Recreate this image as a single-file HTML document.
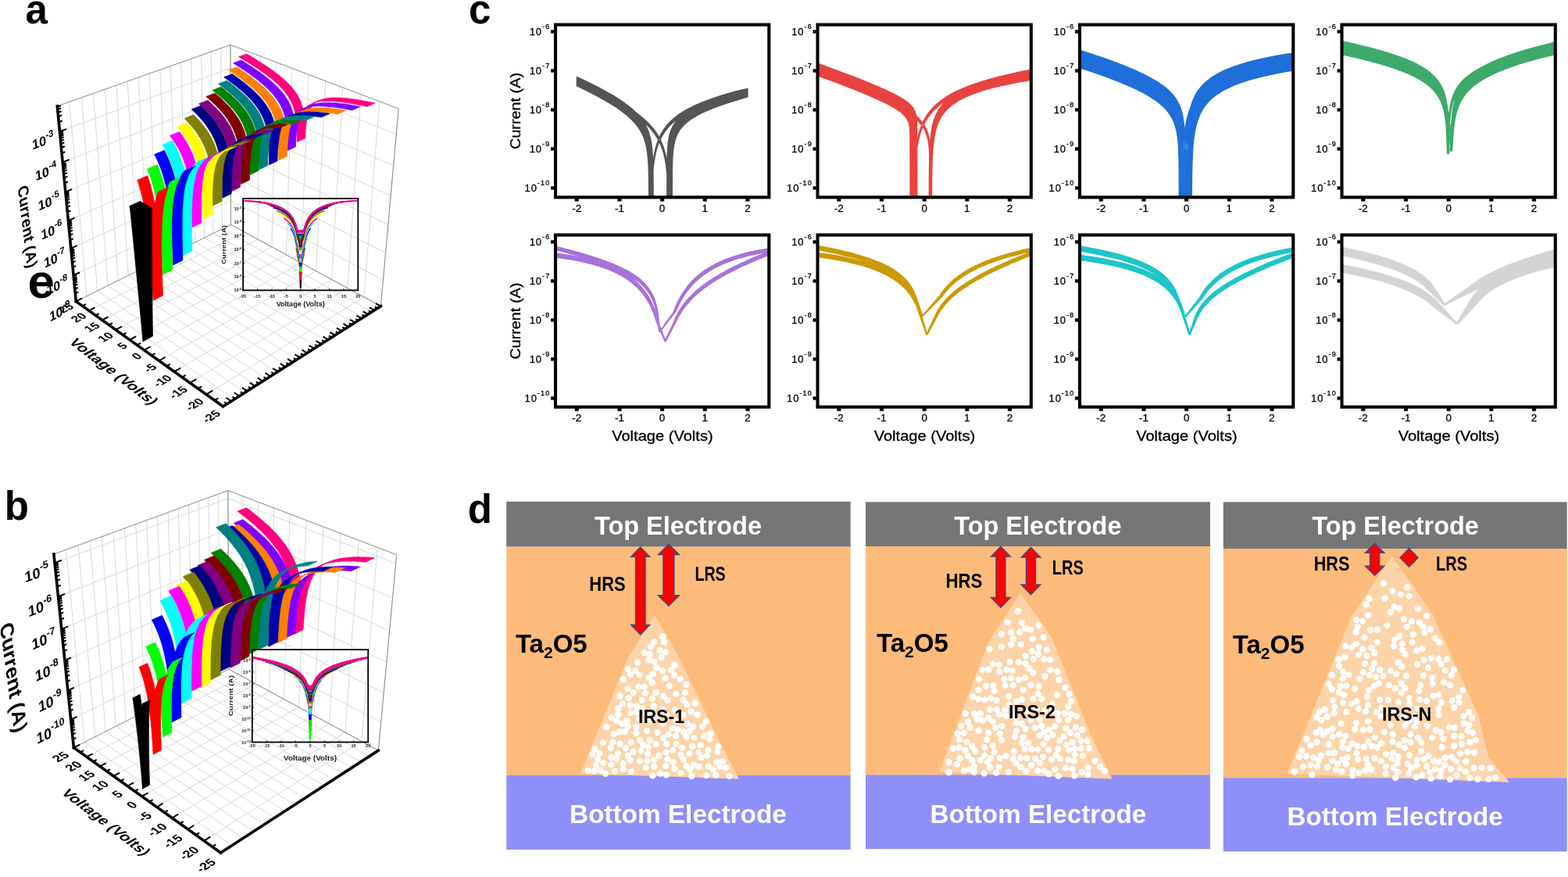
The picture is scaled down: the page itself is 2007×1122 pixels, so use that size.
<!DOCTYPE html>
<html><head><meta charset="utf-8"><title>Figure</title>
<style>html,body{margin:0;padding:0;background:#fff;overflow:hidden;}svg{display:block;}</style></head>
<body><svg width="2007" height="1122" viewBox="0 0 2007 1122">
<rect width="2007" height="1122" fill="#fff"/>
<g font-family='"Liberation Sans", Arial, sans-serif'>
<text x="598.7" y="668.5" font-size="51" font-weight="bold" fill="#000" text-anchor="start">d</text>
<rect x="648.2" y="641.7" width="440.5" height="57.9" fill="#767676"/>
<rect x="648.2" y="699.6" width="440.5" height="292.4" fill="#FDBB7B"/>
<rect x="648.2" y="992" width="440.5" height="95" fill="#8F8FFA"/>
<polygon points="838,787 804,841.4 742.8,990 945.9,996.5 926,959 867,837" fill="#FDD4AA"/>
<path d="M786.9,906.7a4.2,4.2 0 1,0 8.4,0a4.2,4.2 0 1,0 -8.4,0M861.3,922.2a4.2,4.2 0 1,0 8.4,0a4.2,4.2 0 1,0 -8.4,0M844.9,944.2a4.2,4.2 0 1,0 8.4,0a4.2,4.2 0 1,0 -8.4,0M883.6,978.5a4.2,4.2 0 1,0 8.4,0a4.2,4.2 0 1,0 -8.4,0M782.7,986.9a4.2,4.2 0 1,0 8.4,0a4.2,4.2 0 1,0 -8.4,0M857.3,975.3a4.2,4.2 0 1,0 8.4,0a4.2,4.2 0 1,0 -8.4,0M855.1,857.3a4.2,4.2 0 1,0 8.4,0a4.2,4.2 0 1,0 -8.4,0M912,991.6a4.2,4.2 0 1,0 8.4,0a4.2,4.2 0 1,0 -8.4,0M844.2,925.7a4.2,4.2 0 1,0 8.4,0a4.2,4.2 0 1,0 -8.4,0M844.4,907.5a4.2,4.2 0 1,0 8.4,0a4.2,4.2 0 1,0 -8.4,0M822.9,913.5a4.2,4.2 0 1,0 8.4,0a4.2,4.2 0 1,0 -8.4,0M810.2,937.7a4.2,4.2 0 1,0 8.4,0a4.2,4.2 0 1,0 -8.4,0M859,864a4.2,4.2 0 1,0 8.4,0a4.2,4.2 0 1,0 -8.4,0M806.4,961.8a4.2,4.2 0 1,0 8.4,0a4.2,4.2 0 1,0 -8.4,0M870.7,971.6a4.2,4.2 0 1,0 8.4,0a4.2,4.2 0 1,0 -8.4,0M777.4,956.7a4.2,4.2 0 1,0 8.4,0a4.2,4.2 0 1,0 -8.4,0M869,956.6a4.2,4.2 0 1,0 8.4,0a4.2,4.2 0 1,0 -8.4,0M793.7,869a4.2,4.2 0 1,0 8.4,0a4.2,4.2 0 1,0 -8.4,0M890,962.4a4.2,4.2 0 1,0 8.4,0a4.2,4.2 0 1,0 -8.4,0M844,858.1a4.2,4.2 0 1,0 8.4,0a4.2,4.2 0 1,0 -8.4,0M796.9,957.3a4.2,4.2 0 1,0 8.4,0a4.2,4.2 0 1,0 -8.4,0M920.7,974.4a4.2,4.2 0 1,0 8.4,0a4.2,4.2 0 1,0 -8.4,0M799.5,929.3a4.2,4.2 0 1,0 8.4,0a4.2,4.2 0 1,0 -8.4,0M822.6,981.9a4.2,4.2 0 1,0 8.4,0a4.2,4.2 0 1,0 -8.4,0M835.5,952a4.2,4.2 0 1,0 8.4,0a4.2,4.2 0 1,0 -8.4,0M902.3,959.9a4.2,4.2 0 1,0 8.4,0a4.2,4.2 0 1,0 -8.4,0M802.8,862.9a4.2,4.2 0 1,0 8.4,0a4.2,4.2 0 1,0 -8.4,0M870,914.7a4.2,4.2 0 1,0 8.4,0a4.2,4.2 0 1,0 -8.4,0M851.4,939.4a4.2,4.2 0 1,0 8.4,0a4.2,4.2 0 1,0 -8.4,0M861.4,952.1a4.2,4.2 0 1,0 8.4,0a4.2,4.2 0 1,0 -8.4,0M824,935.2a4.2,4.2 0 1,0 8.4,0a4.2,4.2 0 1,0 -8.4,0M917.3,981.4a4.2,4.2 0 1,0 8.4,0a4.2,4.2 0 1,0 -8.4,0M874.2,942.8a4.2,4.2 0 1,0 8.4,0a4.2,4.2 0 1,0 -8.4,0M767.7,950.5a4.2,4.2 0 1,0 8.4,0a4.2,4.2 0 1,0 -8.4,0M763.2,963.8a4.2,4.2 0 1,0 8.4,0a4.2,4.2 0 1,0 -8.4,0M908.4,984.4a4.2,4.2 0 1,0 8.4,0a4.2,4.2 0 1,0 -8.4,0M890.7,981a4.2,4.2 0 1,0 8.4,0a4.2,4.2 0 1,0 -8.4,0M813.2,878.6a4.2,4.2 0 1,0 8.4,0a4.2,4.2 0 1,0 -8.4,0M875.5,901.5a4.2,4.2 0 1,0 8.4,0a4.2,4.2 0 1,0 -8.4,0M879,984.6a4.2,4.2 0 1,0 8.4,0a4.2,4.2 0 1,0 -8.4,0M836,917.1a4.2,4.2 0 1,0 8.4,0a4.2,4.2 0 1,0 -8.4,0M833.5,846.7a4.2,4.2 0 1,0 8.4,0a4.2,4.2 0 1,0 -8.4,0M913,974.4a4.2,4.2 0 1,0 8.4,0a4.2,4.2 0 1,0 -8.4,0M856.5,931.7a4.2,4.2 0 1,0 8.4,0a4.2,4.2 0 1,0 -8.4,0M806.6,886.1a4.2,4.2 0 1,0 8.4,0a4.2,4.2 0 1,0 -8.4,0M818,906.7a4.2,4.2 0 1,0 8.4,0a4.2,4.2 0 1,0 -8.4,0M859.9,908.7a4.2,4.2 0 1,0 8.4,0a4.2,4.2 0 1,0 -8.4,0M831.6,862.5a4.2,4.2 0 1,0 8.4,0a4.2,4.2 0 1,0 -8.4,0M896.8,941.5a4.2,4.2 0 1,0 8.4,0a4.2,4.2 0 1,0 -8.4,0M904.3,945.6a4.2,4.2 0 1,0 8.4,0a4.2,4.2 0 1,0 -8.4,0M789.4,951.9a4.2,4.2 0 1,0 8.4,0a4.2,4.2 0 1,0 -8.4,0M867.3,989.1a4.2,4.2 0 1,0 8.4,0a4.2,4.2 0 1,0 -8.4,0M799.4,966.8a4.2,4.2 0 1,0 8.4,0a4.2,4.2 0 1,0 -8.4,0M860.7,941.5a4.2,4.2 0 1,0 8.4,0a4.2,4.2 0 1,0 -8.4,0M895.1,929.1a4.2,4.2 0 1,0 8.4,0a4.2,4.2 0 1,0 -8.4,0M845,890.7a4.2,4.2 0 1,0 8.4,0a4.2,4.2 0 1,0 -8.4,0M811.7,847.5a4.2,4.2 0 1,0 8.4,0a4.2,4.2 0 1,0 -8.4,0M848,980.1a4.2,4.2 0 1,0 8.4,0a4.2,4.2 0 1,0 -8.4,0M884,943.9a4.2,4.2 0 1,0 8.4,0a4.2,4.2 0 1,0 -8.4,0M902.4,980.5a4.2,4.2 0 1,0 8.4,0a4.2,4.2 0 1,0 -8.4,0M827.4,947.2a4.2,4.2 0 1,0 8.4,0a4.2,4.2 0 1,0 -8.4,0M820.6,835.1a4.2,4.2 0 1,0 8.4,0a4.2,4.2 0 1,0 -8.4,0M820.5,878.6a4.2,4.2 0 1,0 8.4,0a4.2,4.2 0 1,0 -8.4,0M833.1,980.7a4.2,4.2 0 1,0 8.4,0a4.2,4.2 0 1,0 -8.4,0M866.4,868.7a4.2,4.2 0 1,0 8.4,0a4.2,4.2 0 1,0 -8.4,0M924.9,982.1a4.2,4.2 0 1,0 8.4,0a4.2,4.2 0 1,0 -8.4,0M836.2,854.3a4.2,4.2 0 1,0 8.4,0a4.2,4.2 0 1,0 -8.4,0M817.2,895.8a4.2,4.2 0 1,0 8.4,0a4.2,4.2 0 1,0 -8.4,0M786.8,963.7a4.2,4.2 0 1,0 8.4,0a4.2,4.2 0 1,0 -8.4,0M893.2,969.1a4.2,4.2 0 1,0 8.4,0a4.2,4.2 0 1,0 -8.4,0M861.1,887.9a4.2,4.2 0 1,0 8.4,0a4.2,4.2 0 1,0 -8.4,0M799.4,881.3a4.2,4.2 0 1,0 8.4,0a4.2,4.2 0 1,0 -8.4,0M832.7,903.2a4.2,4.2 0 1,0 8.4,0a4.2,4.2 0 1,0 -8.4,0M832.7,971.9a4.2,4.2 0 1,0 8.4,0a4.2,4.2 0 1,0 -8.4,0M847.4,834.6a4.2,4.2 0 1,0 8.4,0a4.2,4.2 0 1,0 -8.4,0M780,949.7a4.2,4.2 0 1,0 8.4,0a4.2,4.2 0 1,0 -8.4,0M826.4,867.4a4.2,4.2 0 1,0 8.4,0a4.2,4.2 0 1,0 -8.4,0M892.6,953.4a4.2,4.2 0 1,0 8.4,0a4.2,4.2 0 1,0 -8.4,0M873.8,979.9a4.2,4.2 0 1,0 8.4,0a4.2,4.2 0 1,0 -8.4,0M802.6,902.4a4.2,4.2 0 1,0 8.4,0a4.2,4.2 0 1,0 -8.4,0M850.3,895.9a4.2,4.2 0 1,0 8.4,0a4.2,4.2 0 1,0 -8.4,0M778.2,978.4a4.2,4.2 0 1,0 8.4,0a4.2,4.2 0 1,0 -8.4,0M816.4,960.8a4.2,4.2 0 1,0 8.4,0a4.2,4.2 0 1,0 -8.4,0M793.6,984a4.2,4.2 0 1,0 8.4,0a4.2,4.2 0 1,0 -8.4,0M875.6,926.2a4.2,4.2 0 1,0 8.4,0a4.2,4.2 0 1,0 -8.4,0M748.5,986a4.2,4.2 0 1,0 8.4,0a4.2,4.2 0 1,0 -8.4,0M929.4,992.9a4.2,4.2 0 1,0 8.4,0a4.2,4.2 0 1,0 -8.4,0M837.1,937a4.2,4.2 0 1,0 8.4,0a4.2,4.2 0 1,0 -8.4,0M899.9,991.9a4.2,4.2 0 1,0 8.4,0a4.2,4.2 0 1,0 -8.4,0M814.5,863.6a4.2,4.2 0 1,0 8.4,0a4.2,4.2 0 1,0 -8.4,0M913.7,962.1a4.2,4.2 0 1,0 8.4,0a4.2,4.2 0 1,0 -8.4,0M830.6,894a4.2,4.2 0 1,0 8.4,0a4.2,4.2 0 1,0 -8.4,0M828.3,920.7a4.2,4.2 0 1,0 8.4,0a4.2,4.2 0 1,0 -8.4,0M825,964.4a4.2,4.2 0 1,0 8.4,0a4.2,4.2 0 1,0 -8.4,0M850,971.4a4.2,4.2 0 1,0 8.4,0a4.2,4.2 0 1,0 -8.4,0M813.9,920.1a4.2,4.2 0 1,0 8.4,0a4.2,4.2 0 1,0 -8.4,0M872.6,886.1a4.2,4.2 0 1,0 8.4,0a4.2,4.2 0 1,0 -8.4,0M824.3,973.4a4.2,4.2 0 1,0 8.4,0a4.2,4.2 0 1,0 -8.4,0M778,969a4.2,4.2 0 1,0 8.4,0a4.2,4.2 0 1,0 -8.4,0M788.5,936.3a4.2,4.2 0 1,0 8.4,0a4.2,4.2 0 1,0 -8.4,0M857,959.9a4.2,4.2 0 1,0 8.4,0a4.2,4.2 0 1,0 -8.4,0M848.6,991.3a4.2,4.2 0 1,0 8.4,0a4.2,4.2 0 1,0 -8.4,0M880.3,910.2a4.2,4.2 0 1,0 8.4,0a4.2,4.2 0 1,0 -8.4,0M835.4,885.7a4.2,4.2 0 1,0 8.4,0a4.2,4.2 0 1,0 -8.4,0M842.3,841a4.2,4.2 0 1,0 8.4,0a4.2,4.2 0 1,0 -8.4,0M772.2,930.1a4.2,4.2 0 1,0 8.4,0a4.2,4.2 0 1,0 -8.4,0M825.5,956.2a4.2,4.2 0 1,0 8.4,0a4.2,4.2 0 1,0 -8.4,0M849.1,914.6a4.2,4.2 0 1,0 8.4,0a4.2,4.2 0 1,0 -8.4,0M770.8,989.8a4.2,4.2 0 1,0 8.4,0a4.2,4.2 0 1,0 -8.4,0M831.2,992.4a4.2,4.2 0 1,0 8.4,0a4.2,4.2 0 1,0 -8.4,0M795.8,936.1a4.2,4.2 0 1,0 8.4,0a4.2,4.2 0 1,0 -8.4,0M802.7,912.1a4.2,4.2 0 1,0 8.4,0a4.2,4.2 0 1,0 -8.4,0M758.9,979.5a4.2,4.2 0 1,0 8.4,0a4.2,4.2 0 1,0 -8.4,0M800.5,893a4.2,4.2 0 1,0 8.4,0a4.2,4.2 0 1,0 -8.4,0M756.6,986.7a4.2,4.2 0 1,0 8.4,0a4.2,4.2 0 1,0 -8.4,0M852.4,877.5a4.2,4.2 0 1,0 8.4,0a4.2,4.2 0 1,0 -8.4,0M787.3,914.4a4.2,4.2 0 1,0 8.4,0a4.2,4.2 0 1,0 -8.4,0M778.5,918.4a4.2,4.2 0 1,0 8.4,0a4.2,4.2 0 1,0 -8.4,0M859.4,983.4a4.2,4.2 0 1,0 8.4,0a4.2,4.2 0 1,0 -8.4,0M859.1,850.8a4.2,4.2 0 1,0 8.4,0a4.2,4.2 0 1,0 -8.4,0M848.4,962.8a4.2,4.2 0 1,0 8.4,0a4.2,4.2 0 1,0 -8.4,0M781.4,939.3a4.2,4.2 0 1,0 8.4,0a4.2,4.2 0 1,0 -8.4,0M901.1,966.7a4.2,4.2 0 1,0 8.4,0a4.2,4.2 0 1,0 -8.4,0M826.1,844.3a4.2,4.2 0 1,0 8.4,0a4.2,4.2 0 1,0 -8.4,0M831,910.7a4.2,4.2 0 1,0 8.4,0a4.2,4.2 0 1,0 -8.4,0M798.2,922.1a4.2,4.2 0 1,0 8.4,0a4.2,4.2 0 1,0 -8.4,0M839.4,966.7a4.2,4.2 0 1,0 8.4,0a4.2,4.2 0 1,0 -8.4,0M878.1,964a4.2,4.2 0 1,0 8.4,0a4.2,4.2 0 1,0 -8.4,0M785,971.2a4.2,4.2 0 1,0 8.4,0a4.2,4.2 0 1,0 -8.4,0M870.4,895.5a4.2,4.2 0 1,0 8.4,0a4.2,4.2 0 1,0 -8.4,0M840.2,832.3a4.2,4.2 0 1,0 8.4,0a4.2,4.2 0 1,0 -8.4,0M789.3,890.8a4.2,4.2 0 1,0 8.4,0a4.2,4.2 0 1,0 -8.4,0M760.7,971.4a4.2,4.2 0 1,0 8.4,0a4.2,4.2 0 1,0 -8.4,0M866.8,965.7a4.2,4.2 0 1,0 8.4,0a4.2,4.2 0 1,0 -8.4,0M832.9,821.4a4.2,4.2 0 1,0 8.4,0a4.2,4.2 0 1,0 -8.4,0M888.3,914.3a4.2,4.2 0 1,0 8.4,0a4.2,4.2 0 1,0 -8.4,0M899.6,922.7a4.2,4.2 0 1,0 8.4,0a4.2,4.2 0 1,0 -8.4,0M802.8,972.9a4.2,4.2 0 1,0 8.4,0a4.2,4.2 0 1,0 -8.4,0M754,965.3a4.2,4.2 0 1,0 8.4,0a4.2,4.2 0 1,0 -8.4,0M828.7,827.5a4.2,4.2 0 1,0 8.4,0a4.2,4.2 0 1,0 -8.4,0M863.2,933.4a4.2,4.2 0 1,0 8.4,0a4.2,4.2 0 1,0 -8.4,0M803.3,949.7a4.2,4.2 0 1,0 8.4,0a4.2,4.2 0 1,0 -8.4,0M871.1,936.4a4.2,4.2 0 1,0 8.4,0a4.2,4.2 0 1,0 -8.4,0M905.1,938.4a4.2,4.2 0 1,0 8.4,0a4.2,4.2 0 1,0 -8.4,0M799.9,855.9a4.2,4.2 0 1,0 8.4,0a4.2,4.2 0 1,0 -8.4,0M810.8,911.2a4.2,4.2 0 1,0 8.4,0a4.2,4.2 0 1,0 -8.4,0M885.7,899.8a4.2,4.2 0 1,0 8.4,0a4.2,4.2 0 1,0 -8.4,0M814.8,946.9a4.2,4.2 0 1,0 8.4,0a4.2,4.2 0 1,0 -8.4,0M849,952a4.2,4.2 0 1,0 8.4,0a4.2,4.2 0 1,0 -8.4,0M840.5,989.5a4.2,4.2 0 1,0 8.4,0a4.2,4.2 0 1,0 -8.4,0M878.6,935.2a4.2,4.2 0 1,0 8.4,0a4.2,4.2 0 1,0 -8.4,0M810,930a4.2,4.2 0 1,0 8.4,0a4.2,4.2 0 1,0 -8.4,0M883,929.8a4.2,4.2 0 1,0 8.4,0a4.2,4.2 0 1,0 -8.4,0M768.1,976.4a4.2,4.2 0 1,0 8.4,0a4.2,4.2 0 1,0 -8.4,0M827.8,836.7a4.2,4.2 0 1,0 8.4,0a4.2,4.2 0 1,0 -8.4,0M792.5,900.4a4.2,4.2 0 1,0 8.4,0a4.2,4.2 0 1,0 -8.4,0M803.8,987.1a4.2,4.2 0 1,0 8.4,0a4.2,4.2 0 1,0 -8.4,0M830.7,873.5a4.2,4.2 0 1,0 8.4,0a4.2,4.2 0 1,0 -8.4,0M847.3,867.7a4.2,4.2 0 1,0 8.4,0a4.2,4.2 0 1,0 -8.4,0M874.3,875.8a4.2,4.2 0 1,0 8.4,0a4.2,4.2 0 1,0 -8.4,0M821.8,887a4.2,4.2 0 1,0 8.4,0a4.2,4.2 0 1,0 -8.4,0M844,814.2a4.2,4.2 0 1,0 8.4,0a4.2,4.2 0 1,0 -8.4,0M757,958.1a4.2,4.2 0 1,0 8.4,0a4.2,4.2 0 1,0 -8.4,0M814.8,973.8a4.2,4.2 0 1,0 8.4,0a4.2,4.2 0 1,0 -8.4,0M809.2,857.7a4.2,4.2 0 1,0 8.4,0a4.2,4.2 0 1,0 -8.4,0M846.1,821.5a4.2,4.2 0 1,0 8.4,0a4.2,4.2 0 1,0 -8.4,0M819,953.1a4.2,4.2 0 1,0 8.4,0a4.2,4.2 0 1,0 -8.4,0M810.9,903.1a4.2,4.2 0 1,0 8.4,0a4.2,4.2 0 1,0 -8.4,0M914.9,955a4.2,4.2 0 1,0 8.4,0a4.2,4.2 0 1,0 -8.4,0M785,922.1a4.2,4.2 0 1,0 8.4,0a4.2,4.2 0 1,0 -8.4,0M881,993a4.2,4.2 0 1,0 8.4,0a4.2,4.2 0 1,0 -8.4,0M764.9,985.7a4.2,4.2 0 1,0 8.4,0a4.2,4.2 0 1,0 -8.4,0M882.1,954.8a4.2,4.2 0 1,0 8.4,0a4.2,4.2 0 1,0 -8.4,0M791.9,925.7a4.2,4.2 0 1,0 8.4,0a4.2,4.2 0 1,0 -8.4,0M793.4,977a4.2,4.2 0 1,0 8.4,0a4.2,4.2 0 1,0 -8.4,0" fill="#fff"/>
<text x="761" y="683.7" font-size="33" font-weight="bold" fill="#fff" text-anchor="start" textLength="214" lengthAdjust="spacingAndGlyphs">Top Electrode</text>
<text x="728.9" y="1053.2" font-size="33" font-weight="bold" fill="#fff" text-anchor="start" textLength="278" lengthAdjust="spacingAndGlyphs">Bottom Electrode</text>
<polygon points="819.7,699.7 831.7,712.2 826,712.2 826,799.5 831.7,799.5 819.7,812 807.7,799.5 813.5,799.5 813.5,712.2 807.7,712.2" fill="#FF0000" stroke="#3A4F8A" stroke-width="1.4" stroke-linejoin="miter"/>
<polygon points="855.9,696.2 869.4,709.6 862.9,709.6 862.9,761.8 869.4,761.8 855.9,775.2 842.4,761.8 848.9,761.8 848.9,709.6 842.4,709.6" fill="#FF0000" stroke="#3A4F8A" stroke-width="1.4" stroke-linejoin="miter"/>
<text x="754.3" y="755.5" font-size="25" font-weight="bold" fill="#000" text-anchor="start" textLength="46.3" lengthAdjust="spacingAndGlyphs">HRS</text>
<text x="889.4" y="743.4" font-size="25" font-weight="bold" fill="#000" text-anchor="start" textLength="39.3" lengthAdjust="spacingAndGlyphs">LRS</text>
<text x="659.9" y="834.9" font-size="33" font-weight="bold" fill="#000">Ta<tspan font-size="21" dy="7">2</tspan><tspan dy="-7">O5</tspan></text>
<text x="817" y="925.3" font-size="24" font-weight="bold" fill="#000" text-anchor="start" textLength="59" lengthAdjust="spacingAndGlyphs">IRS-1</text>
<rect x="1108" y="642.2" width="441" height="56.9" fill="#767676"/>
<rect x="1108" y="699.1" width="441" height="292.2" fill="#FDBB7B"/>
<rect x="1108" y="991.3" width="441" height="94.9" fill="#8F8FFA"/>
<polygon points="1306,759 1265.4,821 1202,987.8 1423.6,996.4 1398,945 1346.6,816.7" fill="#FDD4AA"/>
<path d="M1341.6,971.8a4.2,4.2 0 1,0 8.4,0a4.2,4.2 0 1,0 -8.4,0M1259.7,975.1a4.2,4.2 0 1,0 8.4,0a4.2,4.2 0 1,0 -8.4,0M1233.2,949.1a4.2,4.2 0 1,0 8.4,0a4.2,4.2 0 1,0 -8.4,0M1243.2,980.5a4.2,4.2 0 1,0 8.4,0a4.2,4.2 0 1,0 -8.4,0M1277.8,811.2a4.2,4.2 0 1,0 8.4,0a4.2,4.2 0 1,0 -8.4,0M1266.5,953.8a4.2,4.2 0 1,0 8.4,0a4.2,4.2 0 1,0 -8.4,0M1210.4,988a4.2,4.2 0 1,0 8.4,0a4.2,4.2 0 1,0 -8.4,0M1364,959.5a4.2,4.2 0 1,0 8.4,0a4.2,4.2 0 1,0 -8.4,0M1403.8,980.7a4.2,4.2 0 1,0 8.4,0a4.2,4.2 0 1,0 -8.4,0M1221.7,938.5a4.2,4.2 0 1,0 8.4,0a4.2,4.2 0 1,0 -8.4,0M1318.6,843.2a4.2,4.2 0 1,0 8.4,0a4.2,4.2 0 1,0 -8.4,0M1350.5,992.7a4.2,4.2 0 1,0 8.4,0a4.2,4.2 0 1,0 -8.4,0M1210.1,975.1a4.2,4.2 0 1,0 8.4,0a4.2,4.2 0 1,0 -8.4,0M1307.2,958.1a4.2,4.2 0 1,0 8.4,0a4.2,4.2 0 1,0 -8.4,0M1359.9,982.4a4.2,4.2 0 1,0 8.4,0a4.2,4.2 0 1,0 -8.4,0M1230.9,959.5a4.2,4.2 0 1,0 8.4,0a4.2,4.2 0 1,0 -8.4,0M1359.5,879.6a4.2,4.2 0 1,0 8.4,0a4.2,4.2 0 1,0 -8.4,0M1308.4,848.9a4.2,4.2 0 1,0 8.4,0a4.2,4.2 0 1,0 -8.4,0M1277.9,946.7a4.2,4.2 0 1,0 8.4,0a4.2,4.2 0 1,0 -8.4,0M1278.3,928.9a4.2,4.2 0 1,0 8.4,0a4.2,4.2 0 1,0 -8.4,0M1305.4,943.1a4.2,4.2 0 1,0 8.4,0a4.2,4.2 0 1,0 -8.4,0M1262.9,981.5a4.2,4.2 0 1,0 8.4,0a4.2,4.2 0 1,0 -8.4,0M1253.4,921.7a4.2,4.2 0 1,0 8.4,0a4.2,4.2 0 1,0 -8.4,0M1303.6,926a4.2,4.2 0 1,0 8.4,0a4.2,4.2 0 1,0 -8.4,0M1326.5,920.4a4.2,4.2 0 1,0 8.4,0a4.2,4.2 0 1,0 -8.4,0M1336,944.2a4.2,4.2 0 1,0 8.4,0a4.2,4.2 0 1,0 -8.4,0M1295.5,917a4.2,4.2 0 1,0 8.4,0a4.2,4.2 0 1,0 -8.4,0M1349.8,912.8a4.2,4.2 0 1,0 8.4,0a4.2,4.2 0 1,0 -8.4,0M1302.3,824.4a4.2,4.2 0 1,0 8.4,0a4.2,4.2 0 1,0 -8.4,0M1282.1,908.6a4.2,4.2 0 1,0 8.4,0a4.2,4.2 0 1,0 -8.4,0M1250.5,972.3a4.2,4.2 0 1,0 8.4,0a4.2,4.2 0 1,0 -8.4,0M1223.3,956.6a4.2,4.2 0 1,0 8.4,0a4.2,4.2 0 1,0 -8.4,0M1409.9,986.4a4.2,4.2 0 1,0 8.4,0a4.2,4.2 0 1,0 -8.4,0M1275.6,970.1a4.2,4.2 0 1,0 8.4,0a4.2,4.2 0 1,0 -8.4,0M1281.1,869.3a4.2,4.2 0 1,0 8.4,0a4.2,4.2 0 1,0 -8.4,0M1255.4,989.2a4.2,4.2 0 1,0 8.4,0a4.2,4.2 0 1,0 -8.4,0M1262.8,907.8a4.2,4.2 0 1,0 8.4,0a4.2,4.2 0 1,0 -8.4,0M1315.2,876.4a4.2,4.2 0 1,0 8.4,0a4.2,4.2 0 1,0 -8.4,0M1362.9,904a4.2,4.2 0 1,0 8.4,0a4.2,4.2 0 1,0 -8.4,0M1351.7,869.5a4.2,4.2 0 1,0 8.4,0a4.2,4.2 0 1,0 -8.4,0M1370.8,973.9a4.2,4.2 0 1,0 8.4,0a4.2,4.2 0 1,0 -8.4,0M1303.8,894.9a4.2,4.2 0 1,0 8.4,0a4.2,4.2 0 1,0 -8.4,0M1379.4,947.9a4.2,4.2 0 1,0 8.4,0a4.2,4.2 0 1,0 -8.4,0M1333.1,865.4a4.2,4.2 0 1,0 8.4,0a4.2,4.2 0 1,0 -8.4,0M1231.3,912.9a4.2,4.2 0 1,0 8.4,0a4.2,4.2 0 1,0 -8.4,0M1256.1,895.5a4.2,4.2 0 1,0 8.4,0a4.2,4.2 0 1,0 -8.4,0M1364.1,887.9a4.2,4.2 0 1,0 8.4,0a4.2,4.2 0 1,0 -8.4,0M1237.5,930.8a4.2,4.2 0 1,0 8.4,0a4.2,4.2 0 1,0 -8.4,0M1275.1,859.2a4.2,4.2 0 1,0 8.4,0a4.2,4.2 0 1,0 -8.4,0M1293.8,961a4.2,4.2 0 1,0 8.4,0a4.2,4.2 0 1,0 -8.4,0M1285.4,796.2a4.2,4.2 0 1,0 8.4,0a4.2,4.2 0 1,0 -8.4,0M1302,969.3a4.2,4.2 0 1,0 8.4,0a4.2,4.2 0 1,0 -8.4,0M1292.8,876.7a4.2,4.2 0 1,0 8.4,0a4.2,4.2 0 1,0 -8.4,0M1283.3,967.3a4.2,4.2 0 1,0 8.4,0a4.2,4.2 0 1,0 -8.4,0M1302.3,981.5a4.2,4.2 0 1,0 8.4,0a4.2,4.2 0 1,0 -8.4,0M1286.7,987.6a4.2,4.2 0 1,0 8.4,0a4.2,4.2 0 1,0 -8.4,0M1266.9,877.2a4.2,4.2 0 1,0 8.4,0a4.2,4.2 0 1,0 -8.4,0M1360.1,931.8a4.2,4.2 0 1,0 8.4,0a4.2,4.2 0 1,0 -8.4,0M1287,891a4.2,4.2 0 1,0 8.4,0a4.2,4.2 0 1,0 -8.4,0M1325.7,828.6a4.2,4.2 0 1,0 8.4,0a4.2,4.2 0 1,0 -8.4,0M1261.2,856.6a4.2,4.2 0 1,0 8.4,0a4.2,4.2 0 1,0 -8.4,0M1321,970.7a4.2,4.2 0 1,0 8.4,0a4.2,4.2 0 1,0 -8.4,0M1367.1,896.7a4.2,4.2 0 1,0 8.4,0a4.2,4.2 0 1,0 -8.4,0M1388.3,982.3a4.2,4.2 0 1,0 8.4,0a4.2,4.2 0 1,0 -8.4,0M1249,868.7a4.2,4.2 0 1,0 8.4,0a4.2,4.2 0 1,0 -8.4,0M1381,933.7a4.2,4.2 0 1,0 8.4,0a4.2,4.2 0 1,0 -8.4,0M1300,869.8a4.2,4.2 0 1,0 8.4,0a4.2,4.2 0 1,0 -8.4,0M1351.3,921.4a4.2,4.2 0 1,0 8.4,0a4.2,4.2 0 1,0 -8.4,0M1348.4,889.1a4.2,4.2 0 1,0 8.4,0a4.2,4.2 0 1,0 -8.4,0M1326.4,940.9a4.2,4.2 0 1,0 8.4,0a4.2,4.2 0 1,0 -8.4,0M1346.3,984a4.2,4.2 0 1,0 8.4,0a4.2,4.2 0 1,0 -8.4,0M1350.2,958.1a4.2,4.2 0 1,0 8.4,0a4.2,4.2 0 1,0 -8.4,0M1318.3,860.9a4.2,4.2 0 1,0 8.4,0a4.2,4.2 0 1,0 -8.4,0M1397.1,973.8a4.2,4.2 0 1,0 8.4,0a4.2,4.2 0 1,0 -8.4,0M1320.4,931.2a4.2,4.2 0 1,0 8.4,0a4.2,4.2 0 1,0 -8.4,0M1381.8,966.9a4.2,4.2 0 1,0 8.4,0a4.2,4.2 0 1,0 -8.4,0M1290.2,867.9a4.2,4.2 0 1,0 8.4,0a4.2,4.2 0 1,0 -8.4,0M1331.9,986.1a4.2,4.2 0 1,0 8.4,0a4.2,4.2 0 1,0 -8.4,0M1331.5,815.2a4.2,4.2 0 1,0 8.4,0a4.2,4.2 0 1,0 -8.4,0M1303.4,797a4.2,4.2 0 1,0 8.4,0a4.2,4.2 0 1,0 -8.4,0M1360.9,953.3a4.2,4.2 0 1,0 8.4,0a4.2,4.2 0 1,0 -8.4,0M1352.2,947.3a4.2,4.2 0 1,0 8.4,0a4.2,4.2 0 1,0 -8.4,0M1257.8,877.6a4.2,4.2 0 1,0 8.4,0a4.2,4.2 0 1,0 -8.4,0M1340.4,856.9a4.2,4.2 0 1,0 8.4,0a4.2,4.2 0 1,0 -8.4,0M1229.7,986.3a4.2,4.2 0 1,0 8.4,0a4.2,4.2 0 1,0 -8.4,0M1258.9,946.2a4.2,4.2 0 1,0 8.4,0a4.2,4.2 0 1,0 -8.4,0M1255.9,956.1a4.2,4.2 0 1,0 8.4,0a4.2,4.2 0 1,0 -8.4,0M1256.2,966.4a4.2,4.2 0 1,0 8.4,0a4.2,4.2 0 1,0 -8.4,0M1333.3,908.7a4.2,4.2 0 1,0 8.4,0a4.2,4.2 0 1,0 -8.4,0M1301,808.9a4.2,4.2 0 1,0 8.4,0a4.2,4.2 0 1,0 -8.4,0M1292,910.8a4.2,4.2 0 1,0 8.4,0a4.2,4.2 0 1,0 -8.4,0M1371.6,957.6a4.2,4.2 0 1,0 8.4,0a4.2,4.2 0 1,0 -8.4,0M1337.9,959.4a4.2,4.2 0 1,0 8.4,0a4.2,4.2 0 1,0 -8.4,0M1338.8,933.1a4.2,4.2 0 1,0 8.4,0a4.2,4.2 0 1,0 -8.4,0M1288.3,846.9a4.2,4.2 0 1,0 8.4,0a4.2,4.2 0 1,0 -8.4,0M1290,824.4a4.2,4.2 0 1,0 8.4,0a4.2,4.2 0 1,0 -8.4,0M1315,805.5a4.2,4.2 0 1,0 8.4,0a4.2,4.2 0 1,0 -8.4,0M1260.8,937.5a4.2,4.2 0 1,0 8.4,0a4.2,4.2 0 1,0 -8.4,0M1343,940.3a4.2,4.2 0 1,0 8.4,0a4.2,4.2 0 1,0 -8.4,0M1242.7,987.8a4.2,4.2 0 1,0 8.4,0a4.2,4.2 0 1,0 -8.4,0M1283.1,915.8a4.2,4.2 0 1,0 8.4,0a4.2,4.2 0 1,0 -8.4,0M1296.3,924.9a4.2,4.2 0 1,0 8.4,0a4.2,4.2 0 1,0 -8.4,0M1316,958.5a4.2,4.2 0 1,0 8.4,0a4.2,4.2 0 1,0 -8.4,0M1303.7,950.4a4.2,4.2 0 1,0 8.4,0a4.2,4.2 0 1,0 -8.4,0M1246.5,920.3a4.2,4.2 0 1,0 8.4,0a4.2,4.2 0 1,0 -8.4,0M1268.9,962.1a4.2,4.2 0 1,0 8.4,0a4.2,4.2 0 1,0 -8.4,0M1266.4,923a4.2,4.2 0 1,0 8.4,0a4.2,4.2 0 1,0 -8.4,0M1274.4,981.4a4.2,4.2 0 1,0 8.4,0a4.2,4.2 0 1,0 -8.4,0M1343.4,909.3a4.2,4.2 0 1,0 8.4,0a4.2,4.2 0 1,0 -8.4,0M1296.6,935.3a4.2,4.2 0 1,0 8.4,0a4.2,4.2 0 1,0 -8.4,0M1260.9,918.4a4.2,4.2 0 1,0 8.4,0a4.2,4.2 0 1,0 -8.4,0M1298.9,782.1a4.2,4.2 0 1,0 8.4,0a4.2,4.2 0 1,0 -8.4,0M1324.8,836.7a4.2,4.2 0 1,0 8.4,0a4.2,4.2 0 1,0 -8.4,0M1387.3,947.7a4.2,4.2 0 1,0 8.4,0a4.2,4.2 0 1,0 -8.4,0M1329,928.9a4.2,4.2 0 1,0 8.4,0a4.2,4.2 0 1,0 -8.4,0M1321.8,907.2a4.2,4.2 0 1,0 8.4,0a4.2,4.2 0 1,0 -8.4,0M1296.7,897.4a4.2,4.2 0 1,0 8.4,0a4.2,4.2 0 1,0 -8.4,0M1220.4,977.9a4.2,4.2 0 1,0 8.4,0a4.2,4.2 0 1,0 -8.4,0M1308.3,839.4a4.2,4.2 0 1,0 8.4,0a4.2,4.2 0 1,0 -8.4,0M1368.6,983.9a4.2,4.2 0 1,0 8.4,0a4.2,4.2 0 1,0 -8.4,0M1248.1,882.5a4.2,4.2 0 1,0 8.4,0a4.2,4.2 0 1,0 -8.4,0M1357.8,942.1a4.2,4.2 0 1,0 8.4,0a4.2,4.2 0 1,0 -8.4,0M1315.6,920.8a4.2,4.2 0 1,0 8.4,0a4.2,4.2 0 1,0 -8.4,0M1268.4,884.1a4.2,4.2 0 1,0 8.4,0a4.2,4.2 0 1,0 -8.4,0M1295.2,942.3a4.2,4.2 0 1,0 8.4,0a4.2,4.2 0 1,0 -8.4,0M1313.3,855.1a4.2,4.2 0 1,0 8.4,0a4.2,4.2 0 1,0 -8.4,0M1244.2,961.2a4.2,4.2 0 1,0 8.4,0a4.2,4.2 0 1,0 -8.4,0M1274.8,850.4a4.2,4.2 0 1,0 8.4,0a4.2,4.2 0 1,0 -8.4,0M1292.6,817.5a4.2,4.2 0 1,0 8.4,0a4.2,4.2 0 1,0 -8.4,0M1372.8,930.5a4.2,4.2 0 1,0 8.4,0a4.2,4.2 0 1,0 -8.4,0M1290.2,809.3a4.2,4.2 0 1,0 8.4,0a4.2,4.2 0 1,0 -8.4,0M1271,988.6a4.2,4.2 0 1,0 8.4,0a4.2,4.2 0 1,0 -8.4,0M1307.8,867.1a4.2,4.2 0 1,0 8.4,0a4.2,4.2 0 1,0 -8.4,0M1325.5,800a4.2,4.2 0 1,0 8.4,0a4.2,4.2 0 1,0 -8.4,0M1248.4,934.7a4.2,4.2 0 1,0 8.4,0a4.2,4.2 0 1,0 -8.4,0M1349,859.5a4.2,4.2 0 1,0 8.4,0a4.2,4.2 0 1,0 -8.4,0M1315.9,979.3a4.2,4.2 0 1,0 8.4,0a4.2,4.2 0 1,0 -8.4,0M1240.3,972.6a4.2,4.2 0 1,0 8.4,0a4.2,4.2 0 1,0 -8.4,0M1389.6,957.2a4.2,4.2 0 1,0 8.4,0a4.2,4.2 0 1,0 -8.4,0M1292.6,970.4a4.2,4.2 0 1,0 8.4,0a4.2,4.2 0 1,0 -8.4,0M1234.6,923.5a4.2,4.2 0 1,0 8.4,0a4.2,4.2 0 1,0 -8.4,0M1262.3,830.6a4.2,4.2 0 1,0 8.4,0a4.2,4.2 0 1,0 -8.4,0M1229.6,937.7a4.2,4.2 0 1,0 8.4,0a4.2,4.2 0 1,0 -8.4,0M1291.5,858a4.2,4.2 0 1,0 8.4,0a4.2,4.2 0 1,0 -8.4,0M1253.1,857.3a4.2,4.2 0 1,0 8.4,0a4.2,4.2 0 1,0 -8.4,0M1250.7,912.7a4.2,4.2 0 1,0 8.4,0a4.2,4.2 0 1,0 -8.4,0M1236.8,984.1a4.2,4.2 0 1,0 8.4,0a4.2,4.2 0 1,0 -8.4,0M1282.2,876.9a4.2,4.2 0 1,0 8.4,0a4.2,4.2 0 1,0 -8.4,0M1318.3,894.3a4.2,4.2 0 1,0 8.4,0a4.2,4.2 0 1,0 -8.4,0M1308,803.9a4.2,4.2 0 1,0 8.4,0a4.2,4.2 0 1,0 -8.4,0M1324.3,958.9a4.2,4.2 0 1,0 8.4,0a4.2,4.2 0 1,0 -8.4,0M1371.1,992.3a4.2,4.2 0 1,0 8.4,0a4.2,4.2 0 1,0 -8.4,0M1287.5,901.8a4.2,4.2 0 1,0 8.4,0a4.2,4.2 0 1,0 -8.4,0M1274.9,914.4a4.2,4.2 0 1,0 8.4,0a4.2,4.2 0 1,0 -8.4,0M1305.3,882.5a4.2,4.2 0 1,0 8.4,0a4.2,4.2 0 1,0 -8.4,0M1326.7,976.3a4.2,4.2 0 1,0 8.4,0a4.2,4.2 0 1,0 -8.4,0M1323.7,986.3a4.2,4.2 0 1,0 8.4,0a4.2,4.2 0 1,0 -8.4,0M1379.6,957.4a4.2,4.2 0 1,0 8.4,0a4.2,4.2 0 1,0 -8.4,0M1264.2,969.9a4.2,4.2 0 1,0 8.4,0a4.2,4.2 0 1,0 -8.4,0M1264.1,893.2a4.2,4.2 0 1,0 8.4,0a4.2,4.2 0 1,0 -8.4,0M1224.6,970.1a4.2,4.2 0 1,0 8.4,0a4.2,4.2 0 1,0 -8.4,0M1363.2,972.1a4.2,4.2 0 1,0 8.4,0a4.2,4.2 0 1,0 -8.4,0M1248.2,894.4a4.2,4.2 0 1,0 8.4,0a4.2,4.2 0 1,0 -8.4,0M1340,844.1a4.2,4.2 0 1,0 8.4,0a4.2,4.2 0 1,0 -8.4,0M1325.4,878.5a4.2,4.2 0 1,0 8.4,0a4.2,4.2 0 1,0 -8.4,0M1331.6,952.3a4.2,4.2 0 1,0 8.4,0a4.2,4.2 0 1,0 -8.4,0M1310,970a4.2,4.2 0 1,0 8.4,0a4.2,4.2 0 1,0 -8.4,0M1363.2,920.9a4.2,4.2 0 1,0 8.4,0a4.2,4.2 0 1,0 -8.4,0M1316.9,833.3a4.2,4.2 0 1,0 8.4,0a4.2,4.2 0 1,0 -8.4,0M1311.9,950.3a4.2,4.2 0 1,0 8.4,0a4.2,4.2 0 1,0 -8.4,0M1342.5,901.5a4.2,4.2 0 1,0 8.4,0a4.2,4.2 0 1,0 -8.4,0M1278,827.5a4.2,4.2 0 1,0 8.4,0a4.2,4.2 0 1,0 -8.4,0M1271.4,907.8a4.2,4.2 0 1,0 8.4,0a4.2,4.2 0 1,0 -8.4,0M1271.4,896a4.2,4.2 0 1,0 8.4,0a4.2,4.2 0 1,0 -8.4,0M1317.6,817.6a4.2,4.2 0 1,0 8.4,0a4.2,4.2 0 1,0 -8.4,0M1234.7,967.1a4.2,4.2 0 1,0 8.4,0a4.2,4.2 0 1,0 -8.4,0M1388.1,990.4a4.2,4.2 0 1,0 8.4,0a4.2,4.2 0 1,0 -8.4,0M1358.9,912.3a4.2,4.2 0 1,0 8.4,0a4.2,4.2 0 1,0 -8.4,0M1338.2,990.1a4.2,4.2 0 1,0 8.4,0a4.2,4.2 0 1,0 -8.4,0M1311.3,910.1a4.2,4.2 0 1,0 8.4,0a4.2,4.2 0 1,0 -8.4,0M1309.5,986.7a4.2,4.2 0 1,0 8.4,0a4.2,4.2 0 1,0 -8.4,0M1215.8,957.7a4.2,4.2 0 1,0 8.4,0a4.2,4.2 0 1,0 -8.4,0M1335.9,831.6a4.2,4.2 0 1,0 8.4,0a4.2,4.2 0 1,0 -8.4,0M1243.1,913.2a4.2,4.2 0 1,0 8.4,0a4.2,4.2 0 1,0 -8.4,0M1269.9,931a4.2,4.2 0 1,0 8.4,0a4.2,4.2 0 1,0 -8.4,0M1368.4,949.5a4.2,4.2 0 1,0 8.4,0a4.2,4.2 0 1,0 -8.4,0M1332.7,936.8a4.2,4.2 0 1,0 8.4,0a4.2,4.2 0 1,0 -8.4,0M1225.7,928.6a4.2,4.2 0 1,0 8.4,0a4.2,4.2 0 1,0 -8.4,0M1371.7,965.7a4.2,4.2 0 1,0 8.4,0a4.2,4.2 0 1,0 -8.4,0M1332.1,843.3a4.2,4.2 0 1,0 8.4,0a4.2,4.2 0 1,0 -8.4,0M1240.1,954.8a4.2,4.2 0 1,0 8.4,0a4.2,4.2 0 1,0 -8.4,0M1380.5,987.8a4.2,4.2 0 1,0 8.4,0a4.2,4.2 0 1,0 -8.4,0M1353,970.9a4.2,4.2 0 1,0 8.4,0a4.2,4.2 0 1,0 -8.4,0M1299.9,847.4a4.2,4.2 0 1,0 8.4,0a4.2,4.2 0 1,0 -8.4,0M1366,937.4a4.2,4.2 0 1,0 8.4,0a4.2,4.2 0 1,0 -8.4,0M1275.6,938.7a4.2,4.2 0 1,0 8.4,0a4.2,4.2 0 1,0 -8.4,0M1284.2,856.8a4.2,4.2 0 1,0 8.4,0a4.2,4.2 0 1,0 -8.4,0M1329.2,894.1a4.2,4.2 0 1,0 8.4,0a4.2,4.2 0 1,0 -8.4,0M1366.9,914.1a4.2,4.2 0 1,0 8.4,0a4.2,4.2 0 1,0 -8.4,0M1296.3,976.6a4.2,4.2 0 1,0 8.4,0a4.2,4.2 0 1,0 -8.4,0M1346.1,929.3a4.2,4.2 0 1,0 8.4,0a4.2,4.2 0 1,0 -8.4,0M1347.7,966a4.2,4.2 0 1,0 8.4,0a4.2,4.2 0 1,0 -8.4,0M1223.7,946.1a4.2,4.2 0 1,0 8.4,0a4.2,4.2 0 1,0 -8.4,0M1324.3,887.9a4.2,4.2 0 1,0 8.4,0a4.2,4.2 0 1,0 -8.4,0M1266.5,849.8a4.2,4.2 0 1,0 8.4,0a4.2,4.2 0 1,0 -8.4,0M1241,891.4a4.2,4.2 0 1,0 8.4,0a4.2,4.2 0 1,0 -8.4,0M1374.3,940.7a4.2,4.2 0 1,0 8.4,0a4.2,4.2 0 1,0 -8.4,0M1308.3,932.8a4.2,4.2 0 1,0 8.4,0a4.2,4.2 0 1,0 -8.4,0M1374,916.4a4.2,4.2 0 1,0 8.4,0a4.2,4.2 0 1,0 -8.4,0M1331.3,968.1a4.2,4.2 0 1,0 8.4,0a4.2,4.2 0 1,0 -8.4,0" fill="#fff"/>
<text x="1221.2" y="683.7" font-size="33" font-weight="bold" fill="#fff" text-anchor="start" textLength="214.3" lengthAdjust="spacingAndGlyphs">Top Electrode</text>
<text x="1190.5" y="1052.8" font-size="33" font-weight="bold" fill="#fff" text-anchor="start" textLength="276.7" lengthAdjust="spacingAndGlyphs">Bottom Electrode</text>
<polygon points="1280.9,699.3 1293.4,712.1 1286.9,712.1 1286.9,764.4 1293.4,764.4 1280.9,777.2 1268.4,764.4 1274.9,764.4 1274.9,712.1 1268.4,712.1" fill="#FF0000" stroke="#3A4F8A" stroke-width="1.4" stroke-linejoin="miter"/>
<polygon points="1319.5,700.2 1331.9,713 1325.5,713 1325.5,748 1331.9,748 1319.5,760.8 1307.1,748 1313.5,748 1313.5,713 1307.1,713" fill="#FF0000" stroke="#3A4F8A" stroke-width="1.4" stroke-linejoin="miter"/>
<text x="1210.5" y="751.9" font-size="25" font-weight="bold" fill="#000" text-anchor="start" textLength="46.9" lengthAdjust="spacingAndGlyphs">HRS</text>
<text x="1346.8" y="735.3" font-size="25" font-weight="bold" fill="#000" text-anchor="start" textLength="40.1" lengthAdjust="spacingAndGlyphs">LRS</text>
<text x="1122" y="833.9" font-size="33" font-weight="bold" fill="#000">Ta<tspan font-size="21" dy="7">2</tspan><tspan dy="-7">O5</tspan></text>
<text x="1291" y="919.4" font-size="24" font-weight="bold" fill="#000" text-anchor="start" textLength="60" lengthAdjust="spacingAndGlyphs">IRS-2</text>
<rect x="1565.8" y="642.3" width="439.9" height="59.9" fill="#767676"/>
<rect x="1565.8" y="702.2" width="439.9" height="293.1" fill="#FDBB7B"/>
<rect x="1565.8" y="995.3" width="439.9" height="94.1" fill="#8F8FFA"/>
<polygon points="1781.5,711.5 1729.7,789 1647.6,990 1932,1000.8 1905,968.7 1892,915 1832,782.6" fill="#FDD4AA"/>
<path d="M1766.7,746.4a4.2,4.2 0 1,0 8.4,0a4.2,4.2 0 1,0 -8.4,0M1764.1,951a4.2,4.2 0 1,0 8.4,0a4.2,4.2 0 1,0 -8.4,0M1836.9,843.1a4.2,4.2 0 1,0 8.4,0a4.2,4.2 0 1,0 -8.4,0M1809.9,850a4.2,4.2 0 1,0 8.4,0a4.2,4.2 0 1,0 -8.4,0M1869.3,916.4a4.2,4.2 0 1,0 8.4,0a4.2,4.2 0 1,0 -8.4,0M1833.4,934.2a4.2,4.2 0 1,0 8.4,0a4.2,4.2 0 1,0 -8.4,0M1812.4,884.2a4.2,4.2 0 1,0 8.4,0a4.2,4.2 0 1,0 -8.4,0M1882.3,982.8a4.2,4.2 0 1,0 8.4,0a4.2,4.2 0 1,0 -8.4,0M1827.4,995.9a4.2,4.2 0 1,0 8.4,0a4.2,4.2 0 1,0 -8.4,0M1799.7,966.3a4.2,4.2 0 1,0 8.4,0a4.2,4.2 0 1,0 -8.4,0M1865.2,963.9a4.2,4.2 0 1,0 8.4,0a4.2,4.2 0 1,0 -8.4,0M1755,835.3a4.2,4.2 0 1,0 8.4,0a4.2,4.2 0 1,0 -8.4,0M1775.9,858.3a4.2,4.2 0 1,0 8.4,0a4.2,4.2 0 1,0 -8.4,0M1717.7,826.6a4.2,4.2 0 1,0 8.4,0a4.2,4.2 0 1,0 -8.4,0M1876.1,927.5a4.2,4.2 0 1,0 8.4,0a4.2,4.2 0 1,0 -8.4,0M1790.6,823.6a4.2,4.2 0 1,0 8.4,0a4.2,4.2 0 1,0 -8.4,0M1840.4,986a4.2,4.2 0 1,0 8.4,0a4.2,4.2 0 1,0 -8.4,0M1909.9,994.6a4.2,4.2 0 1,0 8.4,0a4.2,4.2 0 1,0 -8.4,0M1747.1,787.1a4.2,4.2 0 1,0 8.4,0a4.2,4.2 0 1,0 -8.4,0M1829.1,943.6a4.2,4.2 0 1,0 8.4,0a4.2,4.2 0 1,0 -8.4,0M1831.3,973.4a4.2,4.2 0 1,0 8.4,0a4.2,4.2 0 1,0 -8.4,0M1856.7,856.7a4.2,4.2 0 1,0 8.4,0a4.2,4.2 0 1,0 -8.4,0M1799.4,762.9a4.2,4.2 0 1,0 8.4,0a4.2,4.2 0 1,0 -8.4,0M1717.2,840.8a4.2,4.2 0 1,0 8.4,0a4.2,4.2 0 1,0 -8.4,0M1809.3,971.9a4.2,4.2 0 1,0 8.4,0a4.2,4.2 0 1,0 -8.4,0M1801.4,939.5a4.2,4.2 0 1,0 8.4,0a4.2,4.2 0 1,0 -8.4,0M1802.7,794.7a4.2,4.2 0 1,0 8.4,0a4.2,4.2 0 1,0 -8.4,0M1859.5,974.1a4.2,4.2 0 1,0 8.4,0a4.2,4.2 0 1,0 -8.4,0M1817.6,864.2a4.2,4.2 0 1,0 8.4,0a4.2,4.2 0 1,0 -8.4,0M1840.4,849.8a4.2,4.2 0 1,0 8.4,0a4.2,4.2 0 1,0 -8.4,0M1779.4,982a4.2,4.2 0 1,0 8.4,0a4.2,4.2 0 1,0 -8.4,0M1892.7,982.2a4.2,4.2 0 1,0 8.4,0a4.2,4.2 0 1,0 -8.4,0M1802.5,982.5a4.2,4.2 0 1,0 8.4,0a4.2,4.2 0 1,0 -8.4,0M1687.3,921.1a4.2,4.2 0 1,0 8.4,0a4.2,4.2 0 1,0 -8.4,0M1705.9,985a4.2,4.2 0 1,0 8.4,0a4.2,4.2 0 1,0 -8.4,0M1782,995.1a4.2,4.2 0 1,0 8.4,0a4.2,4.2 0 1,0 -8.4,0M1763.5,973.9a4.2,4.2 0 1,0 8.4,0a4.2,4.2 0 1,0 -8.4,0M1805.7,916.8a4.2,4.2 0 1,0 8.4,0a4.2,4.2 0 1,0 -8.4,0M1664,981.1a4.2,4.2 0 1,0 8.4,0a4.2,4.2 0 1,0 -8.4,0M1662.3,960.7a4.2,4.2 0 1,0 8.4,0a4.2,4.2 0 1,0 -8.4,0M1730.1,932.8a4.2,4.2 0 1,0 8.4,0a4.2,4.2 0 1,0 -8.4,0M1851.9,876.4a4.2,4.2 0 1,0 8.4,0a4.2,4.2 0 1,0 -8.4,0M1839,993.1a4.2,4.2 0 1,0 8.4,0a4.2,4.2 0 1,0 -8.4,0M1880.1,918.5a4.2,4.2 0 1,0 8.4,0a4.2,4.2 0 1,0 -8.4,0M1758.5,821.4a4.2,4.2 0 1,0 8.4,0a4.2,4.2 0 1,0 -8.4,0M1882.7,962.8a4.2,4.2 0 1,0 8.4,0a4.2,4.2 0 1,0 -8.4,0M1731.4,823.9a4.2,4.2 0 1,0 8.4,0a4.2,4.2 0 1,0 -8.4,0M1751.9,855.8a4.2,4.2 0 1,0 8.4,0a4.2,4.2 0 1,0 -8.4,0M1700.6,863.9a4.2,4.2 0 1,0 8.4,0a4.2,4.2 0 1,0 -8.4,0M1709.6,885.8a4.2,4.2 0 1,0 8.4,0a4.2,4.2 0 1,0 -8.4,0M1856.9,905.2a4.2,4.2 0 1,0 8.4,0a4.2,4.2 0 1,0 -8.4,0M1786.8,953.2a4.2,4.2 0 1,0 8.4,0a4.2,4.2 0 1,0 -8.4,0M1837.6,914.9a4.2,4.2 0 1,0 8.4,0a4.2,4.2 0 1,0 -8.4,0M1673.2,953.4a4.2,4.2 0 1,0 8.4,0a4.2,4.2 0 1,0 -8.4,0M1821.9,896.8a4.2,4.2 0 1,0 8.4,0a4.2,4.2 0 1,0 -8.4,0M1730,881a4.2,4.2 0 1,0 8.4,0a4.2,4.2 0 1,0 -8.4,0M1790.3,853.1a4.2,4.2 0 1,0 8.4,0a4.2,4.2 0 1,0 -8.4,0M1677.1,969.1a4.2,4.2 0 1,0 8.4,0a4.2,4.2 0 1,0 -8.4,0M1771.2,800.1a4.2,4.2 0 1,0 8.4,0a4.2,4.2 0 1,0 -8.4,0M1681.1,949.2a4.2,4.2 0 1,0 8.4,0a4.2,4.2 0 1,0 -8.4,0M1733.3,954.6a4.2,4.2 0 1,0 8.4,0a4.2,4.2 0 1,0 -8.4,0M1856.9,954.3a4.2,4.2 0 1,0 8.4,0a4.2,4.2 0 1,0 -8.4,0M1725.8,828.1a4.2,4.2 0 1,0 8.4,0a4.2,4.2 0 1,0 -8.4,0M1799.6,922a4.2,4.2 0 1,0 8.4,0a4.2,4.2 0 1,0 -8.4,0M1826.7,804.9a4.2,4.2 0 1,0 8.4,0a4.2,4.2 0 1,0 -8.4,0M1901.1,996.8a4.2,4.2 0 1,0 8.4,0a4.2,4.2 0 1,0 -8.4,0M1773.5,876.6a4.2,4.2 0 1,0 8.4,0a4.2,4.2 0 1,0 -8.4,0M1715,899.5a4.2,4.2 0 1,0 8.4,0a4.2,4.2 0 1,0 -8.4,0M1809.2,832.4a4.2,4.2 0 1,0 8.4,0a4.2,4.2 0 1,0 -8.4,0M1713.7,987.2a4.2,4.2 0 1,0 8.4,0a4.2,4.2 0 1,0 -8.4,0M1853.6,864a4.2,4.2 0 1,0 8.4,0a4.2,4.2 0 1,0 -8.4,0M1727.3,984.8a4.2,4.2 0 1,0 8.4,0a4.2,4.2 0 1,0 -8.4,0M1832.6,984a4.2,4.2 0 1,0 8.4,0a4.2,4.2 0 1,0 -8.4,0M1755.3,970.3a4.2,4.2 0 1,0 8.4,0a4.2,4.2 0 1,0 -8.4,0M1851.8,997.1a4.2,4.2 0 1,0 8.4,0a4.2,4.2 0 1,0 -8.4,0M1751.1,828.6a4.2,4.2 0 1,0 8.4,0a4.2,4.2 0 1,0 -8.4,0M1743.4,985.8a4.2,4.2 0 1,0 8.4,0a4.2,4.2 0 1,0 -8.4,0M1877.1,949.7a4.2,4.2 0 1,0 8.4,0a4.2,4.2 0 1,0 -8.4,0M1874.3,934.7a4.2,4.2 0 1,0 8.4,0a4.2,4.2 0 1,0 -8.4,0M1733.4,802a4.2,4.2 0 1,0 8.4,0a4.2,4.2 0 1,0 -8.4,0M1863.2,891.6a4.2,4.2 0 1,0 8.4,0a4.2,4.2 0 1,0 -8.4,0M1761.9,895.2a4.2,4.2 0 1,0 8.4,0a4.2,4.2 0 1,0 -8.4,0M1687,966.5a4.2,4.2 0 1,0 8.4,0a4.2,4.2 0 1,0 -8.4,0M1778.4,948.9a4.2,4.2 0 1,0 8.4,0a4.2,4.2 0 1,0 -8.4,0M1809.3,978.9a4.2,4.2 0 1,0 8.4,0a4.2,4.2 0 1,0 -8.4,0M1864.6,983.1a4.2,4.2 0 1,0 8.4,0a4.2,4.2 0 1,0 -8.4,0M1812.9,895.1a4.2,4.2 0 1,0 8.4,0a4.2,4.2 0 1,0 -8.4,0M1748.3,765.7a4.2,4.2 0 1,0 8.4,0a4.2,4.2 0 1,0 -8.4,0M1715.9,889.5a4.2,4.2 0 1,0 8.4,0a4.2,4.2 0 1,0 -8.4,0M1701.2,942.5a4.2,4.2 0 1,0 8.4,0a4.2,4.2 0 1,0 -8.4,0M1799.9,900.3a4.2,4.2 0 1,0 8.4,0a4.2,4.2 0 1,0 -8.4,0M1748.9,863.9a4.2,4.2 0 1,0 8.4,0a4.2,4.2 0 1,0 -8.4,0M1689,939.9a4.2,4.2 0 1,0 8.4,0a4.2,4.2 0 1,0 -8.4,0M1758.4,956.3a4.2,4.2 0 1,0 8.4,0a4.2,4.2 0 1,0 -8.4,0M1790.7,831.2a4.2,4.2 0 1,0 8.4,0a4.2,4.2 0 1,0 -8.4,0M1813.9,876.2a4.2,4.2 0 1,0 8.4,0a4.2,4.2 0 1,0 -8.4,0M1764.5,905.6a4.2,4.2 0 1,0 8.4,0a4.2,4.2 0 1,0 -8.4,0M1778,756.4a4.2,4.2 0 1,0 8.4,0a4.2,4.2 0 1,0 -8.4,0M1750.9,984.5a4.2,4.2 0 1,0 8.4,0a4.2,4.2 0 1,0 -8.4,0M1887.2,996.8a4.2,4.2 0 1,0 8.4,0a4.2,4.2 0 1,0 -8.4,0M1787.3,813.7a4.2,4.2 0 1,0 8.4,0a4.2,4.2 0 1,0 -8.4,0M1755.5,943.1a4.2,4.2 0 1,0 8.4,0a4.2,4.2 0 1,0 -8.4,0M1810,906.9a4.2,4.2 0 1,0 8.4,0a4.2,4.2 0 1,0 -8.4,0M1818.6,844.3a4.2,4.2 0 1,0 8.4,0a4.2,4.2 0 1,0 -8.4,0M1701.5,896.1a4.2,4.2 0 1,0 8.4,0a4.2,4.2 0 1,0 -8.4,0M1681.7,980.7a4.2,4.2 0 1,0 8.4,0a4.2,4.2 0 1,0 -8.4,0M1769.6,980.8a4.2,4.2 0 1,0 8.4,0a4.2,4.2 0 1,0 -8.4,0M1714.1,971.7a4.2,4.2 0 1,0 8.4,0a4.2,4.2 0 1,0 -8.4,0M1794.6,837.2a4.2,4.2 0 1,0 8.4,0a4.2,4.2 0 1,0 -8.4,0M1731.4,808.7a4.2,4.2 0 1,0 8.4,0a4.2,4.2 0 1,0 -8.4,0M1775.7,928a4.2,4.2 0 1,0 8.4,0a4.2,4.2 0 1,0 -8.4,0M1841.1,956a4.2,4.2 0 1,0 8.4,0a4.2,4.2 0 1,0 -8.4,0M1719,877.2a4.2,4.2 0 1,0 8.4,0a4.2,4.2 0 1,0 -8.4,0M1826,988.4a4.2,4.2 0 1,0 8.4,0a4.2,4.2 0 1,0 -8.4,0M1822.8,914.8a4.2,4.2 0 1,0 8.4,0a4.2,4.2 0 1,0 -8.4,0M1673.7,978.6a4.2,4.2 0 1,0 8.4,0a4.2,4.2 0 1,0 -8.4,0M1840.4,898.8a4.2,4.2 0 1,0 8.4,0a4.2,4.2 0 1,0 -8.4,0M1746.8,948.5a4.2,4.2 0 1,0 8.4,0a4.2,4.2 0 1,0 -8.4,0M1903.5,982.8a4.2,4.2 0 1,0 8.4,0a4.2,4.2 0 1,0 -8.4,0M1884.5,947a4.2,4.2 0 1,0 8.4,0a4.2,4.2 0 1,0 -8.4,0M1767.5,936.4a4.2,4.2 0 1,0 8.4,0a4.2,4.2 0 1,0 -8.4,0M1843.8,872.9a4.2,4.2 0 1,0 8.4,0a4.2,4.2 0 1,0 -8.4,0M1860.2,991.8a4.2,4.2 0 1,0 8.4,0a4.2,4.2 0 1,0 -8.4,0M1667.9,967.6a4.2,4.2 0 1,0 8.4,0a4.2,4.2 0 1,0 -8.4,0M1709.8,852.1a4.2,4.2 0 1,0 8.4,0a4.2,4.2 0 1,0 -8.4,0M1858,931a4.2,4.2 0 1,0 8.4,0a4.2,4.2 0 1,0 -8.4,0M1742.5,815.8a4.2,4.2 0 1,0 8.4,0a4.2,4.2 0 1,0 -8.4,0M1736.3,868.6a4.2,4.2 0 1,0 8.4,0a4.2,4.2 0 1,0 -8.4,0M1869.5,925.7a4.2,4.2 0 1,0 8.4,0a4.2,4.2 0 1,0 -8.4,0M1785.7,898.4a4.2,4.2 0 1,0 8.4,0a4.2,4.2 0 1,0 -8.4,0M1806.6,930a4.2,4.2 0 1,0 8.4,0a4.2,4.2 0 1,0 -8.4,0M1732.4,897.3a4.2,4.2 0 1,0 8.4,0a4.2,4.2 0 1,0 -8.4,0M1772.9,895.5a4.2,4.2 0 1,0 8.4,0a4.2,4.2 0 1,0 -8.4,0M1703.1,912.5a4.2,4.2 0 1,0 8.4,0a4.2,4.2 0 1,0 -8.4,0M1763,916.2a4.2,4.2 0 1,0 8.4,0a4.2,4.2 0 1,0 -8.4,0M1680.2,937.4a4.2,4.2 0 1,0 8.4,0a4.2,4.2 0 1,0 -8.4,0M1823.8,854.3a4.2,4.2 0 1,0 8.4,0a4.2,4.2 0 1,0 -8.4,0M1746.5,978.5a4.2,4.2 0 1,0 8.4,0a4.2,4.2 0 1,0 -8.4,0M1794.4,928a4.2,4.2 0 1,0 8.4,0a4.2,4.2 0 1,0 -8.4,0M1783.1,862.2a4.2,4.2 0 1,0 8.4,0a4.2,4.2 0 1,0 -8.4,0M1726.7,951.2a4.2,4.2 0 1,0 8.4,0a4.2,4.2 0 1,0 -8.4,0M1712.3,925.8a4.2,4.2 0 1,0 8.4,0a4.2,4.2 0 1,0 -8.4,0M1731.9,924.7a4.2,4.2 0 1,0 8.4,0a4.2,4.2 0 1,0 -8.4,0M1747.9,882.9a4.2,4.2 0 1,0 8.4,0a4.2,4.2 0 1,0 -8.4,0M1746.7,901.8a4.2,4.2 0 1,0 8.4,0a4.2,4.2 0 1,0 -8.4,0M1815.7,991.7a4.2,4.2 0 1,0 8.4,0a4.2,4.2 0 1,0 -8.4,0M1874.3,961.9a4.2,4.2 0 1,0 8.4,0a4.2,4.2 0 1,0 -8.4,0M1721.3,957.6a4.2,4.2 0 1,0 8.4,0a4.2,4.2 0 1,0 -8.4,0M1838.1,974.5a4.2,4.2 0 1,0 8.4,0a4.2,4.2 0 1,0 -8.4,0M1775.7,783.3a4.2,4.2 0 1,0 8.4,0a4.2,4.2 0 1,0 -8.4,0M1857,941.5a4.2,4.2 0 1,0 8.4,0a4.2,4.2 0 1,0 -8.4,0M1668.3,945.5a4.2,4.2 0 1,0 8.4,0a4.2,4.2 0 1,0 -8.4,0M1811,778.6a4.2,4.2 0 1,0 8.4,0a4.2,4.2 0 1,0 -8.4,0M1694.8,917a4.2,4.2 0 1,0 8.4,0a4.2,4.2 0 1,0 -8.4,0M1781.7,880.8a4.2,4.2 0 1,0 8.4,0a4.2,4.2 0 1,0 -8.4,0M1755.2,848.7a4.2,4.2 0 1,0 8.4,0a4.2,4.2 0 1,0 -8.4,0M1733.9,971.6a4.2,4.2 0 1,0 8.4,0a4.2,4.2 0 1,0 -8.4,0M1726.9,992a4.2,4.2 0 1,0 8.4,0a4.2,4.2 0 1,0 -8.4,0M1694.6,935.8a4.2,4.2 0 1,0 8.4,0a4.2,4.2 0 1,0 -8.4,0M1778.9,963.2a4.2,4.2 0 1,0 8.4,0a4.2,4.2 0 1,0 -8.4,0M1696.3,952.3a4.2,4.2 0 1,0 8.4,0a4.2,4.2 0 1,0 -8.4,0M1714.6,948.4a4.2,4.2 0 1,0 8.4,0a4.2,4.2 0 1,0 -8.4,0M1792.1,917.4a4.2,4.2 0 1,0 8.4,0a4.2,4.2 0 1,0 -8.4,0M1872.2,974.2a4.2,4.2 0 1,0 8.4,0a4.2,4.2 0 1,0 -8.4,0M1719,910.9a4.2,4.2 0 1,0 8.4,0a4.2,4.2 0 1,0 -8.4,0M1797.6,977.4a4.2,4.2 0 1,0 8.4,0a4.2,4.2 0 1,0 -8.4,0M1714.7,868.1a4.2,4.2 0 1,0 8.4,0a4.2,4.2 0 1,0 -8.4,0M1759,805.4a4.2,4.2 0 1,0 8.4,0a4.2,4.2 0 1,0 -8.4,0M1799.3,893.1a4.2,4.2 0 1,0 8.4,0a4.2,4.2 0 1,0 -8.4,0M1731.7,793a4.2,4.2 0 1,0 8.4,0a4.2,4.2 0 1,0 -8.4,0M1711.2,878a4.2,4.2 0 1,0 8.4,0a4.2,4.2 0 1,0 -8.4,0M1743.6,910a4.2,4.2 0 1,0 8.4,0a4.2,4.2 0 1,0 -8.4,0M1778.6,939.7a4.2,4.2 0 1,0 8.4,0a4.2,4.2 0 1,0 -8.4,0M1785,987.7a4.2,4.2 0 1,0 8.4,0a4.2,4.2 0 1,0 -8.4,0M1816.1,830.1a4.2,4.2 0 1,0 8.4,0a4.2,4.2 0 1,0 -8.4,0M1754.5,877.6a4.2,4.2 0 1,0 8.4,0a4.2,4.2 0 1,0 -8.4,0M1785.5,847.5a4.2,4.2 0 1,0 8.4,0a4.2,4.2 0 1,0 -8.4,0M1787,778.3a4.2,4.2 0 1,0 8.4,0a4.2,4.2 0 1,0 -8.4,0M1744,773.3a4.2,4.2 0 1,0 8.4,0a4.2,4.2 0 1,0 -8.4,0M1742.6,849.1a4.2,4.2 0 1,0 8.4,0a4.2,4.2 0 1,0 -8.4,0M1659,968.2a4.2,4.2 0 1,0 8.4,0a4.2,4.2 0 1,0 -8.4,0M1703.8,963.3a4.2,4.2 0 1,0 8.4,0a4.2,4.2 0 1,0 -8.4,0M1789.3,874.2a4.2,4.2 0 1,0 8.4,0a4.2,4.2 0 1,0 -8.4,0M1804.8,811.5a4.2,4.2 0 1,0 8.4,0a4.2,4.2 0 1,0 -8.4,0M1734.7,906.6a4.2,4.2 0 1,0 8.4,0a4.2,4.2 0 1,0 -8.4,0M1836.7,906.9a4.2,4.2 0 1,0 8.4,0a4.2,4.2 0 1,0 -8.4,0M1714.1,956.4a4.2,4.2 0 1,0 8.4,0a4.2,4.2 0 1,0 -8.4,0M1838,821.8a4.2,4.2 0 1,0 8.4,0a4.2,4.2 0 1,0 -8.4,0M1880.7,937.4a4.2,4.2 0 1,0 8.4,0a4.2,4.2 0 1,0 -8.4,0M1843.3,945.3a4.2,4.2 0 1,0 8.4,0a4.2,4.2 0 1,0 -8.4,0M1798.8,989.5a4.2,4.2 0 1,0 8.4,0a4.2,4.2 0 1,0 -8.4,0M1745.2,838.8a4.2,4.2 0 1,0 8.4,0a4.2,4.2 0 1,0 -8.4,0M1691.5,907.7a4.2,4.2 0 1,0 8.4,0a4.2,4.2 0 1,0 -8.4,0M1821.9,980.3a4.2,4.2 0 1,0 8.4,0a4.2,4.2 0 1,0 -8.4,0M1866.5,952a4.2,4.2 0 1,0 8.4,0a4.2,4.2 0 1,0 -8.4,0M1769.4,989.6a4.2,4.2 0 1,0 8.4,0a4.2,4.2 0 1,0 -8.4,0M1803.6,821.6a4.2,4.2 0 1,0 8.4,0a4.2,4.2 0 1,0 -8.4,0M1794.1,880.2a4.2,4.2 0 1,0 8.4,0a4.2,4.2 0 1,0 -8.4,0M1714.9,859.8a4.2,4.2 0 1,0 8.4,0a4.2,4.2 0 1,0 -8.4,0M1789.3,886.6a4.2,4.2 0 1,0 8.4,0a4.2,4.2 0 1,0 -8.4,0M1740.5,933.9a4.2,4.2 0 1,0 8.4,0a4.2,4.2 0 1,0 -8.4,0M1853.1,983.8a4.2,4.2 0 1,0 8.4,0a4.2,4.2 0 1,0 -8.4,0M1876.1,911.2a4.2,4.2 0 1,0 8.4,0a4.2,4.2 0 1,0 -8.4,0M1863.6,898.6a4.2,4.2 0 1,0 8.4,0a4.2,4.2 0 1,0 -8.4,0M1780.3,826.8a4.2,4.2 0 1,0 8.4,0a4.2,4.2 0 1,0 -8.4,0M1808.5,994.4a4.2,4.2 0 1,0 8.4,0a4.2,4.2 0 1,0 -8.4,0M1814.9,961.1a4.2,4.2 0 1,0 8.4,0a4.2,4.2 0 1,0 -8.4,0M1830.4,890.1a4.2,4.2 0 1,0 8.4,0a4.2,4.2 0 1,0 -8.4,0M1695.1,981.5a4.2,4.2 0 1,0 8.4,0a4.2,4.2 0 1,0 -8.4,0M1821.8,788.1a4.2,4.2 0 1,0 8.4,0a4.2,4.2 0 1,0 -8.4,0M1701.2,932.7a4.2,4.2 0 1,0 8.4,0a4.2,4.2 0 1,0 -8.4,0M1837.6,889a4.2,4.2 0 1,0 8.4,0a4.2,4.2 0 1,0 -8.4,0M1675.1,990.9a4.2,4.2 0 1,0 8.4,0a4.2,4.2 0 1,0 -8.4,0M1709.3,843.9a4.2,4.2 0 1,0 8.4,0a4.2,4.2 0 1,0 -8.4,0M1784.5,975.8a4.2,4.2 0 1,0 8.4,0a4.2,4.2 0 1,0 -8.4,0M1829.1,874.5a4.2,4.2 0 1,0 8.4,0a4.2,4.2 0 1,0 -8.4,0M1822.4,928.4a4.2,4.2 0 1,0 8.4,0a4.2,4.2 0 1,0 -8.4,0M1793.4,947.3a4.2,4.2 0 1,0 8.4,0a4.2,4.2 0 1,0 -8.4,0M1740.1,830.5a4.2,4.2 0 1,0 8.4,0a4.2,4.2 0 1,0 -8.4,0M1700.5,881.7a4.2,4.2 0 1,0 8.4,0a4.2,4.2 0 1,0 -8.4,0M1832.7,816.6a4.2,4.2 0 1,0 8.4,0a4.2,4.2 0 1,0 -8.4,0M1845.6,858a4.2,4.2 0 1,0 8.4,0a4.2,4.2 0 1,0 -8.4,0M1769.9,964.8a4.2,4.2 0 1,0 8.4,0a4.2,4.2 0 1,0 -8.4,0M1797.2,751.4a4.2,4.2 0 1,0 8.4,0a4.2,4.2 0 1,0 -8.4,0M1720.5,968.9a4.2,4.2 0 1,0 8.4,0a4.2,4.2 0 1,0 -8.4,0M1708,977.4a4.2,4.2 0 1,0 8.4,0a4.2,4.2 0 1,0 -8.4,0M1795.7,864.5a4.2,4.2 0 1,0 8.4,0a4.2,4.2 0 1,0 -8.4,0M1786.1,968.2a4.2,4.2 0 1,0 8.4,0a4.2,4.2 0 1,0 -8.4,0M1866.3,942a4.2,4.2 0 1,0 8.4,0a4.2,4.2 0 1,0 -8.4,0M1850.7,930.2a4.2,4.2 0 1,0 8.4,0a4.2,4.2 0 1,0 -8.4,0M1701.4,973.1a4.2,4.2 0 1,0 8.4,0a4.2,4.2 0 1,0 -8.4,0M1840.2,936.9a4.2,4.2 0 1,0 8.4,0a4.2,4.2 0 1,0 -8.4,0M1696.2,963.1a4.2,4.2 0 1,0 8.4,0a4.2,4.2 0 1,0 -8.4,0M1680.7,917.8a4.2,4.2 0 1,0 8.4,0a4.2,4.2 0 1,0 -8.4,0M1817.6,801.9a4.2,4.2 0 1,0 8.4,0a4.2,4.2 0 1,0 -8.4,0M1815,950.3a4.2,4.2 0 1,0 8.4,0a4.2,4.2 0 1,0 -8.4,0M1757.2,865.9a4.2,4.2 0 1,0 8.4,0a4.2,4.2 0 1,0 -8.4,0M1872.1,987.4a4.2,4.2 0 1,0 8.4,0a4.2,4.2 0 1,0 -8.4,0M1744.4,970.5a4.2,4.2 0 1,0 8.4,0a4.2,4.2 0 1,0 -8.4,0M1683.7,973.2a4.2,4.2 0 1,0 8.4,0a4.2,4.2 0 1,0 -8.4,0M1801.5,949.5a4.2,4.2 0 1,0 8.4,0a4.2,4.2 0 1,0 -8.4,0M1746.8,922.8a4.2,4.2 0 1,0 8.4,0a4.2,4.2 0 1,0 -8.4,0M1792.7,792.3a4.2,4.2 0 1,0 8.4,0a4.2,4.2 0 1,0 -8.4,0M1718.9,977.3a4.2,4.2 0 1,0 8.4,0a4.2,4.2 0 1,0 -8.4,0M1780.4,776.1a4.2,4.2 0 1,0 8.4,0a4.2,4.2 0 1,0 -8.4,0M1829.1,866.6a4.2,4.2 0 1,0 8.4,0a4.2,4.2 0 1,0 -8.4,0M1768.3,765.5a4.2,4.2 0 1,0 8.4,0a4.2,4.2 0 1,0 -8.4,0M1757.7,911.1a4.2,4.2 0 1,0 8.4,0a4.2,4.2 0 1,0 -8.4,0M1734.9,837.5a4.2,4.2 0 1,0 8.4,0a4.2,4.2 0 1,0 -8.4,0M1794,956.9a4.2,4.2 0 1,0 8.4,0a4.2,4.2 0 1,0 -8.4,0M1854.2,896.2a4.2,4.2 0 1,0 8.4,0a4.2,4.2 0 1,0 -8.4,0M1778.6,910.7a4.2,4.2 0 1,0 8.4,0a4.2,4.2 0 1,0 -8.4,0M1762.1,856.9a4.2,4.2 0 1,0 8.4,0a4.2,4.2 0 1,0 -8.4,0M1718.2,941.5a4.2,4.2 0 1,0 8.4,0a4.2,4.2 0 1,0 -8.4,0M1740.6,860.4a4.2,4.2 0 1,0 8.4,0a4.2,4.2 0 1,0 -8.4,0M1726.1,900.4a4.2,4.2 0 1,0 8.4,0a4.2,4.2 0 1,0 -8.4,0M1818.2,971.3a4.2,4.2 0 1,0 8.4,0a4.2,4.2 0 1,0 -8.4,0M1854,968.5a4.2,4.2 0 1,0 8.4,0a4.2,4.2 0 1,0 -8.4,0M1739.8,794.5a4.2,4.2 0 1,0 8.4,0a4.2,4.2 0 1,0 -8.4,0M1824.2,967.3a4.2,4.2 0 1,0 8.4,0a4.2,4.2 0 1,0 -8.4,0M1751.7,954.5a4.2,4.2 0 1,0 8.4,0a4.2,4.2 0 1,0 -8.4,0M1741.6,955.6a4.2,4.2 0 1,0 8.4,0a4.2,4.2 0 1,0 -8.4,0M1777.2,970.7a4.2,4.2 0 1,0 8.4,0a4.2,4.2 0 1,0 -8.4,0M1732,963.7a4.2,4.2 0 1,0 8.4,0a4.2,4.2 0 1,0 -8.4,0M1847.5,843.5a4.2,4.2 0 1,0 8.4,0a4.2,4.2 0 1,0 -8.4,0M1845.3,978.8a4.2,4.2 0 1,0 8.4,0a4.2,4.2 0 1,0 -8.4,0M1696.5,875.3a4.2,4.2 0 1,0 8.4,0a4.2,4.2 0 1,0 -8.4,0M1819.2,809.5a4.2,4.2 0 1,0 8.4,0a4.2,4.2 0 1,0 -8.4,0M1796.7,802.1a4.2,4.2 0 1,0 8.4,0a4.2,4.2 0 1,0 -8.4,0M1868.3,883.1a4.2,4.2 0 1,0 8.4,0a4.2,4.2 0 1,0 -8.4,0M1877,995.3a4.2,4.2 0 1,0 8.4,0a4.2,4.2 0 1,0 -8.4,0M1685.8,933.2a4.2,4.2 0 1,0 8.4,0a4.2,4.2 0 1,0 -8.4,0M1704.4,904.4a4.2,4.2 0 1,0 8.4,0a4.2,4.2 0 1,0 -8.4,0M1684.6,911.2a4.2,4.2 0 1,0 8.4,0a4.2,4.2 0 1,0 -8.4,0M1745.9,891a4.2,4.2 0 1,0 8.4,0a4.2,4.2 0 1,0 -8.4,0M1735.4,988.7a4.2,4.2 0 1,0 8.4,0a4.2,4.2 0 1,0 -8.4,0M1810.8,944a4.2,4.2 0 1,0 8.4,0a4.2,4.2 0 1,0 -8.4,0M1760.8,874.4a4.2,4.2 0 1,0 8.4,0a4.2,4.2 0 1,0 -8.4,0M1827.9,842a4.2,4.2 0 1,0 8.4,0a4.2,4.2 0 1,0 -8.4,0M1809.2,922.9a4.2,4.2 0 1,0 8.4,0a4.2,4.2 0 1,0 -8.4,0M1780.8,818.7a4.2,4.2 0 1,0 8.4,0a4.2,4.2 0 1,0 -8.4,0M1722.3,863.4a4.2,4.2 0 1,0 8.4,0a4.2,4.2 0 1,0 -8.4,0M1750.1,806a4.2,4.2 0 1,0 8.4,0a4.2,4.2 0 1,0 -8.4,0M1709.9,939.5a4.2,4.2 0 1,0 8.4,0a4.2,4.2 0 1,0 -8.4,0M1652.6,987.5a4.2,4.2 0 1,0 8.4,0a4.2,4.2 0 1,0 -8.4,0M1845.9,969.5a4.2,4.2 0 1,0 8.4,0a4.2,4.2 0 1,0 -8.4,0M1812.7,796.5a4.2,4.2 0 1,0 8.4,0a4.2,4.2 0 1,0 -8.4,0M1749.1,933.3a4.2,4.2 0 1,0 8.4,0a4.2,4.2 0 1,0 -8.4,0M1788.5,760.6a4.2,4.2 0 1,0 8.4,0a4.2,4.2 0 1,0 -8.4,0M1766.4,864.8a4.2,4.2 0 1,0 8.4,0a4.2,4.2 0 1,0 -8.4,0" fill="#fff"/>
<text x="1679.4" y="684.2" font-size="33" font-weight="bold" fill="#fff" text-anchor="start" textLength="213.3" lengthAdjust="spacingAndGlyphs">Top Electrode</text>
<text x="1647.6" y="1055.6" font-size="33" font-weight="bold" fill="#fff" text-anchor="start" textLength="276" lengthAdjust="spacingAndGlyphs">Bottom Electrode</text>
<polygon points="1759.6,695.2 1771.8,707.3 1765.6,707.3 1765.6,724.1 1771.8,724.1 1759.6,736.2 1747.4,724.1 1753.6,724.1 1753.6,707.3 1747.4,707.3" fill="#FF0000" stroke="#3A4F8A" stroke-width="1.4" stroke-linejoin="miter"/>
<polygon points="1803.6,701.5 1815.2,713.4 1803.6,725.2 1792,713.4" fill="#FF0000" stroke="#3A4F8A" stroke-width="1.4" stroke-linejoin="miter"/>
<text x="1681.7" y="730" font-size="25" font-weight="bold" fill="#000" text-anchor="start" textLength="45.8" lengthAdjust="spacingAndGlyphs">HRS</text>
<text x="1838" y="730" font-size="25" font-weight="bold" fill="#000" text-anchor="start" textLength="40" lengthAdjust="spacingAndGlyphs">LRS</text>
<text x="1577.8" y="836" font-size="33" font-weight="bold" fill="#000">Ta<tspan font-size="21" dy="7">2</tspan><tspan dy="-7">O5</tspan></text>
<text x="1769" y="921.7" font-size="24" font-weight="bold" fill="#000" text-anchor="start" textLength="63.4" lengthAdjust="spacingAndGlyphs">IRS-N</text>
</g>
<g font-family='"Liberation Sans", Arial, sans-serif' stroke="#000" stroke-width="0.3">
<text x="600.1" y="29.9" font-size="51" font-weight="bold" stroke="none">c</text>
<defs>
<clipPath id="cp00"><rect x="711" y="31.6" width="273.3" height="220.8"/></clipPath>
<clipPath id="cp01"><rect x="1046.5" y="31.6" width="273.3" height="220.8"/></clipPath>
<clipPath id="cp02"><rect x="1382" y="31.6" width="273.3" height="220.8"/></clipPath>
<clipPath id="cp03"><rect x="1717.5" y="31.6" width="273.3" height="220.8"/></clipPath>
<clipPath id="cp10"><rect x="711" y="300.6" width="273.3" height="220.1"/></clipPath>
<clipPath id="cp11"><rect x="1046.5" y="300.6" width="273.3" height="220.1"/></clipPath>
<clipPath id="cp12"><rect x="1382" y="300.6" width="273.3" height="220.1"/></clipPath>
<clipPath id="cp13"><rect x="1717.5" y="300.6" width="273.3" height="220.1"/></clipPath>
</defs>
<g clip-path="url(#cp00)"><path d="M738.3,98.4 748.4,103.1 757.5,107.5 765.6,111.7 772.9,115.5 779.4,119.2 785.3,122.6 790.5,125.9 795.3,129 799.5,131.9 803.3,134.7 806.7,137.4 809.7,140 812.4,142.5 814.9,144.9 817.1,147.3 819.1,149.5 820.8,151.7 822.4,153.9 823.8,156 825.1,158 826.3,160 827.3,162 828.2,164 829,165.9 829.8,167.8 830.4,169.6 831,171.5 831.5,173.3 832,175.1 832.5,176.9 832.8,178.7 833.2,180.5 833.5,182.2 833.8,184 834,185.7 834.2,187.5 834.4,189.2 834.6,190.9 834.8,192.6 834.9,194.3 835,196 835.2,197.7 835.3,199.4 835.4,201.1 835.4,202.8 835.5,204.5 835.6,206.2 835.6,207.9 835.7,209.6 835.8,211.3 835.8,212.9 835.8,214.6 835.9,216.3 835.9,218 835.9,219.6 836,221.3 836.2,270.6 830.7,270.6 830.5,230.3 830.5,228.7 830.4,227 830.4,225.3 830.4,223.7 830.3,222 830.3,220.4 830.2,218.7 830.2,217 830.1,215.4 830.1,213.7 830,212 829.9,210.3 829.8,208.6 829.7,207 829.6,205.3 829.5,203.6 829.3,201.9 829.2,200.2 829,198.5 828.8,196.8 828.6,195.1 828.4,193.3 828.1,191.6 827.8,189.9 827.5,188.1 827.1,186.4 826.7,184.6 826.2,182.8 825.7,181 825.1,179.2 824.5,177.3 823.8,175.4 823,173.6 822.1,171.6 821.1,169.7 820,167.7 818.8,165.7 817.5,163.6 816,161.5 814.3,159.4 812.4,157.1 810.3,154.9 808,152.5 805.4,150.1 802.5,147.5 799.3,144.9 795.7,142.2 791.8,139.3 787.3,136.3 782.4,133.2 776.9,129.9 770.7,126.4 763.9,122.6 756.3,118.7 747.8,114.5 738.3,109.9ZM738.3,103.9 750.9,109.4 762.1,114.6 772.1,119.4 781.1,124 789.1,128.4 796.2,132.5 802.6,136.4 808.3,140.1 813.4,143.7 818,147.1 822.1,150.4 825.7,153.6 829,156.7 831.9,159.7 834.5,162.6 836.8,165.5 838.9,168.2 840.8,171 842.4,173.6 843.9,176.2 845.2,178.8 846.4,181.4 847.5,183.9 848.4,186.3 849.3,188.8 850,191.2 850.7,193.6 851.3,196 851.9,198.4 852.3,200.7 852.8,203.1 853.2,205.4 853.5,207.7 853.8,210 854.1,212.3 854.3,214.6 854.5,216.9 854.7,219.2 854.9,221.5 855.1,223.8 855.2,226 855.3,228.3 855.5,230.5 855.6,232.8 855.6,235 855.7,237.3 855.8,239.5 855.9,241.8 855.9,244 856,246.3 856.4,270.6 855.3,270.6 854.8,247.1 854.8,244.8 854.7,242.6 854.6,240.3 854.6,238.1 854.5,235.8 854.4,233.6 854.3,231.3 854.1,229.1 854,226.8 853.8,224.5 853.7,222.3 853.5,220 853.2,217.7 853,215.4 852.7,213.1 852.4,210.8 852.1,208.5 851.7,206.2 851.3,203.8 850.8,201.5 850.2,199.1 849.6,196.7 849,194.3 848.2,191.9 847.4,189.5 846.4,187 845.4,184.5 844.2,182 842.9,179.4 841.4,176.8 839.8,174.1 837.9,171.4 835.9,168.6 833.6,165.8 831,162.9 828.1,159.9 824.9,156.8 821.2,153.7 817.2,150.4 812.7,146.9 807.6,143.4 802,139.7 795.6,135.8 788.5,131.7 780.6,127.4 771.8,122.8 761.8,118 750.7,112.8 738.3,107.3ZM957,113.3 943.7,116.5 931.9,119.7 921.3,122.9 911.9,126 903.5,129 895.9,132.1 889.2,135 883.2,138 877.9,140.9 873.1,143.8 868.8,146.6 865,149.4 861.6,152.3 858.5,155.1 855.8,157.8 853.4,160.6 851.2,163.4 849.3,166.1 847.6,168.9 846,171.6 844.7,174.3 843.4,177 842.3,179.7 841.3,182.4 840.5,185.1 839.7,187.8 839,190.5 838.4,193.2 837.8,195.9 837.3,198.6 836.9,201.3 836.5,203.9 836.1,206.6 835.8,209.3 835.5,212 835.3,214.6 835,217.3 834.8,220 834.7,222.6 834.5,225.3 834.4,228 834.2,230.6 834.1,233.3 834,236 833.9,238.6 833.8,241.3 833.8,243.9 833.7,246.6 833.2,270.6 833.7,270.6 834.3,248 834.4,245.3 834.5,242.6 834.6,240 834.7,237.3 834.8,234.7 834.9,232 835,229.3 835.2,226.7 835.4,224 835.6,221.3 835.8,218.7 836.1,216 836.3,213.3 836.7,210.7 837,208 837.4,205.3 837.9,202.6 838.3,200 838.9,197.3 839.5,194.6 840.2,191.9 841,189.2 841.9,186.5 842.9,183.8 843.9,181.1 845.2,178.4 846.5,175.7 848.1,172.9 849.8,170.2 851.7,167.5 853.9,164.7 856.3,161.9 859,159.1 862,156.3 865.4,153.5 869.2,150.7 873.5,147.8 878.2,145 883.6,142.1 889.5,139.1 896.2,136.2 903.7,133.2 912.1,130.1 921.5,127 932,123.9 943.8,120.7 957,117.4ZM957,113.7 946.2,116.7 936.6,119.5 927.9,122.2 920.2,124.8 913.3,127.2 907.1,129.5 901.5,131.8 896.5,133.9 892.1,136 888.1,138 884.5,139.9 881.3,141.8 878.4,143.7 875.8,145.5 873.5,147.2 871.4,149 869.6,150.7 867.9,152.4 866.4,154 865.1,155.6 863.9,157.2 862.9,158.8 861.9,160.4 861,161.9 860.3,163.5 859.6,165 859,166.5 858.4,168 857.9,169.6 857.5,171 857.1,172.5 856.7,174 856.4,175.5 856.1,177 855.9,178.4 855.6,179.9 855.4,181.4 855.2,182.8 855.1,184.3 854.9,185.7 854.8,187.2 854.7,188.6 854.6,190.1 854.5,191.5 854.4,193 854.3,194.4 854.3,195.9 854.2,197.3 854.1,198.7 854.1,200.2 854,201.6 854,203.1 854,204.5 853.9,205.9 853.9,207.4 853.9,208.8 853.7,270.6 860.2,270.6 860.4,217.3 860.5,215.9 860.5,214.5 860.5,213 860.6,211.6 860.6,210.2 860.6,208.8 860.7,207.4 860.7,205.9 860.8,204.5 860.9,203.1 860.9,201.6 861,200.2 861.1,198.8 861.2,197.4 861.3,195.9 861.5,194.5 861.6,193.1 861.8,191.6 861.9,190.2 862.1,188.7 862.4,187.3 862.6,185.8 862.9,184.4 863.2,182.9 863.5,181.4 863.9,180 864.3,178.5 864.8,177 865.3,175.5 865.9,174 866.6,172.5 867.3,171 868.1,169.4 869.1,167.9 870.1,166.3 871.2,164.7 872.5,163.1 873.9,161.5 875.4,159.9 877.2,158.2 879.1,156.5 881.3,154.8 883.7,153 886.4,151.2 889.5,149.4 892.8,147.5 896.6,145.5 900.7,143.5 905.4,141.4 910.6,139.2 916.4,137 922.8,134.6 930,132.2 938.1,129.6 947,126.9 957,124Z" fill="#555555" stroke="#555555" stroke-width="1.3" stroke-linejoin="round"/></g>
<g clip-path="url(#cp01)"><path d="M1041,79.1 1055.4,84.3 1068.2,89 1079.6,93.3 1089.8,97.1 1098.9,100.7 1107,103.9 1114.2,106.8 1120.7,109.5 1126.4,112 1131.6,114.3 1136.1,116.4 1140.2,118.3 1143.9,120.1 1147.1,121.8 1150,123.4 1152.6,124.9 1154.9,126.3 1156.9,127.6 1158.8,128.8 1160.4,130 1161.9,131.1 1163.1,132.2 1164.3,133.2 1165.3,134.2 1166.3,135.2 1167.1,136.1 1167.8,137 1168.5,137.9 1169.1,138.7 1169.6,139.6 1170,140.4 1170.4,141.2 1170.8,141.9 1171.1,142.7 1171.4,143.5 1171.7,144.2 1171.9,145 1172.1,145.7 1172.3,146.4 1172.5,147.1 1172.6,147.9 1172.8,148.6 1172.9,149.3 1173,150 1173.1,150.7 1173.2,151.4 1173.2,152 1173.3,152.7 1173.4,153.4 1173.4,154.1 1173.5,154.8 1173.5,155.5 1173.5,156.1 1173.6,156.8 1173.6,157.5 1173.6,158.2 1173.9,270.6 1165.1,270.6 1164.9,170.7 1164.9,170 1164.8,169.3 1164.8,168.7 1164.8,168 1164.7,167.3 1164.7,166.6 1164.6,166 1164.6,165.3 1164.5,164.6 1164.4,163.9 1164.4,163.2 1164.3,162.6 1164.2,161.9 1164,161.2 1163.9,160.5 1163.8,159.8 1163.6,159.1 1163.4,158.3 1163.2,157.6 1163,156.9 1162.8,156.1 1162.5,155.4 1162.2,154.6 1161.8,153.9 1161.4,153.1 1161,152.3 1160.5,151.5 1159.9,150.6 1159.3,149.8 1158.6,148.9 1157.8,148 1156.9,147.1 1155.9,146.1 1154.8,145.1 1153.6,144 1152.2,142.9 1150.7,141.8 1149,140.6 1147,139.3 1144.8,138 1142.4,136.6 1139.7,135 1136.6,133.4 1133.2,131.7 1129.4,129.8 1125.1,127.8 1120.3,125.6 1115,123.3 1108.9,120.7 1102.2,118 1094.7,114.9 1086.2,111.6 1076.8,108 1066.2,104 1054.3,99.6 1041,94.8ZM1041,86.7 1057.6,92.8 1072.3,98.4 1085.4,103.5 1097.1,108.2 1107.5,112.6 1116.7,116.6 1124.9,120.3 1132.2,123.7 1138.7,126.9 1144.5,129.9 1149.7,132.7 1154.3,135.3 1158.4,137.8 1162,140.2 1165.2,142.4 1168.1,144.6 1170.7,146.6 1172.9,148.6 1175,150.5 1176.8,152.3 1178.4,154.1 1179.8,155.8 1181.1,157.5 1182.2,159.1 1183.2,160.7 1184.1,162.3 1184.9,163.8 1185.6,165.3 1186.2,166.8 1186.8,168.3 1187.3,169.7 1187.8,171.2 1188.1,172.6 1188.5,174 1188.8,175.4 1189.1,176.8 1189.3,178.1 1189.6,179.5 1189.8,180.9 1189.9,182.2 1190.1,183.6 1190.2,184.9 1190.4,186.3 1190.5,187.6 1190.6,188.9 1190.6,190.3 1190.7,191.6 1190.8,192.9 1190.9,194.2 1190.9,195.5 1191,196.9 1191,198.2 1191,199.5 1191.1,200.8 1191.1,202.1 1191.1,203.4 1191.3,270.6 1190.3,270.6 1190,206.4 1190,205.1 1190,203.8 1189.9,202.5 1189.9,201.2 1189.9,199.9 1189.8,198.6 1189.8,197.2 1189.7,195.9 1189.6,194.6 1189.6,193.3 1189.5,191.9 1189.4,190.6 1189.3,189.3 1189.1,187.9 1189,186.6 1188.8,185.3 1188.7,183.9 1188.5,182.5 1188.3,181.2 1188,179.8 1187.7,178.4 1187.4,177 1187.1,175.6 1186.7,174.2 1186.2,172.8 1185.7,171.3 1185.2,169.9 1184.5,168.4 1183.8,166.9 1183,165.3 1182.2,163.8 1181.2,162.2 1180,160.6 1178.8,158.9 1177.3,157.2 1175.7,155.4 1174,153.6 1171.9,151.7 1169.7,149.7 1167.1,147.7 1164.3,145.5 1161.1,143.3 1157.5,141 1153.4,138.5 1148.8,135.8 1143.7,133 1138,130.1 1131.5,126.9 1124.3,123.5 1116.1,119.8 1106.9,115.8 1096.6,111.5 1085.1,106.8 1072.1,101.7 1057.4,96.2 1041,90.1ZM1325.3,88.1 1308,91.5 1292.6,94.8 1279,98.1 1266.8,101.3 1256,104.5 1246.4,107.7 1237.9,110.9 1230.3,114.1 1223.5,117.2 1217.5,120.3 1212.1,123.4 1207.4,126.5 1203.2,129.6 1199.4,132.7 1196.1,135.8 1193.1,138.9 1190.4,141.9 1188.1,145 1186,148 1184.1,151.1 1182.5,154.1 1181,157.2 1179.7,160.2 1178.6,163.2 1177.5,166.2 1176.6,169.3 1175.8,172.3 1175.1,175.3 1174.4,178.3 1173.8,181.4 1173.3,184.4 1172.9,187.4 1172.5,190.4 1172.1,193.4 1171.8,196.5 1171.5,199.5 1171.2,202.5 1171,205.5 1170.8,208.5 1170.6,211.5 1170.5,214.5 1170.3,217.5 1170.2,220.6 1170.1,223.6 1170,226.6 1169.9,229.6 1169.8,232.6 1169.8,235.6 1169.7,238.6 1169.7,241.6 1169.6,244.6 1169.6,247.7 1169.2,270.6 1169.8,270.6 1170.2,245.6 1170.3,242.6 1170.3,239.6 1170.4,236.6 1170.5,233.6 1170.6,230.6 1170.7,227.6 1170.8,224.6 1170.9,221.6 1171,218.6 1171.2,215.5 1171.4,212.5 1171.6,209.5 1171.8,206.5 1172,203.5 1172.3,200.5 1172.6,197.5 1173,194.5 1173.4,191.4 1173.9,188.4 1174.4,185.4 1174.9,182.4 1175.6,179.4 1176.3,176.3 1177.1,173.3 1178,170.3 1179.1,167.3 1180.2,164.2 1181.5,161.2 1183,158.2 1184.7,155.1 1186.5,152.1 1188.6,149 1190.9,146 1193.6,142.9 1196.5,139.9 1199.9,136.8 1203.6,133.7 1207.8,130.6 1212.6,127.5 1217.9,124.4 1223.9,121.3 1230.6,118.1 1238.2,115 1246.7,111.8 1256.3,108.6 1267,105.4 1279.1,102.2 1292.8,98.9 1308.1,95.6 1325.3,92.2ZM1325.3,91.9 1310.5,94.3 1297.3,96.6 1285.6,99 1275.1,101.4 1265.8,103.7 1257.5,106 1250.1,108.4 1243.5,110.7 1237.6,113 1232.3,115.3 1227.6,117.6 1223.4,120 1219.7,122.3 1216.4,124.6 1213.5,126.9 1210.8,129.2 1208.5,131.5 1206.4,133.8 1204.5,136.1 1202.8,138.4 1201.4,140.7 1200,143 1198.9,145.3 1197.8,147.6 1196.9,149.9 1196,152.1 1195.3,154.4 1194.6,156.7 1194,159 1193.5,161.3 1193,163.6 1192.6,165.9 1192.2,168.2 1191.9,170.5 1191.6,172.8 1191.3,175 1191.1,177.3 1190.9,179.6 1190.7,181.9 1190.5,184.2 1190.4,186.5 1190.3,188.8 1190.1,191.1 1190,193.3 1189.9,195.6 1189.9,197.9 1189.8,200.2 1189.7,202.5 1189.7,204.8 1189.6,207.1 1189.6,209.4 1189.5,211.6 1189.5,213.9 1189.4,216.2 1189.4,218.5 1189.4,220.8 1189.2,270.6 1192.4,270.6 1192.7,229.8 1192.7,227.5 1192.7,225.2 1192.8,223 1192.8,220.7 1192.8,218.4 1192.9,216.1 1192.9,213.8 1193,211.6 1193.1,209.3 1193.1,207 1193.2,204.7 1193.3,202.5 1193.4,200.2 1193.5,197.9 1193.7,195.6 1193.8,193.3 1194,191.1 1194.2,188.8 1194.4,186.5 1194.6,184.2 1194.9,181.9 1195.2,179.7 1195.5,177.4 1195.9,175.1 1196.3,172.8 1196.7,170.5 1197.2,168.3 1197.8,166 1198.5,163.7 1199.2,161.4 1200,159.1 1201,156.8 1202,154.6 1203.2,152.3 1204.4,150 1205.9,147.7 1207.5,145.4 1209.4,143.1 1211.4,140.8 1213.7,138.5 1216.3,136.2 1219.2,133.9 1222.4,131.6 1226.1,129.3 1230.2,127 1234.7,124.7 1239.9,122.4 1245.6,120.1 1252.1,117.8 1259.3,115.5 1267.4,113.1 1276.5,110.8 1286.7,108.5 1298.1,106.1 1310.9,103.8 1325.3,101.4Z" fill="#E8433F" stroke="#E8433F" stroke-width="1.3" stroke-linejoin="round"/></g>
<g clip-path="url(#cp02)"><path d="M1376.5,62.5 1391.9,67.4 1405.5,71.9 1417.7,76.1 1428.5,80.1 1438.1,83.8 1446.7,87.4 1454.4,90.7 1461.2,93.8 1467.3,96.8 1472.7,99.7 1477.6,102.5 1481.9,105.1 1485.7,107.7 1489.1,110.1 1492.2,112.5 1494.9,114.8 1497.3,117.1 1499.4,119.3 1501.3,121.5 1503.1,123.6 1504.6,125.7 1505.9,127.7 1507.1,129.8 1508.2,131.7 1509.2,133.7 1510,135.7 1510.8,137.6 1511.5,139.5 1512.1,141.4 1512.6,143.3 1513.1,145.2 1513.5,147 1513.9,148.9 1514.2,150.7 1514.5,152.6 1514.8,154.4 1515,156.2 1515.3,158 1515.5,159.8 1515.6,161.6 1515.8,163.5 1515.9,165.3 1516,167.1 1516.1,168.9 1516.2,170.6 1516.3,172.4 1516.4,174.2 1516.5,176 1516.5,177.8 1516.6,179.6 1516.6,181.4 1516.7,183.2 1516.7,184.9 1516.7,186.7 1516.8,188.5 1516.8,190.3 1517,270.6 1509.4,270.6 1509.1,210.3 1509.1,208.5 1509.1,206.8 1509,205 1509,203.2 1509,201.5 1508.9,199.7 1508.9,197.9 1508.8,196.1 1508.7,194.4 1508.7,192.6 1508.6,190.8 1508.5,189 1508.4,187.3 1508.3,185.5 1508.1,183.7 1508,181.9 1507.8,180.1 1507.6,178.3 1507.4,176.5 1507.2,174.7 1506.9,172.9 1506.6,171.1 1506.3,169.2 1505.9,167.4 1505.5,165.6 1505.1,163.7 1504.6,161.8 1504,160 1503.3,158.1 1502.6,156.2 1501.8,154.2 1500.8,152.3 1499.8,150.3 1498.6,148.3 1497.4,146.3 1495.9,144.3 1494.3,142.2 1492.4,140 1490.4,137.9 1488.1,135.6 1485.5,133.4 1482.6,131 1479.4,128.6 1475.7,126.1 1471.6,123.5 1467.1,120.8 1461.9,118 1456.2,115.1 1449.7,112 1442.5,108.8 1434.4,105.4 1425.3,101.8 1415.1,98 1403.7,93.9 1390.9,89.6 1376.5,84.9ZM1660.8,67.1 1645.1,69.5 1631.2,72 1618.7,74.4 1607.7,76.9 1597.8,79.4 1589,82 1581.2,84.5 1574.3,87.1 1568.1,89.7 1562.5,92.3 1557.6,95 1553.2,97.6 1549.3,100.2 1545.9,102.9 1542.8,105.5 1540,108.2 1537.6,110.9 1535.4,113.5 1533.4,116.2 1531.7,118.9 1530.1,121.6 1528.8,124.3 1527.5,127 1526.4,129.7 1525.5,132.4 1524.6,135.1 1523.8,137.8 1523.2,140.5 1522.5,143.2 1522,145.9 1521.5,148.6 1521.1,151.3 1520.7,154.1 1520.4,156.8 1520,159.5 1519.8,162.2 1519.5,164.9 1519.3,167.6 1519.1,170.4 1519,173.1 1518.8,175.8 1518.7,178.5 1518.5,181.2 1518.4,183.9 1518.3,186.7 1518.3,189.4 1518.2,192.1 1518.1,194.8 1518,197.5 1518,200.3 1517.9,203 1517.9,205.7 1517.9,208.4 1517.8,211.1 1517.8,213.9 1517.8,216.6 1517.6,270.6 1525.2,270.6 1525.4,237.6 1525.5,234.9 1525.5,232.2 1525.5,229.5 1525.6,226.8 1525.6,224.1 1525.6,221.4 1525.7,218.7 1525.8,216 1525.8,213.3 1525.9,210.6 1526,207.9 1526.1,205.2 1526.2,202.5 1526.3,199.8 1526.4,197.1 1526.6,194.4 1526.7,191.7 1526.9,189.1 1527.1,186.4 1527.4,183.7 1527.6,181 1527.9,178.3 1528.3,175.6 1528.6,172.9 1529.1,170.2 1529.5,167.5 1530.1,164.8 1530.7,162.1 1531.3,159.5 1532.1,156.8 1532.9,154.1 1533.8,151.4 1534.9,148.7 1536.1,146.1 1537.4,143.4 1538.8,140.7 1540.5,138.1 1542.4,135.4 1544.5,132.8 1546.8,130.1 1549.4,127.5 1552.4,124.8 1555.7,122.2 1559.4,119.6 1563.5,117 1568.2,114.3 1573.4,111.8 1579.3,109.2 1585.9,106.6 1593.3,104.1 1601.6,101.5 1610.8,99 1621.3,96.5 1633,94.1 1646.1,91.7 1660.8,89.3ZM1376.5,76 1392.5,81.2 1406.7,86.2 1419.3,90.8 1430.5,95.2 1440.6,99.4 1449.5,103.3 1457.4,107 1464.5,110.6 1470.8,114 1476.4,117.3 1481.4,120.4 1485.8,123.5 1489.8,126.4 1493.3,129.3 1496.4,132.1 1499.2,134.8 1501.7,137.5 1503.9,140.1 1505.9,142.7 1507.7,145.2 1509.2,147.7 1510.6,150.2 1511.9,152.6 1513,155 1513.9,157.4 1514.8,159.7 1515.6,162.1 1516.3,164.4 1516.9,166.7 1517.5,169 1517.9,171.3 1518.4,173.5 1518.8,175.8 1519.1,178 1519.4,180.3 1519.7,182.5 1519.9,184.8 1520.2,187 1520.4,189.2 1520.5,191.4 1520.7,193.6 1520.8,195.9 1520.9,198.1 1521,200.3 1521.1,202.5 1521.2,204.7 1521.3,206.9 1521.4,209.1 1521.4,211.3 1521.5,213.5 1521.5,215.7 1521.6,217.9 1521.6,220 1521.7,222.2 1521.7,224.4 1521.7,226.6 1521.9,270.6 1520.8,270.6 1520.6,231.6 1520.6,229.4 1520.6,227.2 1520.5,225.1 1520.5,222.9 1520.4,220.7 1520.4,218.5 1520.3,216.3 1520.3,214.1 1520.2,211.9 1520.1,209.7 1520.1,207.5 1520,205.3 1519.8,203.1 1519.7,200.9 1519.6,198.7 1519.4,196.5 1519.3,194.3 1519.1,192 1518.9,189.8 1518.6,187.6 1518.3,185.3 1518,183.1 1517.7,180.8 1517.3,178.6 1516.9,176.3 1516.4,174 1515.8,171.8 1515.2,169.4 1514.5,167.1 1513.8,164.8 1512.9,162.4 1511.9,160.1 1510.8,157.7 1509.6,155.3 1508.2,152.8 1506.6,150.3 1504.9,147.8 1502.9,145.2 1500.7,142.6 1498.3,139.9 1495.5,137.2 1492.4,134.4 1488.9,131.6 1484.9,128.6 1480.5,125.6 1475.6,122.4 1470,119.2 1463.8,115.8 1456.7,112.2 1448.9,108.5 1440,104.6 1430.1,100.5 1418.9,96.1 1406.4,91.5 1392.3,86.6 1376.5,81.3ZM1660.8,70.6 1644.5,73.2 1630,75.8 1617.1,78.5 1605.6,81.2 1595.4,84.1 1586.3,87 1578.2,89.9 1571,92.9 1564.6,95.9 1558.9,98.9 1553.8,102 1549.3,105.1 1545.3,108.2 1541.7,111.4 1538.5,114.6 1535.6,117.8 1533.1,121 1530.9,124.2 1528.9,127.4 1527.1,130.7 1525.5,133.9 1524.1,137.2 1522.8,140.4 1521.7,143.7 1520.7,147 1519.8,150.3 1519,153.6 1518.3,156.9 1517.7,160.2 1517.1,163.5 1516.7,166.8 1516.2,170.1 1515.8,173.4 1515.5,176.7 1515.2,180 1514.9,183.4 1514.6,186.7 1514.4,190 1514.2,193.3 1514,196.6 1513.9,200 1513.8,203.3 1513.6,206.6 1513.5,209.9 1513.4,213.3 1513.3,216.6 1513.3,219.9 1513.2,223.2 1513.1,226.6 1513.1,229.9 1513,233.2 1513,236.5 1512.9,239.9 1512.9,243.2 1512.9,246.5 1512.6,270.6 1513.7,270.6 1514,244.9 1514.1,241.6 1514.1,238.2 1514.2,234.9 1514.2,231.6 1514.3,228.3 1514.4,224.9 1514.4,221.6 1514.5,218.3 1514.6,215 1514.7,211.7 1514.8,208.3 1515,205 1515.1,201.7 1515.3,198.4 1515.5,195.1 1515.7,191.7 1516,188.4 1516.2,185.1 1516.6,181.8 1516.9,178.5 1517.3,175.2 1517.7,171.9 1518.2,168.6 1518.8,165.3 1519.4,162 1520.1,158.7 1520.9,155.4 1521.8,152.1 1522.8,148.8 1523.9,145.6 1525.1,142.3 1526.5,139 1528.1,135.8 1529.9,132.6 1531.9,129.3 1534.1,126.1 1536.6,122.9 1539.4,119.7 1542.6,116.6 1546.2,113.4 1550.2,110.3 1554.7,107.2 1559.7,104.1 1565.4,101 1571.7,98 1578.9,95 1586.9,92.1 1595.9,89.2 1606.1,86.4 1617.5,83.6 1630.3,80.9 1644.6,78.3 1660.8,75.8Z" fill="#1F6FDB" stroke="#1F6FDB" stroke-width="1.3" stroke-linejoin="round"/></g>
<g clip-path="url(#cp03)"><path d="M1712,51.6 1727.6,54.9 1741.5,58.1 1753.9,61.2 1764.9,64.2 1774.7,67 1783.5,69.8 1791.2,72.5 1798.2,75.1 1804.4,77.7 1809.9,80.2 1814.8,82.7 1819.1,85.1 1823,87.5 1826.5,89.8 1829.6,92.1 1832.3,94.4 1834.7,96.7 1836.9,98.9 1838.9,101.1 1840.6,103.3 1842.1,105.5 1843.5,107.7 1844.7,109.8 1845.8,112 1846.8,114.1 1847.7,116.2 1848.4,118.4 1849.1,120.5 1849.7,122.6 1850.3,124.7 1850.7,126.8 1851.2,128.9 1851.6,131 1851.9,133.1 1852.2,135.2 1852.5,137.2 1852.7,139.3 1852.9,141.4 1853.1,143.5 1853.3,145.5 1853.5,147.6 1853.6,149.7 1853.7,151.7 1853.8,153.8 1853.9,155.9 1854,158 1854.1,160 1854.1,162.1 1854.2,164.1 1854.3,166.2 1854.3,168.3 1854.3,170.3 1854.4,172.4 1854.7,196.6 1852.5,196.6 1851.7,172.4 1851.6,170.4 1851.5,168.3 1851.4,166.2 1851.3,164.2 1851.1,162.1 1851,160 1850.8,158 1850.5,155.9 1850.3,153.8 1850,151.8 1849.7,149.7 1849.4,147.6 1849,145.5 1848.6,143.4 1848.1,141.3 1847.6,139.2 1847,137.1 1846.3,135 1845.5,132.9 1844.7,130.8 1843.7,128.6 1842.6,126.5 1841.4,124.3 1840.1,122.2 1838.6,120 1836.8,117.8 1834.9,115.6 1832.8,113.4 1830.4,111.1 1827.7,108.8 1824.6,106.5 1821.2,104.2 1817.4,101.8 1813.1,99.4 1808.2,97 1802.8,94.5 1796.7,91.9 1789.9,89.3 1782.2,86.6 1773.6,83.9 1764,81 1753.2,78.1 1741,75 1727.4,71.9 1712,68.6ZM1996.3,52.7 1981,56.3 1967.4,59.8 1955.3,63.1 1944.5,66.3 1934.9,69.5 1926.4,72.5 1918.7,75.5 1911.9,78.4 1905.9,81.2 1900.5,84 1895.7,86.8 1891.4,89.5 1887.6,92.2 1884.2,94.8 1881.1,97.4 1878.4,100 1876,102.6 1873.9,105.1 1872,107.6 1870.3,110.1 1868.7,112.6 1867.4,115.1 1866.2,117.5 1865.1,120 1864.2,122.4 1863.3,124.9 1862.5,127.3 1861.9,129.7 1861.3,132.1 1860.7,134.5 1860.2,136.9 1859.8,139.3 1859.4,141.7 1859.1,144.1 1858.8,146.5 1858.5,148.9 1858.3,151.3 1858.1,153.7 1857.9,156 1857.7,158.4 1857.6,160.8 1857.4,163.2 1857.3,165.5 1857.2,167.9 1857.1,170.3 1856.3,193.1 1858.5,193.1 1860.3,168.8 1860.5,166.4 1860.7,164 1861,161.6 1861.3,159.2 1861.6,156.9 1862,154.5 1862.4,152.1 1862.9,149.7 1863.4,147.3 1864,144.9 1864.7,142.5 1865.4,140 1866.3,137.6 1867.2,135.2 1868.3,132.7 1869.5,130.3 1870.8,127.8 1872.3,125.3 1874,122.8 1875.9,120.3 1878,117.8 1880.4,115.3 1883,112.7 1886,110.1 1889.4,107.5 1893.1,104.8 1897.4,102.1 1902.1,99.4 1907.4,96.6 1913.4,93.7 1920.1,90.8 1927.6,87.9 1936,84.8 1945.4,81.7 1956,78.5 1967.9,75.2 1981.3,71.8 1996.3,68.2ZM1712,61.8 1728,65 1742.3,68.1 1755,71.2 1766.3,74.2 1776.3,77.2 1785.3,80 1793.2,82.9 1800.3,85.7 1806.7,88.5 1812.3,91.3 1817.3,94 1821.8,96.7 1825.7,99.4 1829.3,102.1 1832.4,104.7 1835.2,107.4 1837.7,110 1839.9,112.6 1841.9,115.2 1843.7,117.8 1845.2,120.4 1846.6,123 1847.9,125.5 1849,128.1 1850,130.7 1850.9,133.2 1851.6,135.8 1852.3,138.3 1852.9,140.9 1853.5,143.4 1854,145.9 1854.4,148.5 1854.8,151 1855.2,153.5 1855.5,156.1 1855.7,158.6 1856,161.1 1856.2,163.7 1856.4,166.2 1856.6,168.7 1858,193.1 1856.9,193.1 1855.1,168.7 1854.9,166.2 1854.7,163.7 1854.4,161.1 1854.1,158.6 1853.7,156.1 1853.3,153.5 1852.9,151 1852.4,148.5 1851.9,145.9 1851.3,143.4 1850.6,140.8 1849.8,138.3 1848.9,135.7 1847.9,133.2 1846.8,130.6 1845.6,128.1 1844.2,125.5 1842.6,122.9 1840.9,120.3 1838.9,117.7 1836.7,115.1 1834.2,112.5 1831.5,109.8 1828.3,107.2 1824.8,104.5 1820.9,101.8 1816.4,99.1 1811.5,96.4 1805.9,93.7 1799.6,90.9 1792.6,88.1 1784.7,85.2 1775.8,82.3 1765.8,79.4 1754.6,76.4 1742,73.3 1727.9,70.2 1712,67ZM1996.3,54 1980.6,57.8 1966.7,61.4 1954.2,64.8 1943.2,68.1 1933.3,71.2 1924.5,74.3 1916.7,77.2 1909.8,80 1903.6,82.7 1898,85.3 1893.1,87.9 1888.7,90.4 1884.8,92.9 1881.4,95.3 1878.3,97.7 1875.5,100 1873.1,102.3 1870.9,104.5 1868.9,106.8 1867.2,109 1865.6,111.2 1864.3,113.4 1863,115.5 1861.9,117.7 1861,119.8 1860.1,121.9 1859.3,124 1858.7,126.1 1858,128.2 1857.5,130.3 1857,132.4 1856.6,134.4 1856.2,136.5 1855.9,138.5 1855.5,140.6 1855.3,142.6 1855,144.7 1854.8,146.7 1854.6,148.8 1854.5,150.8 1854.3,152.9 1854.2,154.9 1854,156.9 1853.9,159 1853.8,161 1853.8,163 1853.7,165 1853.6,167.1 1853.5,169.1 1853.5,171.1 1853.4,173.1 1853.1,196.6 1854.2,196.6 1854.7,172.1 1854.8,170.1 1854.8,168 1854.9,166 1855,164 1855.1,162 1855.3,159.9 1855.4,157.9 1855.5,155.9 1855.7,153.8 1855.9,151.8 1856.1,149.7 1856.4,147.7 1856.6,145.6 1856.9,143.6 1857.3,141.5 1857.7,139.5 1858.1,137.4 1858.6,135.3 1859.1,133.3 1859.7,131.2 1860.4,129.1 1861.2,127 1862,124.9 1863,122.7 1864.1,120.6 1865.3,118.5 1866.7,116.3 1868.2,114.1 1869.9,111.9 1871.9,109.6 1874,107.4 1876.5,105.1 1879.2,102.8 1882.3,100.4 1885.7,98 1889.6,95.5 1894,93 1898.9,90.5 1904.3,87.8 1910.5,85.1 1917.4,82.3 1925.2,79.4 1933.9,76.4 1943.6,73.3 1954.6,70.1 1966.9,66.6 1980.7,63.1 1996.3,59.3Z" fill="#3DAA6B" stroke="#3DAA6B" stroke-width="1.3" stroke-linejoin="round"/></g>
<g clip-path="url(#cp10)"><path d="M705.5,314 720.7,317.7 734.2,321.2 746.3,324.6 757,327.9 766.6,331 775.1,334 782.7,336.9 789.5,339.8 795.5,342.5 800.9,345.3 805.7,347.9 810,350.5 813.8,353 817.2,355.5 820.2,358 822.9,360.5 825.3,362.9 827.4,365.2 829.3,367.6 831,369.9 832.5,372.3 833.9,374.6 835.1,376.8 836.2,379.1 837.1,381.4 838,383.6 838.7,385.9 839.4,388.1 840,390.3 840.5,392.6 841,394.8 841.4,397 841.8,399.2 842.2,401.4 844.9,424.6 843.8,424.6 840.4,401 839.9,398.8 839.5,396.6 838.9,394.4 838.3,392.2 837.7,390 836.9,387.7 836.1,385.5 835.1,383.2 834,380.9 832.8,378.7 831.5,376.4 830,374 828.3,371.7 826.4,369.4 824.3,367 821.9,364.6 819.2,362.1 816.2,359.7 812.9,357.2 809.1,354.6 804.9,352 800.1,349.4 794.8,346.7 788.8,343.9 782.1,341.1 774.5,338.2 766.1,335.2 756.6,332.1 745.9,328.8 734,325.5 720.6,322 705.5,318.3ZM705.5,323.3 721.6,325.4 735.9,327.8 748.6,330.4 760,333.2 770.1,336.3 779.1,339.5 787.1,342.9 794.2,346.5 800.5,350.1 806.2,353.9 811.2,357.8 815.7,361.7 819.7,365.8 823.2,369.9 826.4,374.1 829.2,378.3 831.7,382.6 833.9,386.9 835.9,391.3 837.7,395.7 839.3,400.2 840.7,404.6 841.9,409.1 843,413.6 852,436.6 850.9,436.6 839.6,409.8 838.2,405.3 836.7,400.9 834.9,396.5 832.9,392.1 830.7,387.8 828.2,383.5 825.4,379.3 822.3,375.1 818.8,371 814.8,366.9 810.4,363 805.4,359.1 799.8,355.3 793.5,351.7 786.4,348.1 778.5,344.7 769.6,341.5 759.5,338.4 748.3,335.6 735.7,332.9 721.5,330.5 705.5,328.4ZM989.8,317.2 973.8,319.6 959.5,322.5 946.8,325.8 935.5,329.3 925.5,333.2 916.5,337.3 908.6,341.7 901.5,346.3 895.1,351.1 889.5,356 884.5,361.1 880,366.3 876.1,371.7 872.5,377.1 869.4,382.6 866.6,388.3 864.1,394 861.9,399.7 843.8,424.6 844.9,424.6 865.1,398.2 867.6,392.5 870.3,386.9 873.5,381.4 877,375.9 880.9,370.6 885.4,365.4 890.3,360.3 895.9,355.3 902.2,350.6 909.2,346 917.1,341.6 926,337.4 936,333.6 947.2,330 959.8,326.7 973.9,323.8 989.8,321.3ZM989.8,319.6 974.7,325.5 961.2,331.2 949.2,336.6 938.5,341.7 929,346.7 920.5,351.5 912.9,356 906.2,360.5 900.1,364.8 894.8,369 890,373.1 885.8,377.1 882,381 878.6,384.8 875.6,388.6 872.9,392.3 870.5,395.9 868.4,399.5 866.5,403.1 864.8,406.6 863.3,410.1 861.9,413.6 850.9,436.6 852,436.6 865.8,410.8 867.5,407.2 869.4,403.7 871.5,400.1 873.9,396.5 876.5,392.8 879.5,389 882.9,385.2 886.6,381.3 890.9,377.3 895.6,373.2 900.9,369 906.9,364.7 913.6,360.3 921.1,355.7 929.5,351 938.9,346.1 949.5,340.9 961.4,335.6 974.8,329.9 989.8,324Z" fill="#A772DB" stroke="#A772DB" stroke-width="1.3" stroke-linejoin="round"/></g>
<g clip-path="url(#cp11)"><path d="M1041,313.4 1056.3,316.2 1069.9,319 1082,321.8 1092.8,324.5 1102.4,327.3 1110.9,330 1118.6,332.8 1125.4,335.5 1131.4,338.2 1136.8,340.9 1141.6,343.6 1145.9,346.3 1149.7,349 1153.1,351.7 1156.2,354.4 1158.9,357.1 1161.3,359.8 1163.4,362.5 1165.3,365.2 1167,367.8 1168.6,370.5 1169.9,373.2 1171.1,375.9 1172.2,378.5 1173.1,381.2 1181,404.6 1179.9,404.6 1170.1,381 1168.9,378.3 1167.5,375.6 1166,373 1164.3,370.3 1162.4,367.6 1160.3,364.9 1157.9,362.2 1155.2,359.6 1152.2,356.9 1148.8,354.2 1145,351.5 1140.8,348.8 1136,346.1 1130.7,343.4 1124.6,340.7 1117.9,337.9 1110.3,335.2 1101.8,332.5 1092.3,329.7 1081.6,327 1069.6,324.2 1056.1,321.4 1041,318.6ZM1041,322.8 1057,324.9 1071.3,327.2 1084,329.7 1095.3,332.3 1105.3,335 1114.3,337.8 1122.2,340.7 1129.3,343.7 1135.7,346.8 1141.3,349.9 1146.3,353.1 1150.8,356.3 1154.7,359.6 1158.3,362.9 1161.4,366.3 1164.2,369.7 1166.7,373.1 1168.9,376.5 1170.9,380 1172.7,383.5 1174.2,387 1175.6,390.5 1176.9,394 1178,397.6 1179,401.1 1179.9,404.7 1187,428.1 1185.9,428.1 1176.9,402.7 1175.8,399.2 1174.6,395.6 1173.2,392.1 1171.6,388.6 1169.9,385.1 1167.9,381.7 1165.7,378.2 1163.2,374.8 1160.5,371.4 1157.3,368.1 1153.8,364.8 1149.9,361.5 1145.4,358.3 1140.5,355.1 1134.9,352 1128.6,348.9 1121.6,345.9 1113.7,343 1104.8,340.2 1094.8,337.5 1083.6,334.9 1071,332.4 1056.9,330.1 1041,327.9ZM1325.3,316.2 1309.3,319.7 1295.1,323.3 1282.5,326.9 1271.3,330.6 1261.2,334.4 1252.3,338.3 1244.4,342.1 1237.3,346.1 1231,350 1225.4,354 1220.4,358.1 1216,362.1 1212,366.2 1208.5,370.3 1205.4,374.5 1202.6,378.6 1179.9,404.6 1181,404.6 1206.3,378.7 1209.4,374.5 1212.9,370.4 1216.9,366.3 1221.3,362.3 1226.2,358.3 1231.8,354.3 1238,350.3 1245.1,346.4 1252.9,342.5 1261.8,338.6 1271.7,334.9 1282.9,331.1 1295.4,327.5 1309.5,323.9 1325.3,320.5ZM1325.3,320.1 1310.1,326 1296.6,331.6 1284.5,336.8 1273.8,341.7 1264.2,346.4 1255.7,350.8 1248.1,355 1241.3,359.1 1235.3,362.9 1229.9,366.6 1225.1,370.2 1220.8,373.6 1217,377 1213.6,380.2 1210.6,383.4 1207.9,386.4 1205.5,389.5 1203.4,392.4 1201.5,395.3 1199.8,398.2 1198.3,401 1196.9,403.8 1185.9,428.1 1187,428.1 1199.3,405.1 1200.8,402.3 1202.5,399.4 1204.4,396.6 1206.5,393.6 1208.9,390.6 1211.6,387.5 1214.6,384.4 1217.9,381.1 1221.7,377.8 1225.9,374.4 1230.7,370.8 1236,367.1 1242,363.3 1248.7,359.3 1256.3,355.1 1264.7,350.7 1274.2,346.1 1284.9,341.1 1296.8,335.9 1310.2,330.4 1325.3,324.5Z" fill="#CC9A08" stroke="#CC9A08" stroke-width="1.3" stroke-linejoin="round"/></g>
<g clip-path="url(#cp12)"><path d="M1376.5,314 1391.8,316.6 1405.4,319.2 1417.5,321.8 1428.3,324.4 1437.9,327 1446.4,329.7 1454.1,332.3 1460.9,335 1466.9,337.7 1472.3,340.4 1477.1,343.1 1481.4,345.8 1485.2,348.5 1488.6,351.2 1491.7,353.9 1494.4,356.6 1496.8,359.4 1498.9,362.1 1500.8,364.8 1502.5,367.6 1504.1,370.3 1505.4,373 1506.6,375.8 1507.7,378.5 1508.6,381.3 1509.5,384 1516.5,406.6 1515.4,406.6 1505.6,381.9 1504.4,379.1 1503,376.4 1501.5,373.7 1499.8,370.9 1497.9,368.2 1495.8,365.5 1493.4,362.8 1490.7,360.1 1487.7,357.3 1484.3,354.6 1480.5,351.9 1476.3,349.2 1471.5,346.5 1466.2,343.8 1460.1,341.2 1453.4,338.5 1445.8,335.8 1437.3,333.2 1427.8,330.6 1417.1,328 1405.1,325.4 1391.6,322.8 1376.5,320.2ZM1376.5,325.8 1392.6,327.9 1406.9,330.2 1419.6,332.6 1431,335.1 1441.1,337.7 1450.1,340.3 1458.1,343.1 1465.2,345.9 1471.5,348.7 1477.2,351.6 1482.2,354.6 1486.7,357.6 1490.7,360.6 1494.2,363.7 1497.4,366.8 1500.2,369.9 1502.7,373 1504.9,376.2 1506.9,379.4 1508.7,382.5 1510.3,385.7 1511.7,389 1512.9,392.2 1514,395.4 1515,398.7 1515.9,401.9 1516.7,405.2 1523,428.1 1521.9,428.1 1513.9,404.8 1513,401.5 1511.9,398.3 1510.6,395.1 1509.2,391.9 1507.7,388.7 1505.9,385.5 1503.9,382.3 1501.7,379.2 1499.2,376 1496.4,372.9 1493.3,369.8 1489.8,366.8 1485.8,363.7 1481.4,360.8 1476.4,357.8 1470.8,354.9 1464.5,352 1457.4,349.2 1449.5,346.5 1440.6,343.8 1430.5,341.2 1419.3,338.7 1406.7,336.3 1392.5,334.1 1376.5,331.9ZM1660.8,315.9 1644.8,318.9 1630.6,322.1 1618,325.4 1606.8,328.8 1596.7,332.3 1587.8,336 1579.9,339.7 1572.8,343.6 1566.5,347.5 1560.9,351.4 1555.9,355.5 1551.5,359.6 1547.5,363.7 1544,367.9 1540.9,372.1 1538.1,376.3 1535.6,380.6 1515.4,406.6 1516.5,406.6 1539,381.5 1541.8,377.3 1544.9,373.1 1548.4,368.9 1552.4,364.8 1556.8,360.7 1561.7,356.7 1567.3,352.7 1573.5,348.8 1580.6,345 1588.4,341.2 1597.3,337.5 1607.2,334 1618.4,330.6 1630.9,327.3 1645,324.1 1660.8,321.1ZM1660.8,321.6 1645.7,327.4 1632.2,332.7 1620.2,337.7 1609.5,342.4 1600,346.8 1591.5,350.9 1583.9,354.8 1577.2,358.5 1571.1,362.1 1565.8,365.5 1561,368.7 1556.8,371.8 1553,374.8 1549.6,377.7 1546.6,380.5 1543.9,383.2 1541.5,385.8 1539.4,388.4 1537.5,391 1535.8,393.4 1534.3,395.9 1532.9,398.3 1531.7,400.6 1530.7,403 1529.7,405.3 1521.9,428.1 1523,428.1 1534,403.4 1535.3,401 1536.8,398.5 1538.5,396.1 1540.4,393.5 1542.5,391 1544.9,388.3 1547.5,385.6 1550.5,382.8 1553.9,379.9 1557.6,376.9 1561.9,373.9 1566.6,370.6 1571.9,367.3 1577.9,363.8 1584.6,360.1 1592.1,356.2 1600.5,352.1 1609.9,347.7 1620.5,343 1632.4,338.1 1645.8,332.8 1660.8,327Z" fill="#1EC5C9" stroke="#1EC5C9" stroke-width="1.3" stroke-linejoin="round"/></g>
<g clip-path="url(#cp13)"><path d="M1712,315.2 1727,318.3 1740.4,321.3 1752.3,324.2 1762.9,327.1 1772.3,329.9 1780.7,332.7 1788.2,335.4 1794.9,338.1 1800.9,340.7 1806.2,343.4 1810.9,345.9 1815.2,348.5 1818.9,351 1822.3,353.5 1825.3,356 1827.9,358.5 1830.3,361 1832.4,363.4 1834.3,365.8 1849.8,390.1 1847.6,390.1 1823.4,366.3 1820.4,363.8 1817.1,361.3 1813.4,358.8 1809.3,356.2 1804.6,353.7 1799.4,351 1793.5,348.4 1786.9,345.7 1779.5,343 1771.2,340.3 1762,337.5 1751.5,334.6 1739.8,331.7 1726.7,328.7 1712,325.6ZM1712,337.8 1729.1,341 1744.2,344.2 1757.7,347.4 1769.7,350.6 1780.3,353.8 1789.8,357 1798.3,360.2 1805.8,363.4 1812.5,366.6 1818.4,369.8 1823.7,373 1828.4,376.2 1832.5,379.4 1836.3,382.6 1839.6,385.8 1842.5,389.1 1866.2,414.6 1864,414.6 1834.4,391.9 1830.7,388.7 1826.6,385.5 1822,382.3 1816.8,379.1 1810.9,375.9 1804.3,372.7 1796.9,369.5 1788.6,366.3 1779.3,363.1 1768.8,359.9 1757,356.7 1743.7,353.6 1728.8,350.4 1712,347.2ZM1996.3,317.6 1979.9,322.3 1965.4,326.8 1952.4,331.1 1940.9,335.3 1930.6,339.2 1921.5,343.1 1913.4,346.8 1906.1,350.4 1899.7,353.9 1894,357.3 1888.9,360.7 1884.3,364 1880.3,367.2 1847.6,390.1 1849.8,390.1 1901.3,364.3 1907.6,360.8 1914.7,357.2 1922.7,353.5 1931.7,349.7 1941.8,345.7 1953.2,341.6 1965.9,337.4 1980.2,332.9 1996.3,328.2ZM1996.3,326.8 1982,330 1969.2,333.3 1957.8,336.5 1947.7,339.8 1938.7,343 1930.6,346.3 1923.4,349.6 1917,352.8 1911.2,356.1 1906.1,359.4 1901.6,362.7 1897.5,366 1893.9,369.3 1890.7,372.6 1887.8,375.9 1885.2,379.2 1882.9,382.5 1880.9,385.8 1879,389.2 1864,414.6 1866.2,414.6 1887.1,392.1 1889.7,388.8 1892.5,385.5 1895.7,382.2 1899.3,378.9 1903.3,375.6 1907.7,372.3 1912.8,369 1918.4,365.7 1924.7,362.5 1931.8,359.2 1939.7,355.9 1948.6,352.7 1958.6,349.4 1969.7,346.2 1982.2,343 1996.3,339.8Z" fill="#D4D4D4" stroke="#D4D4D4" stroke-width="1.3" stroke-linejoin="round"/></g>
<rect x="711" y="31.6" width="273.3" height="220.8" fill="none" stroke="#000" stroke-width="4.1"/>
<text x="704.4" y="45.2" font-size="13" text-anchor="end" letter-spacing="0.9">10<tspan font-size="9" dy="-8" letter-spacing="1.2">-6</tspan></text>
<text x="704.4" y="95.2" font-size="13" text-anchor="end" letter-spacing="0.9">10<tspan font-size="9" dy="-8" letter-spacing="1.2">-7</tspan></text>
<text x="704.4" y="145.2" font-size="13" text-anchor="end" letter-spacing="0.9">10<tspan font-size="9" dy="-8" letter-spacing="1.2">-8</tspan></text>
<text x="704.4" y="195.2" font-size="13" text-anchor="end" letter-spacing="0.9">10<tspan font-size="9" dy="-8" letter-spacing="1.2">-9</tspan></text>
<text x="704.4" y="245.2" font-size="13" text-anchor="end" letter-spacing="0.9">10<tspan font-size="9" dy="-8" letter-spacing="1.2">-10</tspan></text>
<text x="738.3" y="270.6" font-size="13.4" text-anchor="middle">-2</text>
<text x="793" y="270.6" font-size="13.4" text-anchor="middle">-1</text>
<text x="847.6" y="270.6" font-size="13.4" text-anchor="middle">0</text>
<text x="902.3" y="270.6" font-size="13.4" text-anchor="middle">1</text>
<text x="957" y="270.6" font-size="13.4" text-anchor="middle">2</text>
<path d="M705.2,38.6h4v4h-4zM705.2,88.6h4v4h-4zM705.2,138.6h4v4h-4zM705.2,188.6h4v4h-4zM705.2,238.6h4v4h-4zM735.9,253.9h4.8v3.6h-4.8zM790.6,253.9h4.8v3.6h-4.8zM845.2,253.9h4.8v3.6h-4.8zM899.9,253.9h4.8v3.6h-4.8zM954.6,253.9h4.8v3.6h-4.8z" fill="#000"/>
<text transform="translate(666.2,142) rotate(-90)" x="0" y="0" font-size="19.2" text-anchor="middle" textLength="98" lengthAdjust="spacingAndGlyphs">Current (A)</text>
<rect x="1046.5" y="31.6" width="273.3" height="220.8" fill="none" stroke="#000" stroke-width="4.1"/>
<text x="1039.9" y="45.2" font-size="13" text-anchor="end" letter-spacing="0.9">10<tspan font-size="9" dy="-8" letter-spacing="1.2">-6</tspan></text>
<text x="1039.9" y="95.2" font-size="13" text-anchor="end" letter-spacing="0.9">10<tspan font-size="9" dy="-8" letter-spacing="1.2">-7</tspan></text>
<text x="1039.9" y="145.2" font-size="13" text-anchor="end" letter-spacing="0.9">10<tspan font-size="9" dy="-8" letter-spacing="1.2">-8</tspan></text>
<text x="1039.9" y="195.2" font-size="13" text-anchor="end" letter-spacing="0.9">10<tspan font-size="9" dy="-8" letter-spacing="1.2">-9</tspan></text>
<text x="1039.9" y="245.2" font-size="13" text-anchor="end" letter-spacing="0.9">10<tspan font-size="9" dy="-8" letter-spacing="1.2">-10</tspan></text>
<text x="1073.8" y="270.6" font-size="13.4" text-anchor="middle">-2</text>
<text x="1128.5" y="270.6" font-size="13.4" text-anchor="middle">-1</text>
<text x="1183.2" y="270.6" font-size="13.4" text-anchor="middle">0</text>
<text x="1237.8" y="270.6" font-size="13.4" text-anchor="middle">1</text>
<text x="1292.5" y="270.6" font-size="13.4" text-anchor="middle">2</text>
<path d="M1040.7,38.6h4v4h-4zM1040.7,88.6h4v4h-4zM1040.7,138.6h4v4h-4zM1040.7,188.6h4v4h-4zM1040.7,238.6h4v4h-4zM1071.4,253.9h4.8v3.6h-4.8zM1126.1,253.9h4.8v3.6h-4.8zM1180.8,253.9h4.8v3.6h-4.8zM1235.4,253.9h4.8v3.6h-4.8zM1290.1,253.9h4.8v3.6h-4.8z" fill="#000"/>
<rect x="1382" y="31.6" width="273.3" height="220.8" fill="none" stroke="#000" stroke-width="4.1"/>
<text x="1375.4" y="45.2" font-size="13" text-anchor="end" letter-spacing="0.9">10<tspan font-size="9" dy="-8" letter-spacing="1.2">-6</tspan></text>
<text x="1375.4" y="95.2" font-size="13" text-anchor="end" letter-spacing="0.9">10<tspan font-size="9" dy="-8" letter-spacing="1.2">-7</tspan></text>
<text x="1375.4" y="145.2" font-size="13" text-anchor="end" letter-spacing="0.9">10<tspan font-size="9" dy="-8" letter-spacing="1.2">-8</tspan></text>
<text x="1375.4" y="195.2" font-size="13" text-anchor="end" letter-spacing="0.9">10<tspan font-size="9" dy="-8" letter-spacing="1.2">-9</tspan></text>
<text x="1375.4" y="245.2" font-size="13" text-anchor="end" letter-spacing="0.9">10<tspan font-size="9" dy="-8" letter-spacing="1.2">-10</tspan></text>
<text x="1409.3" y="270.6" font-size="13.4" text-anchor="middle">-2</text>
<text x="1464" y="270.6" font-size="13.4" text-anchor="middle">-1</text>
<text x="1518.7" y="270.6" font-size="13.4" text-anchor="middle">0</text>
<text x="1573.3" y="270.6" font-size="13.4" text-anchor="middle">1</text>
<text x="1628" y="270.6" font-size="13.4" text-anchor="middle">2</text>
<path d="M1376.2,38.6h4v4h-4zM1376.2,88.6h4v4h-4zM1376.2,138.6h4v4h-4zM1376.2,188.6h4v4h-4zM1376.2,238.6h4v4h-4zM1406.9,253.9h4.8v3.6h-4.8zM1461.6,253.9h4.8v3.6h-4.8zM1516.2,253.9h4.8v3.6h-4.8zM1570.9,253.9h4.8v3.6h-4.8zM1625.6,253.9h4.8v3.6h-4.8z" fill="#000"/>
<rect x="1717.5" y="31.6" width="273.3" height="220.8" fill="none" stroke="#000" stroke-width="4.1"/>
<text x="1710.9" y="45.2" font-size="13" text-anchor="end" letter-spacing="0.9">10<tspan font-size="9" dy="-8" letter-spacing="1.2">-6</tspan></text>
<text x="1710.9" y="95.2" font-size="13" text-anchor="end" letter-spacing="0.9">10<tspan font-size="9" dy="-8" letter-spacing="1.2">-7</tspan></text>
<text x="1710.9" y="145.2" font-size="13" text-anchor="end" letter-spacing="0.9">10<tspan font-size="9" dy="-8" letter-spacing="1.2">-8</tspan></text>
<text x="1710.9" y="195.2" font-size="13" text-anchor="end" letter-spacing="0.9">10<tspan font-size="9" dy="-8" letter-spacing="1.2">-9</tspan></text>
<text x="1710.9" y="245.2" font-size="13" text-anchor="end" letter-spacing="0.9">10<tspan font-size="9" dy="-8" letter-spacing="1.2">-10</tspan></text>
<text x="1744.8" y="270.6" font-size="13.4" text-anchor="middle">-2</text>
<text x="1799.5" y="270.6" font-size="13.4" text-anchor="middle">-1</text>
<text x="1854.2" y="270.6" font-size="13.4" text-anchor="middle">0</text>
<text x="1908.8" y="270.6" font-size="13.4" text-anchor="middle">1</text>
<text x="1963.5" y="270.6" font-size="13.4" text-anchor="middle">2</text>
<path d="M1711.7,38.6h4v4h-4zM1711.7,88.6h4v4h-4zM1711.7,138.6h4v4h-4zM1711.7,188.6h4v4h-4zM1711.7,238.6h4v4h-4zM1742.4,253.9h4.8v3.6h-4.8zM1797.1,253.9h4.8v3.6h-4.8zM1851.8,253.9h4.8v3.6h-4.8zM1906.4,253.9h4.8v3.6h-4.8zM1961.1,253.9h4.8v3.6h-4.8z" fill="#000"/>
<rect x="711" y="300.6" width="273.3" height="220.1" fill="none" stroke="#000" stroke-width="4.1"/>
<text x="704.4" y="314.2" font-size="13" text-anchor="end" letter-spacing="0.9">10<tspan font-size="9" dy="-8" letter-spacing="1.2">-6</tspan></text>
<text x="704.4" y="364.2" font-size="13" text-anchor="end" letter-spacing="0.9">10<tspan font-size="9" dy="-8" letter-spacing="1.2">-7</tspan></text>
<text x="704.4" y="414.2" font-size="13" text-anchor="end" letter-spacing="0.9">10<tspan font-size="9" dy="-8" letter-spacing="1.2">-8</tspan></text>
<text x="704.4" y="464.2" font-size="13" text-anchor="end" letter-spacing="0.9">10<tspan font-size="9" dy="-8" letter-spacing="1.2">-9</tspan></text>
<text x="704.4" y="514.2" font-size="13" text-anchor="end" letter-spacing="0.9">10<tspan font-size="9" dy="-8" letter-spacing="1.2">-10</tspan></text>
<text x="738.3" y="538.9" font-size="13.4" text-anchor="middle">-2</text>
<text x="793" y="538.9" font-size="13.4" text-anchor="middle">-1</text>
<text x="847.6" y="538.9" font-size="13.4" text-anchor="middle">0</text>
<text x="902.3" y="538.9" font-size="13.4" text-anchor="middle">1</text>
<text x="957" y="538.9" font-size="13.4" text-anchor="middle">2</text>
<path d="M705.2,307.6h4v4h-4zM705.2,357.6h4v4h-4zM705.2,407.6h4v4h-4zM705.2,457.6h4v4h-4zM705.2,507.6h4v4h-4zM735.9,522.2h4.8v3.6h-4.8zM790.6,522.2h4.8v3.6h-4.8zM845.2,522.2h4.8v3.6h-4.8zM899.9,522.2h4.8v3.6h-4.8zM954.6,522.2h4.8v3.6h-4.8z" fill="#000"/>
<text transform="translate(666.2,410.7) rotate(-90)" x="0" y="0" font-size="19.2" text-anchor="middle" textLength="98" lengthAdjust="spacingAndGlyphs">Current (A)</text>
<text x="847.9" y="563.7" font-size="18.7" text-anchor="middle" textLength="129.5" lengthAdjust="spacingAndGlyphs">Voltage (Volts)</text>
<rect x="1046.5" y="300.6" width="273.3" height="220.1" fill="none" stroke="#000" stroke-width="4.1"/>
<text x="1039.9" y="314.2" font-size="13" text-anchor="end" letter-spacing="0.9">10<tspan font-size="9" dy="-8" letter-spacing="1.2">-6</tspan></text>
<text x="1039.9" y="364.2" font-size="13" text-anchor="end" letter-spacing="0.9">10<tspan font-size="9" dy="-8" letter-spacing="1.2">-7</tspan></text>
<text x="1039.9" y="414.2" font-size="13" text-anchor="end" letter-spacing="0.9">10<tspan font-size="9" dy="-8" letter-spacing="1.2">-8</tspan></text>
<text x="1039.9" y="464.2" font-size="13" text-anchor="end" letter-spacing="0.9">10<tspan font-size="9" dy="-8" letter-spacing="1.2">-9</tspan></text>
<text x="1039.9" y="514.2" font-size="13" text-anchor="end" letter-spacing="0.9">10<tspan font-size="9" dy="-8" letter-spacing="1.2">-10</tspan></text>
<text x="1073.8" y="538.9" font-size="13.4" text-anchor="middle">-2</text>
<text x="1128.5" y="538.9" font-size="13.4" text-anchor="middle">-1</text>
<text x="1183.2" y="538.9" font-size="13.4" text-anchor="middle">0</text>
<text x="1237.8" y="538.9" font-size="13.4" text-anchor="middle">1</text>
<text x="1292.5" y="538.9" font-size="13.4" text-anchor="middle">2</text>
<path d="M1040.7,307.6h4v4h-4zM1040.7,357.6h4v4h-4zM1040.7,407.6h4v4h-4zM1040.7,457.6h4v4h-4zM1040.7,507.6h4v4h-4zM1071.4,522.2h4.8v3.6h-4.8zM1126.1,522.2h4.8v3.6h-4.8zM1180.8,522.2h4.8v3.6h-4.8zM1235.4,522.2h4.8v3.6h-4.8zM1290.1,522.2h4.8v3.6h-4.8z" fill="#000"/>
<text x="1183.4" y="563.7" font-size="18.7" text-anchor="middle" textLength="129.5" lengthAdjust="spacingAndGlyphs">Voltage (Volts)</text>
<rect x="1382" y="300.6" width="273.3" height="220.1" fill="none" stroke="#000" stroke-width="4.1"/>
<text x="1375.4" y="314.2" font-size="13" text-anchor="end" letter-spacing="0.9">10<tspan font-size="9" dy="-8" letter-spacing="1.2">-6</tspan></text>
<text x="1375.4" y="364.2" font-size="13" text-anchor="end" letter-spacing="0.9">10<tspan font-size="9" dy="-8" letter-spacing="1.2">-7</tspan></text>
<text x="1375.4" y="414.2" font-size="13" text-anchor="end" letter-spacing="0.9">10<tspan font-size="9" dy="-8" letter-spacing="1.2">-8</tspan></text>
<text x="1375.4" y="464.2" font-size="13" text-anchor="end" letter-spacing="0.9">10<tspan font-size="9" dy="-8" letter-spacing="1.2">-9</tspan></text>
<text x="1375.4" y="514.2" font-size="13" text-anchor="end" letter-spacing="0.9">10<tspan font-size="9" dy="-8" letter-spacing="1.2">-10</tspan></text>
<text x="1409.3" y="538.9" font-size="13.4" text-anchor="middle">-2</text>
<text x="1464" y="538.9" font-size="13.4" text-anchor="middle">-1</text>
<text x="1518.7" y="538.9" font-size="13.4" text-anchor="middle">0</text>
<text x="1573.3" y="538.9" font-size="13.4" text-anchor="middle">1</text>
<text x="1628" y="538.9" font-size="13.4" text-anchor="middle">2</text>
<path d="M1376.2,307.6h4v4h-4zM1376.2,357.6h4v4h-4zM1376.2,407.6h4v4h-4zM1376.2,457.6h4v4h-4zM1376.2,507.6h4v4h-4zM1406.9,522.2h4.8v3.6h-4.8zM1461.6,522.2h4.8v3.6h-4.8zM1516.2,522.2h4.8v3.6h-4.8zM1570.9,522.2h4.8v3.6h-4.8zM1625.6,522.2h4.8v3.6h-4.8z" fill="#000"/>
<text x="1518.9" y="563.7" font-size="18.7" text-anchor="middle" textLength="129.5" lengthAdjust="spacingAndGlyphs">Voltage (Volts)</text>
<rect x="1717.5" y="300.6" width="273.3" height="220.1" fill="none" stroke="#000" stroke-width="4.1"/>
<text x="1710.9" y="314.2" font-size="13" text-anchor="end" letter-spacing="0.9">10<tspan font-size="9" dy="-8" letter-spacing="1.2">-6</tspan></text>
<text x="1710.9" y="364.2" font-size="13" text-anchor="end" letter-spacing="0.9">10<tspan font-size="9" dy="-8" letter-spacing="1.2">-7</tspan></text>
<text x="1710.9" y="414.2" font-size="13" text-anchor="end" letter-spacing="0.9">10<tspan font-size="9" dy="-8" letter-spacing="1.2">-8</tspan></text>
<text x="1710.9" y="464.2" font-size="13" text-anchor="end" letter-spacing="0.9">10<tspan font-size="9" dy="-8" letter-spacing="1.2">-9</tspan></text>
<text x="1710.9" y="514.2" font-size="13" text-anchor="end" letter-spacing="0.9">10<tspan font-size="9" dy="-8" letter-spacing="1.2">-10</tspan></text>
<text x="1744.8" y="538.9" font-size="13.4" text-anchor="middle">-2</text>
<text x="1799.5" y="538.9" font-size="13.4" text-anchor="middle">-1</text>
<text x="1854.2" y="538.9" font-size="13.4" text-anchor="middle">0</text>
<text x="1908.8" y="538.9" font-size="13.4" text-anchor="middle">1</text>
<text x="1963.5" y="538.9" font-size="13.4" text-anchor="middle">2</text>
<path d="M1711.7,307.6h4v4h-4zM1711.7,357.6h4v4h-4zM1711.7,407.6h4v4h-4zM1711.7,457.6h4v4h-4zM1711.7,507.6h4v4h-4zM1742.4,522.2h4.8v3.6h-4.8zM1797.1,522.2h4.8v3.6h-4.8zM1851.8,522.2h4.8v3.6h-4.8zM1906.4,522.2h4.8v3.6h-4.8zM1961.1,522.2h4.8v3.6h-4.8z" fill="#000"/>
<text x="1854.4" y="563.7" font-size="18.7" text-anchor="middle" textLength="129.5" lengthAdjust="spacingAndGlyphs">Voltage (Volts)</text>
</g>
<g>
<g font-family='"Liberation Sans", Arial, sans-serif'>
<path d="M111,378.7L88.9,130.3M124.6,372L104.3,124.9M138,365.4L119.4,119.5M151.2,358.8L134.2,114.3M164.2,352.4L148.8,109.1M177,346L163.2,104M189.6,339.8L177.3,99M202,333.6L191.2,94.1M214.3,327.6L204.9,89.3M226.3,321.6L218.4,84.5M238.3,315.7L231.7,79.8M250,309.9L244.7,75.2M261.6,304.1L257.6,70.6M273,298.5L270.3,66.2M284.3,292.9L282.7,61.8M295.4,287.4L295,57.4M94.1,352.2L295.3,256.3M295.3,256.3L490.4,358M90.8,317.8L295.3,224.4M295.3,224.4L493.6,323.3M87.3,282.3L295.2,191.5M295.2,191.5L496.8,287.3M83.8,245.5L295.2,157.7M295.2,157.7L500.2,250.2M80.2,207.6L295.1,122.8M295.1,122.8L503.6,211.7M76.4,168.3L295.1,86.9M295.1,86.9L507.2,171.9M312.5,296.7L313.9,64.6M330,306.2L333.4,72M347.9,315.9L353.3,79.5M366.4,325.9L373.8,87.3M385.2,336.2L394.9,95.3M404.6,346.7L416.7,103.6M424.5,357.5L439,112.1M444.9,368.6L462,120.8M465.9,380L485.8,129.8M487.4,391.7L510.2,139.1M97.3,385.6L285.5,520M111,378.7L299.8,510.9M124.6,372L313.8,502M138,365.4L327.6,493.2M151.2,358.8L341.1,484.6M164.2,352.4L354.5,476.2M177,346L367.6,467.8M189.6,339.8L380.4,459.7M202,333.6L393.1,451.6M214.3,327.6L405.6,443.7M226.3,321.6L417.8,435.9M238.3,315.7L429.9,428.2M250,309.9L441.8,420.7M261.6,304.1L453.4,413.3M273,298.5L464.9,406M284.3,292.9L476.3,398.8M295.4,287.4L487.4,391.7M113.8,397.3L312.5,296.7M130.7,409.5L330,306.2M148.2,421.9L347.9,315.9M166.1,434.7L366.4,325.9M184.6,447.9L385.2,336.2M203.6,461.5L404.6,346.7M223.1,475.4L424.5,357.5M243.3,489.8L444.9,368.6M264.1,504.7L465.9,380M285.5,520L487.4,391.7" stroke="#D8D8D8" stroke-width="1" fill="none"/><path d="M73.3,135.8L295,57.4M295,57.4L510.2,139.1M510.2,139.1L487.4,391.7M295.4,287.4L295,57.4M97.3,385.6L295.4,287.4M295.4,287.4L487.4,391.7" stroke="#8A8A8A" stroke-width="1" fill="none"/>
<path d="M315.6,68.9 318.9,70.8 322.1,72.7 325.3,74.6 328.4,76.5 331.5,78.4 334.5,80.3 337.4,82.2 340.3,84.1 343.2,86 345.9,87.9 348.6,89.8 351.2,91.7 353.8,93.7 343.5,97.7 340.9,95.7 338.3,93.8 335.6,91.9 332.8,89.9 330,88 327.1,86.1 324.2,84.2 321.2,82.3 318.1,80.3 315,78.4 311.8,76.5 308.6,74.6 305.3,72.7ZM353.8,93.7 356.3,95.6 358.7,97.5 361,99.5 363.3,101.5 365.5,103.5 367.6,105.5 369.7,107.6 371.6,109.7 373.5,111.8 375.3,114 377,116.2 378.7,118.5 380.2,120.8 369.9,125.1 368.4,122.7 366.8,120.4 365.1,118.2 363.3,116 361.4,113.8 359.4,111.7 357.4,109.6 355.2,107.6 353,105.6 350.8,103.6 348.4,101.6 346,99.6 343.5,97.7ZM380.2,120.8 381.6,123.3 383,125.8 384.2,128.5 385.4,131.3 386.4,134.4 387.4,137.6 388.2,141.1 388.9,145 389.5,149.3 389.9,154.2 390.2,159.9 390.4,166.3 390.4,173 380.3,177.6 380.3,170.8 380.1,164.4 379.8,158.7 379.3,153.8 378.7,149.4 378,145.5 377.2,142 376.2,138.7 375.2,135.7 374,132.8 372.7,130.1 371.4,127.6 369.9,125.1ZM390.4,173 390.3,176.9 380.3,181.5 380.3,177.6ZM380.3,181.5 380.5,177.6 381,171.1 381.6,165 382.3,159.8 383.1,155.4 384,151.6 385,148.4 386.1,145.7 387.2,143.3 388.5,141.2 398.7,136.8 397.4,138.9 396.3,141.2 395.2,144 394.2,147.2 393.3,150.9 392.5,155.3 391.7,160.5 391.1,166.6 390.6,173.1 390.3,176.9ZM388.5,141.2 389.8,139.3 391.3,137.7 392.8,136.3 394.5,135 396.2,134 398,133 399.9,132.2 410.2,127.8 408.3,128.6 406.4,129.6 404.7,130.7 403.1,131.9 401.5,133.3 400.1,134.9 398.7,136.8ZM410.2,127.8 412.2,127.1 414.3,126.5 416.5,126 418.7,125.6 421.1,125.3 423.6,125.1 426.1,125 428.8,124.9 431.5,124.9 434.4,125 437.3,125.2 440.4,125.4 443.5,125.7 433.2,130.2 430,129.9 427,129.7 424.1,129.5 421.2,129.4 418.5,129.4 415.8,129.4 413.3,129.5 410.8,129.7 408.4,130 406.2,130.4 404,130.9 401.9,131.5 399.9,132.2ZM443.5,125.7 446.7,126 450,126.5 453.5,126.9 457,127.5 460.6,128.1 464.3,128.7 468.2,129.4 472.1,130.2 476.1,131 480.2,131.9 469.9,136.5 465.8,135.6 461.7,134.8 457.8,134 454,133.3 450.3,132.6 446.7,132 443.1,131.5 439.7,131 436.4,130.6 433.2,130.2Z" fill="#FF0080" stroke="#FF0080" stroke-width="0.6" stroke-linejoin="round"/>
<path d="M308.7,76.9 311.8,78.8 314.8,80.7 317.8,82.6 320.7,84.5 323.6,86.4 326.4,88.2 329.1,90.1 331.8,92 334.4,93.9 337,95.8 339.5,97.7 342,99.7 344.3,101.6 333.9,105.7 331.5,103.8 329.1,101.8 326.5,99.9 324,98 321.3,96 318.7,94.1 315.9,92.2 313.1,90.3 310.2,88.4 307.3,86.5 304.4,84.6 301.3,82.7 298.3,80.8ZM344.3,101.6 346.7,103.6 348.9,105.5 351.1,107.5 353.2,109.5 355.2,111.5 357.2,113.6 359.1,115.7 360.9,117.8 362.7,120 364.4,122.2 365.9,124.5 367.4,126.9 368.9,129.3 358.5,133.6 357,131.2 355.5,128.8 353.9,126.5 352.3,124.3 350.5,122.1 348.7,119.9 346.8,117.8 344.8,115.7 342.8,113.7 340.6,111.7 338.5,109.7 336.2,107.7 333.9,105.7ZM368.9,129.3 370.2,131.8 371.5,134.5 372.6,137.3 373.7,140.2 374.7,143.3 375.5,146.7 376.3,150.4 376.9,154.5 377.5,159 377.9,164.2 378.2,170.1 378.3,176.8 378.3,183.8 368.1,188.4 368.1,181.4 367.9,174.7 367.6,168.7 367.2,163.5 366.6,159 366,154.9 365.2,151.2 364.3,147.8 363.3,144.6 362.2,141.6 361.1,138.8 359.8,136.2 358.5,133.6ZM378.3,183.8 378.3,187.8 368.1,192.5 368.1,188.4ZM368.1,192.5 368.3,188.5 368.8,181.7 369.3,175.3 370,169.7 370.7,165.1 371.5,161.1 372.4,157.6 373.4,154.7 374.5,152.1 375.7,149.8 376.9,147.8 387.3,143.3 386,145.3 384.9,147.6 383.8,150.2 382.8,153.1 381.8,156.5 381,160.5 380.2,165.2 379.6,170.7 379,177.1 378.5,183.8 378.3,187.8ZM376.9,147.8 378.2,146 379.7,144.4 381.2,143.1 382.8,141.8 384.4,140.7 386.2,139.8 388.1,139 398.5,134.5 396.6,135.3 394.9,136.3 393.2,137.4 391.6,138.6 390.1,140 388.6,141.5 387.3,143.3ZM398.5,134.5 400.4,133.8 402.5,133.1 404.6,132.6 406.8,132.2 409,131.9 411.4,131.6 413.9,131.4 416.4,131.3 419,131.3 421.8,131.3 424.6,131.4 427.4,131.6 430.4,131.8 419.9,136.4 417,136.1 414.1,136 411.3,135.9 408.6,135.8 405.9,135.8 403.4,135.9 400.9,136.1 398.6,136.4 396.3,136.7 394.1,137.1 392,137.6 390,138.2 388.1,139ZM430.4,131.8 433.5,132.1 436.6,132.4 439.9,132.8 443.2,133.3 446.7,133.8 450.2,134.4 453.8,135 457.5,135.7 461.3,136.4 450.8,141.1 447,140.4 443.3,139.7 439.7,139 436.2,138.5 432.7,137.9 429.4,137.5 426.1,137 423,136.7 419.9,136.4Z" fill="#8000FF" stroke="#8000FF" stroke-width="0.6" stroke-linejoin="round"/>
<path d="M303.3,85.8 306.1,87.6 308.9,89.5 311.6,91.4 314.3,93.2 316.9,95.1 319.5,97 322,98.8 324.5,100.7 326.9,102.6 329.3,104.5 331.6,106.5 333.8,108.4 336,110.3 325.4,114.6 323.2,112.6 321,110.6 318.7,108.7 316.3,106.8 313.9,104.9 311.4,103 308.9,101 306.3,99.2 303.7,97.3 301,95.4 298.3,93.5 295.5,91.6 292.6,89.7ZM336,110.3 338.2,112.3 340.2,114.3 342.2,116.3 344.2,118.3 346,120.4 347.8,122.5 349.6,124.6 351.2,126.8 352.8,129 354.4,131.3 355.8,133.7 357.2,136.1 358.5,138.6 348,143.1 346.6,140.5 345.3,138.1 343.8,135.7 342.3,133.4 340.7,131.1 339,128.9 337.2,126.8 335.4,124.7 333.6,122.6 331.6,120.6 329.6,118.5 327.5,116.5 325.4,114.6ZM358.5,138.6 359.7,141.3 360.9,144 361.9,146.9 362.9,150 363.8,153.3 364.6,156.8 365.3,160.7 365.9,165 366.4,169.8 366.7,175.2 367,181.5 367.1,188.5 367.1,195.8 356.8,200.5 356.8,193.3 356.6,186.2 356.3,179.9 355.9,174.4 355.4,169.6 354.8,165.3 354.1,161.4 353.3,157.8 352.4,154.5 351.4,151.4 350.3,148.5 349.2,145.7 348,143.1ZM367.1,195.8 367.1,200 356.8,204.7 356.8,200.5ZM356.8,204.7 357,200.6 357.4,193.5 357.9,186.7 358.5,180.9 359.1,175.8 359.9,171.6 360.7,167.9 361.6,164.7 362.6,161.8 363.7,159.4 374.2,154.8 373.1,157.3 372.1,160.1 371.2,163.3 370.3,167 369.6,171.2 368.9,176.2 368.3,182 367.7,188.8 367.3,195.9 367.1,200ZM363.7,159.4 364.8,157.1 366,155.2 367.3,153.4 368.7,151.9 370.1,150.5 371.7,149.2 373.3,148.1 375,147.1 376.7,146.2 387.3,141.7 385.6,142.6 383.9,143.5 382.2,144.7 380.7,145.9 379.2,147.3 377.9,148.9 376.6,150.6 375.3,152.6 374.2,154.8ZM387.3,141.7 389.2,140.9 391.1,140.3 393.1,139.7 395.2,139.2 397.3,138.8 399.6,138.5 401.9,138.2 404.3,138 406.8,137.9 409.3,137.9 411.9,137.9 414.7,138 417.4,138.1 406.8,142.8 404,142.6 401.3,142.5 398.7,142.5 396.1,142.5 393.6,142.6 391.3,142.8 388.9,143 386.7,143.4 384.6,143.8 382.5,144.2 380.5,144.8 378.6,145.5 376.7,146.2ZM417.4,138.1 420.3,138.3 423.3,138.6 426.3,138.9 429.4,139.2 432.6,139.6 435.9,140.1 439.3,140.6 442.7,141.2 432,146 428.6,145.4 425.2,144.8 421.9,144.4 418.7,143.9 415.6,143.6 412.6,143.2 409.6,143 406.8,142.8Z" fill="#FF8000" stroke="#FF8000" stroke-width="0.6" stroke-linejoin="round"/>
<path d="M297.3,94.6 299.9,96.4 302.4,98.2 304.8,100 307.3,101.8 309.6,103.5 312,105.3 314.2,107.1 316.5,108.9 318.7,110.8 320.8,112.6 322.9,114.4 324.9,116.3 326.8,118.2 316.1,122.5 314.1,120.6 312.1,118.7 310,116.8 307.9,115 305.7,113.2 303.4,111.3 301.2,109.5 298.8,107.7 296.5,105.9 294,104.1 291.6,102.3 289.1,100.5 286.5,98.7ZM326.8,118.2 328.8,120.1 330.6,122 332.4,123.9 334.2,125.9 335.9,127.9 337.5,129.9 339,132 340.5,134.1 342,136.3 343.4,138.5 344.7,140.8 345.9,143.2 347.1,145.6 336.4,150.2 335.2,147.7 333.9,145.3 332.6,143 331.2,140.7 329.8,138.5 328.3,136.4 326.7,134.3 325.1,132.3 323.4,130.2 321.7,128.3 319.8,126.3 318,124.4 316.1,122.5ZM347.1,145.6 348.2,148.2 349.2,150.9 350.2,153.8 351,156.8 351.8,160.1 352.6,163.6 353.2,167.4 353.7,171.6 354.2,176.4 354.5,181.8 354.8,187.9 354.9,194.9 354.9,201.9 344.5,206.7 344.4,199.6 344.2,192.7 344,186.5 343.6,181.1 343.1,176.3 342.6,172.1 341.9,168.2 341.2,164.7 340.4,161.4 339.5,158.3 338.5,155.5 337.5,152.7 336.4,150.2ZM354.9,201.9 354.9,206 344.4,210.8 344.5,206.7ZM344.4,210.8 344.6,206.8 344.9,199.9 345.4,193.2 345.9,187.4 346.5,182.4 347.1,178.1 347.9,174.4 348.7,171.2 349.5,168.3 350.5,165.8 351.5,163.6 362.2,159 361.1,161.2 360.2,163.7 359.3,166.5 358.5,169.7 357.7,173.4 357.1,177.7 356.5,182.6 355.9,188.4 355.5,195.1 355.1,202 354.9,206ZM351.5,163.6 352.6,161.6 353.7,159.8 354.9,158.2 356.2,156.7 357.6,155.4 359,154.3 360.5,153.2 362.1,152.3 363.7,151.5 374.5,146.9 372.9,147.7 371.3,148.6 369.8,149.7 368.3,150.8 367,152.1 365.7,153.6 364.4,155.2 363.3,157 362.2,159ZM374.5,146.9 376.2,146.1 378,145.5 379.9,144.9 381.8,144.4 383.8,144 385.8,143.7 388,143.5 390.2,143.3 392.5,143.1 394.8,143 397.2,143 399.7,143.1 402.2,143.2 391.4,147.9 388.9,147.8 386.4,147.7 384,147.7 381.6,147.8 379.4,147.9 377.2,148.1 375,148.4 373,148.7 371,149.1 369.1,149.6 367.2,150.1 365.4,150.8 363.7,151.5ZM402.2,143.2 404.9,143.3 407.6,143.5 410.3,143.8 413.2,144.1 416.1,144.4 419.1,144.8 422.1,145.3 411.3,150.1 408.2,149.6 405.2,149.2 402.3,148.8 399.5,148.5 396.7,148.3 394,148.1 391.4,147.9Z" fill="#0000A8" stroke="#0000A8" stroke-width="0.6" stroke-linejoin="round"/>
<path d="M290.4,103 292.7,104.7 295,106.4 297.2,108.1 299.4,109.8 301.6,111.5 303.7,113.3 305.7,115 307.7,116.7 309.7,118.5 311.6,120.2 313.5,122 315.3,123.8 317.1,125.6 306.1,130 304.4,128.2 302.5,126.4 300.7,124.6 298.7,122.8 296.8,121 294.7,119.3 292.7,117.5 290.6,115.8 288.4,114.1 286.2,112.4 284,110.6 281.7,108.9 279.4,107.2ZM317.1,125.6 318.8,127.4 320.5,129.3 322.1,131.1 323.7,133.1 325.2,135 326.7,137 328.1,139 329.4,141 330.7,143.2 332,145.3 333.2,147.6 334.3,149.9 335.3,152.3 324.5,156.9 323.4,154.5 322.3,152.1 321.1,149.9 319.8,147.7 318.5,145.6 317.2,143.5 315.8,141.5 314.3,139.5 312.8,137.5 311.2,135.6 309.6,133.7 307.9,131.8 306.1,130ZM335.3,152.3 336.3,154.9 337.3,157.5 338.1,160.3 338.9,163.3 339.7,166.5 340.3,170 340.9,173.8 341.4,178 341.8,182.7 342.1,188 342.4,194.1 342.5,200.9 342.6,207.8 331.9,212.7 331.8,205.8 331.7,198.9 331.4,192.8 331.1,187.5 330.6,182.8 330.1,178.5 329.5,174.7 328.8,171.2 328.1,168 327.3,165 326.4,162.2 325.5,159.5 324.5,156.9ZM342.6,207.8 342.6,211.7 331.9,216.6 331.9,212.7ZM331.9,216.6 332.1,212.7 332.3,206 332.7,199.4 333.1,193.6 333.6,188.7 334.2,184.4 334.8,180.7 335.5,177.5 336.3,174.6 337.1,172.1 338,169.8 348.9,165.1 348,167.3 347.1,169.9 346.4,172.7 345.6,175.9 345,179.6 344.4,183.9 343.9,188.8 343.4,194.5 343,201.1 342.7,207.8 342.6,211.7ZM338,169.8 339,167.8 340,165.9 341.1,164.3 342.3,162.8 343.5,161.5 344.8,160.2 346.1,159.2 347.5,158.2 349,157.3 350.5,156.5 352.1,155.8 363,151.1 361.5,151.8 359.9,152.6 358.4,153.5 357,154.5 355.7,155.5 354.4,156.8 353.2,158.1 352,159.6 350.9,161.2 349.9,163 348.9,165.1ZM363,151.1 364.7,150.5 366.4,149.9 368.2,149.5 370,149.1 371.9,148.7 373.9,148.5 375.9,148.2 378,148.1 380.2,148 382.4,147.9 384.7,147.9 387,148 389.4,148.1 378.4,152.9 376,152.8 373.6,152.7 371.4,152.7 369.2,152.7 367,152.8 364.9,153 362.9,153.2 361,153.5 359.1,153.8 357.2,154.2 355.4,154.6 353.7,155.2 352.1,155.8ZM389.4,148.1 391.9,148.3 394.4,148.5 397,148.7 399.6,149 402.4,149.3 391.3,154.2 388.6,153.9 385.9,153.5 383.4,153.3 380.8,153.1 378.4,152.9Z" fill="#008080" stroke="#008080" stroke-width="0.6" stroke-linejoin="round"/>
<path d="M283,111.1 285.2,112.7 287.3,114.4 289.3,116 291.3,117.7 293.3,119.4 295.2,121 297.1,122.7 298.9,124.4 300.7,126.1 302.5,127.8 304.2,129.5 305.9,131.3 307.5,133.1 296.4,137.5 294.8,135.8 293.1,134 291.4,132.3 289.6,130.5 287.8,128.8 285.9,127.1 284.1,125.4 282.1,123.7 280.2,122 278.1,120.4 276.1,118.7 274,117.1 271.9,115.4ZM307.5,133.1 309.1,134.8 310.6,136.6 312.1,138.5 313.6,140.4 315,142.3 316.3,144.2 317.6,146.2 318.8,148.2 320,150.3 321.2,152.5 322.3,154.7 323.3,157 324.3,159.4 313.2,164.1 312.2,161.7 311.2,159.4 310.1,157.1 308.9,154.9 307.7,152.8 306.5,150.8 305.2,148.8 303.9,146.8 302.5,144.9 301,143 299.5,141.2 298,139.3 296.4,137.5ZM324.3,159.4 325.2,161.9 326,164.6 326.8,167.4 327.6,170.4 328.2,173.6 328.8,177 329.4,180.8 329.8,185 330.2,189.7 330.6,195 330.8,201.1 330.9,207.8 331,214.6 320.2,219.5 320.1,212.8 319.9,206 319.6,199.9 319.3,194.6 318.9,189.9 318.4,185.7 317.8,181.8 317.2,178.4 316.5,175.1 315.8,172.1 315,169.3 314.1,166.6 313.2,164.1ZM331,214.6 331,218.3 320.2,223.3 320.2,219.5ZM320.2,223.3 320.3,219.6 320.5,213 320.8,206.4 321.2,200.6 321.7,195.7 322.2,191.4 322.7,187.7 323.4,184.4 324,181.5 324.8,178.9 325.6,176.6 336.6,171.8 335.8,174.1 335,176.7 334.3,179.5 333.7,182.8 333.1,186.5 332.6,190.8 332.1,195.7 331.7,201.5 331.4,208 331.1,214.6 331,218.3ZM325.6,176.6 326.5,174.5 327.4,172.6 328.4,170.9 329.4,169.4 330.5,168 331.7,166.7 332.9,165.6 334.2,164.5 335.5,163.6 336.9,162.8 338.3,162 339.8,161.3 350.9,156.5 349.4,157.2 348,158 346.6,158.8 345.3,159.8 344,160.8 342.8,162 341.6,163.2 340.5,164.6 339.4,166.1 338.4,167.8 337.5,169.7 336.6,171.8ZM350.9,156.5 352.5,155.9 354.1,155.4 355.8,154.9 357.5,154.5 359.3,154.2 361.1,153.9 363,153.7 365,153.5 367,153.4 369,153.3 371.1,153.3 373.3,153.3 375.6,153.4 364.3,158.3 362.1,158.2 359.9,158.1 357.8,158.2 355.8,158.2 353.8,158.3 351.8,158.5 349.9,158.7 348.1,159 346.3,159.3 344.6,159.7 343,160.2 341.3,160.7 339.8,161.3ZM375.6,153.4 377.8,153.5 380.2,153.7 382.6,153.9 385.1,154.1 373.8,159 371.4,158.8 369,158.6 366.6,158.4 364.3,158.3Z" fill="#008000" stroke="#008000" stroke-width="0.6" stroke-linejoin="round"/>
<path d="M275,119.2 277,120.8 278.9,122.4 280.8,124.1 282.6,125.7 284.4,127.4 286.2,129.1 287.9,130.8 289.6,132.5 291.3,134.2 292.9,136 294.5,137.7 296,139.5 297.5,141.3 286.2,145.9 284.7,144.1 283.1,142.3 281.6,140.5 279.9,138.7 278.3,137 276.6,135.3 274.9,133.6 273.1,131.9 271.3,130.2 269.4,128.5 267.5,126.9 265.6,125.2 263.7,123.5ZM297.5,141.3 298.9,143.1 300.4,145 301.7,146.8 303,148.8 304.3,150.7 305.6,152.7 306.7,154.8 307.9,156.9 309,159 310,161.3 311,163.6 312,166 312.9,168.5 301.6,173.3 300.7,170.8 299.8,168.4 298.8,166 297.7,163.8 296.6,161.6 295.5,159.5 294.3,157.4 293,155.4 291.8,153.4 290.4,151.5 289.1,149.6 287.6,147.7 286.2,145.9ZM312.9,168.5 313.7,171.2 314.5,173.9 315.2,176.9 315.9,180 316.5,183.4 317.1,187.1 317.6,191.1 318,195.5 318.4,200.4 318.7,206 319,212.4 319.1,219.4 319.2,226.4 308.2,231.5 308.1,224.5 307.9,217.4 307.7,211 307.3,205.4 306.9,200.4 306.5,196 305.9,192 305.4,188.3 304.7,184.9 304,181.7 303.3,178.8 302.5,176 301.6,173.3ZM319.2,226.4 319.2,230.3 308.3,235.4 308.2,231.5ZM308.3,235.4 308.3,231.6 308.5,224.7 308.8,217.8 309.1,211.7 309.5,206.5 309.9,201.9 310.4,197.9 311,194.3 311.6,191.2 322.8,186.3 322.1,189.4 321.5,192.9 321,196.9 320.6,201.5 320.2,206.7 319.8,212.8 319.5,219.6 319.3,226.5 319.2,230.3ZM311.6,191.2 312.3,188.4 313,185.9 313.8,183.6 314.6,181.6 315.5,179.7 316.4,178 317.4,176.4 318.5,175 319.6,173.7 320.7,172.5 321.9,171.4 323.2,170.4 324.5,169.5 335.8,164.7 334.5,165.6 333.2,166.5 332,167.6 330.8,168.8 329.7,170.1 328.7,171.5 327.7,173.1 326.7,174.8 325.8,176.7 325,178.7 324.2,181 323.4,183.5 322.8,186.3ZM324.5,169.5 325.8,168.7 327.2,168 328.7,167.3 340,162.4 338.6,163.1 337.2,163.8 335.8,164.7ZM340,162.4 341.6,161.8 343.1,161.3 344.7,160.8 346.4,160.4 348.1,160.1 349.9,159.7 351.7,159.5 353.6,159.3 355.5,159.1 357.5,159 359.5,159 361.6,159 363.7,159 352.3,164 350.2,163.9 348.1,163.9 346.1,164 344.1,164.1 342.2,164.2 340.3,164.4 338.5,164.7 336.8,165 335,165.3 333.4,165.7 331.8,166.2 330.2,166.7 328.7,167.3ZM363.7,159 365.9,159.1 368.1,159.2 356.7,164.2 354.5,164.1 352.3,164Z" fill="#800000" stroke="#800000" stroke-width="0.6" stroke-linejoin="round"/>
<path d="M266,128.2 267.8,129.8 269.6,131.5 271.3,133.1 273.1,134.7 274.7,136.4 276.4,138 278,139.7 279.6,141.4 281.1,143.1 282.6,144.8 284.1,146.6 285.5,148.3 286.9,150.1 275.4,154.8 274,153 272.6,151.2 271.1,149.5 269.6,147.7 268.1,146 266.5,144.3 264.9,142.6 263.2,140.9 261.5,139.3 259.8,137.6 258.1,136 256.3,134.4 254.5,132.7ZM286.9,150.1 288.2,151.9 289.5,153.8 290.8,155.7 292,157.6 293.2,159.5 294.4,161.5 295.5,163.6 296.5,165.7 297.5,167.9 298.5,170.1 299.4,172.5 300.3,174.9 301.2,177.4 289.8,182.3 288.9,179.8 288,177.3 287.1,175 286.1,172.7 285.1,170.5 284,168.4 282.9,166.3 281.7,164.3 280.6,162.3 279.3,160.4 278,158.5 276.7,156.6 275.4,154.8ZM301.2,177.4 301.9,180.1 302.7,182.9 303.4,185.9 304,189.1 304.6,192.5 305.1,196.2 305.6,200.2 306.1,204.7 306.4,209.7 306.7,215.4 307,221.8 307.1,228.8 307.3,235.7 296.1,240.9 296,234 295.8,226.9 295.5,220.5 295.2,214.8 294.8,209.8 294.3,205.3 293.8,201.2 293.3,197.5 292.7,194 292,190.8 291.3,187.8 290.6,185 289.8,182.3ZM307.3,235.7 307.3,239.5 296.2,244.7 296.1,240.9ZM296.2,244.7 296.2,241 296.4,234.2 296.5,227.3 296.8,221.1 297.1,215.8 297.5,211.1 298,207 298.4,203.4 309.8,198.4 309.3,202 308.8,206 308.4,210.7 308,216 307.8,222.1 307.5,229 307.4,235.7 307.3,239.5ZM298.4,203.4 299,200.2 299.6,197.3 300.3,194.7 301,192.4 301.7,190.3 302.5,188.3 303.4,186.6 304.3,184.9 305.2,183.4 306.2,182.1 307.3,180.8 308.4,179.7 309.5,178.6 321,173.6 319.9,174.7 318.8,175.8 317.7,177.1 316.7,178.5 315.7,180 314.8,181.6 313.9,183.3 313.1,185.3 312.4,187.4 311.6,189.7 311,192.3 310.3,195.2 309.8,198.4ZM309.5,178.6 310.7,177.6 312,176.8 313.3,176 314.6,175.2 316,174.6 327.5,169.6 326.1,170.3 324.8,171 323.5,171.8 322.2,172.7 321,173.6ZM327.5,169.6 329,169 330.4,168.4 332,168 333.5,167.5 335.2,167.2 336.8,166.9 338.6,166.6 340.3,166.4 342.1,166.2 344,166.1 345.9,166 347.9,165.9 349.9,165.9 338.2,171 336.3,171 334.3,171 332.4,171.1 330.6,171.2 328.7,171.4 327,171.6 325.3,171.9 323.6,172.2 322,172.5 320.4,173 318.9,173.4 317.4,174 316,174.6ZM349.9,165.9 351.9,166 340.3,171 338.2,171Z" fill="#800080" stroke="#800080" stroke-width="0.6" stroke-linejoin="round"/>
<path d="M256.9,135.2 258.6,136.8 260.3,138.4 261.9,140 263.5,141.7 265.1,143.3 266.7,145 268.2,146.6 269.7,148.3 271.2,150.1 272.6,151.8 274,153.5 275.3,155.3 276.6,157.1 264.9,161.9 263.6,160.1 262.3,158.3 260.9,156.5 259.4,154.8 258,153.1 256.5,151.4 255,149.7 253.4,148 251.8,146.3 250.2,144.7 248.6,143 246.9,141.4 245.2,139.8ZM276.6,157.1 277.9,159 279.1,160.8 280.3,162.7 281.5,164.7 282.6,166.7 283.7,168.7 284.7,170.8 285.7,172.9 286.7,175.1 287.6,177.4 288.5,179.8 289.4,182.3 290.1,184.9 278.6,189.9 277.7,187.3 276.9,184.8 276,182.4 275.1,180.1 274.1,177.8 273.1,175.7 272,173.6 270.9,171.5 269.8,169.5 268.6,167.6 267.4,165.7 266.2,163.8 264.9,161.9ZM290.1,184.9 290.9,187.6 291.6,190.5 292.3,193.5 292.9,196.8 293.5,200.3 294,204.1 294.4,208.2 294.9,212.8 295.2,217.9 295.5,223.7 295.8,230.2 296,237.2 296.1,244.1 284.8,249.4 284.7,242.5 284.4,235.4 284.1,228.9 283.8,223.1 283.4,218 283,213.4 282.5,209.2 281.9,205.4 281.3,201.8 280.7,198.6 280,195.5 279.3,192.6 278.6,189.9ZM296.1,244.1 296.2,247.8 284.9,253.1 284.8,249.4ZM284.9,253.1 284.9,249.5 285,242.7 285.2,235.8 285.4,229.5 285.6,224 286,219.3 286.4,215.1 286.8,211.3 287.3,208 287.9,205 288.5,202.3 289.1,199.9 289.8,197.7 301.4,192.6 300.7,194.8 300,197.2 299.4,199.9 298.8,202.9 298.3,206.2 297.9,209.9 297.4,214.1 297.1,218.8 296.8,224.3 296.5,230.5 296.4,237.4 296.2,244.1 296.2,247.8ZM289.8,197.7 290.5,195.6 291.3,193.8 292.2,192.1 293.1,190.5 294,189 295,187.7 296,186.5 297.1,185.3 298.2,184.3 299.3,183.3 300.5,182.5 301.8,181.7 303.1,180.9 314.8,175.9 313.5,176.6 312.3,177.4 311,178.3 309.9,179.2 308.8,180.3 307.7,181.4 306.6,182.6 305.7,184 304.7,185.4 303.8,187 303,188.7 302.2,190.5 301.4,192.6ZM303.1,180.9 304.4,180.3 305.8,179.7 317.5,174.6 316.2,175.2 314.8,175.9ZM317.5,174.6 319,174 320.4,173.5 322,173.1 323.5,172.7 325.1,172.4 326.8,172.1 328.5,171.8 330.2,171.6 332,171.5 333.8,171.4 335.7,171.3 337.6,171.3 325.8,176.4 323.9,176.4 322,176.5 320.2,176.6 318.4,176.8 316.7,176.9 315,177.2 313.4,177.5 311.8,177.8 310.2,178.2 308.7,178.6 307.2,179.1 305.8,179.7Z" fill="#000080" stroke="#000080" stroke-width="0.6" stroke-linejoin="round"/>
<path d="M247.9,146.8 249.4,148.3 251,149.9 252.5,151.5 253.9,153.1 255.4,154.7 256.8,156.3 258.2,158 259.5,159.6 260.8,161.3 262.1,163 263.4,164.7 264.6,166.4 265.8,168.2 253.9,173.1 252.7,171.3 251.5,169.6 250.2,167.9 248.9,166.1 247.6,164.5 246.3,162.8 244.9,161.1 243.5,159.5 242,157.9 240.6,156.3 239.1,154.7 237.5,153.1 236,151.5ZM265.8,168.2 266.9,170 268.1,171.8 269.2,173.7 270.2,175.6 271.2,177.6 272.2,179.6 273.2,181.6 274.1,183.8 275,186 275.8,188.2 276.6,190.6 277.4,193 278.1,195.6 266.3,200.7 265.6,198.1 264.8,195.7 264,193.3 263.2,191 262.3,188.8 261.3,186.7 260.4,184.6 259.4,182.6 258.4,180.6 257.3,178.7 256.2,176.8 255.1,174.9 253.9,173.1ZM278.1,195.6 278.8,198.3 279.5,201.2 280.1,204.2 280.6,207.5 281.2,211 281.7,214.7 282.1,218.9 282.5,223.4 282.9,228.5 271.2,233.8 270.9,228.7 270.4,224.1 270,220 269.5,216.2 268.9,212.7 268.3,209.4 267.7,206.3 267,203.5 266.3,200.7ZM282.9,228.5 283.2,234.2 283.4,240.6 283.7,247.5 283.8,254.1 283.9,257.6 272.4,263.1 272.3,259.5 272.1,252.9 271.9,245.9 271.6,239.5 271.2,233.8ZM272.4,263.1 272.4,259.6 272.5,253.1 272.5,246.3 272.7,240.1 272.9,234.7 273.2,229.9 273.5,225.7 273.9,221.9 274.3,218.6 274.8,215.6 275.3,212.9 275.9,210.4 276.5,208.1 288.2,202.9 287.6,205.2 287,207.6 286.5,210.4 286,213.4 285.6,216.7 285.2,220.4 284.8,224.6 284.5,229.4 284.3,234.8 284.1,240.9 284,247.7 283.9,254.2 283.9,257.6ZM276.5,208.1 277.1,206 277.8,204.1 278.6,202.4 279.4,200.8 280.2,199.3 281,197.9 282,196.6 282.9,195.4 283.9,194.4 284.9,193.3 286,192.4 287.1,191.6 288.3,190.8 300.2,185.6 299,186.4 297.9,187.3 296.8,188.2 295.8,189.2 294.8,190.3 293.8,191.5 292.9,192.7 292,194.1 291.2,195.6 290.4,197.2 289.6,199 288.9,200.9 288.2,202.9ZM288.3,190.8 289.5,190 290.7,189.4 292,188.8 303.9,183.6 302.6,184.2 301.4,184.9 300.2,185.6ZM303.9,183.6 305.2,183 306.6,182.5 308,182.1 309.4,181.7 310.9,181.3 312.4,181 313.9,180.8 315.5,180.5 317.2,180.4 318.8,180.2 320.5,180.1 308.5,185.3 306.8,185.4 305.2,185.6 303.5,185.8 301.9,186 300.4,186.2 298.9,186.5 297.4,186.9 296,187.3 294.6,187.7 293.3,188.2 292,188.8Z" fill="#808000" stroke="#808000" stroke-width="0.6" stroke-linejoin="round"/>
<path d="M238.8,157.1 240.2,158.7 241.5,160.3 242.9,161.9 244.2,163.5 245.5,165.2 246.7,166.9 248,168.5 249.2,170.3 250.4,172 251.5,173.8 252.7,175.5 253.8,177.4 254.8,179.2 242.8,184.3 241.7,182.4 240.6,180.6 239.5,178.8 238.3,177 237.1,175.2 235.9,173.5 234.7,171.8 233.4,170.1 232.1,168.4 230.8,166.8 229.4,165.2 228.1,163.5 226.7,161.9ZM254.8,179.2 255.9,181.1 256.9,183 257.8,185 258.8,187 259.7,189.1 260.6,191.2 261.5,193.4 262.3,195.7 263.1,198 263.8,200.4 264.6,203 265.3,205.6 265.9,208.4 254,213.6 253.3,210.8 252.6,208.2 251.9,205.6 251.1,203.2 250.3,200.8 249.4,198.5 248.6,196.3 247.7,194.2 246.8,192.1 245.8,190.1 244.8,188.1 243.8,186.2 242.8,184.3ZM265.9,208.4 266.6,211.3 267.2,214.4 267.7,217.7 268.2,221.2 268.7,225 269.2,229.1 257.4,234.4 256.9,230.3 256.4,226.5 255.8,223 255.2,219.7 254.6,216.5 254,213.6ZM269.2,229.1 269.6,233.5 270,238.5 270.4,244 270.7,250.1 271,256.9 271.2,264.2 271.4,271.1 271.5,274.7 259.9,280.3 259.8,276.7 259.5,269.8 259.3,262.4 258.9,255.6 258.6,249.4 258.2,243.9 257.8,238.9 257.4,234.4ZM259.9,280.3 259.8,276.7 259.8,269.9 259.9,262.7 259.9,256.1 260.1,250.2 260.3,245 260.5,240.3 260.8,236.2 261.2,232.5 261.5,229.2 262,226.1 262.5,223.3 263,220.8 274.9,215.5 274.4,218 273.9,220.8 273.4,223.8 273,227.1 272.7,230.8 272.3,234.9 272.1,239.5 271.8,244.7 271.7,250.6 271.6,257.2 271.5,264.4 271.5,271.2 271.5,274.7ZM263,220.8 263.5,218.4 264.1,216.3 264.8,214.3 265.4,212.4 266.2,210.7 266.9,209.1 267.7,207.6 268.5,206.2 269.4,204.9 270.3,203.7 271.2,202.6 272.2,201.5 273.2,200.5 285.3,195.3 284.3,196.2 283.3,197.3 282.3,198.4 281.4,199.6 280.6,200.9 279.7,202.3 278.9,203.8 278.2,205.4 277.4,207.1 276.8,209 276.1,211 275.5,213.1 274.9,215.5ZM273.2,200.5 274.2,199.6 275.3,198.8 276.4,198 277.6,197.3 278.7,196.6 280,196 281.2,195.4 293.4,190.1 292.1,190.7 290.9,191.3 289.7,192 288.5,192.7 287.4,193.5 286.3,194.3 285.3,195.3ZM293.4,190.1 294.7,189.6 296,189.1 297.4,188.6 298.8,188.2 300.2,187.9 301.7,187.6 303.2,187.3 290.9,192.6 289.5,192.9 288,193.2 286.6,193.5 285.2,193.9 283.8,194.4 282.5,194.9 281.2,195.4Z" fill="#FFFF00" stroke="#FFFF00" stroke-width="0.6" stroke-linejoin="round"/>
<path d="M229.7,168.5 230.8,170 232,171.6 233.1,173.1 234.2,174.7 235.3,176.3 236.4,177.9 237.4,179.6 238.5,181.2 239.5,182.9 240.4,184.7 241.4,186.4 242.3,188.2 243.2,190 231,195.2 230,193.3 229.1,191.5 228.2,189.8 227.2,188.1 226.2,186.3 225.1,184.7 224.1,183 223,181.4 221.9,179.8 220.8,178.2 219.7,176.6 218.5,175 217.3,173.5ZM243.2,190 244.1,191.9 244.9,193.8 245.8,195.7 246.6,197.7 247.4,199.8 248.1,201.9 248.8,204 249.6,206.3 250.2,208.6 250.9,211.1 251.5,213.6 252.1,216.3 252.7,219 240.6,224.4 240,221.6 239.4,218.9 238.7,216.4 238.1,213.9 237.4,211.6 236.6,209.3 235.9,207.1 235.1,205 234.4,202.9 233.5,200.9 232.7,199 231.8,197 231,195.2ZM252.7,219 253.2,222 253.8,225.1 254.3,228.4 254.7,232 255.2,235.8 243.1,241.2 242.7,237.4 242.2,233.8 241.7,230.5 241.1,227.4 240.6,224.4ZM255.2,235.8 255.6,239.9 256,244.4 256.3,249.4 256.7,254.9 257,261.1 257.3,267.8 257.5,275 257.7,281.7 257.8,285.1 246.1,290.8 245.9,287.3 245.7,280.7 245.4,273.5 245.1,266.7 244.7,260.5 244.4,254.9 244,249.9 243.6,245.4 243.1,241.2ZM246.1,290.8 246,287.4 245.9,280.8 245.9,273.7 245.9,267.1 246,261.2 246.1,255.9 246.2,251.1 246.4,246.9 246.7,243.1 247,239.7 247.3,236.5 247.7,233.6 248.1,231 260.2,225.5 259.8,228.2 259.4,231.1 259,234.2 258.7,237.6 258.5,241.4 258.2,245.6 258,250.3 257.9,255.6 257.8,261.5 257.8,268.1 257.8,275.2 257.8,281.7 257.8,285.1ZM248.1,231 248.5,228.5 249,226.3 249.5,224.1 250,222.2 250.6,220.4 251.2,218.6 251.8,217 252.5,215.5 253.2,214.1 253.9,212.8 254.7,211.6 255.5,210.4 256.3,209.3 268.6,203.9 267.7,205 266.9,206.2 266.2,207.4 265.4,208.8 264.7,210.2 264.1,211.7 263.4,213.3 262.8,215 262.2,216.8 261.7,218.7 261.1,220.8 260.6,223.1 260.2,225.5ZM256.3,209.3 257.1,208.3 258,207.3 258.9,206.4 259.9,205.6 260.8,204.8 261.8,204 262.8,203.3 263.9,202.7 265,202.1 266.1,201.5 267.2,201 279.6,195.6 278.5,196.1 277.3,196.7 276.3,197.3 275.2,198 274.2,198.7 273.2,199.4 272.2,200.2 271.2,201 270.3,202 269.4,202.9 268.6,203.9ZM279.6,195.6 280.8,195.1 282,194.7 283.2,194.3 270.8,199.7 269.6,200.1 268.4,200.5 267.2,201Z" fill="#FF00FF" stroke="#FF00FF" stroke-width="0.6" stroke-linejoin="round"/>
<path d="M220.7,179.9 221.7,181.7 222.7,183.4 223.6,185.2 224.6,187.1 225.5,188.9 226.4,190.8 227.3,192.7 228.1,194.6 229,196.6 229.8,198.6 230.6,200.7 231.4,202.8 232.2,205 219.8,210.3 219,208.1 218.2,206 217.4,203.9 216.5,201.9 215.7,199.9 214.8,197.9 213.9,196 213,194.1 212.1,192.2 211.1,190.4 210.1,188.6 209.2,186.8 208.2,185.1ZM232.2,205 233,207.2 233.7,209.5 234.4,211.8 235.1,214.2 235.8,216.7 236.4,219.3 237.1,221.9 237.7,224.7 238.3,227.5 238.8,230.5 239.4,233.6 239.9,236.9 240.4,240.4 228.2,245.9 227.6,242.4 227.1,239.1 226.5,236 225.9,233 225.3,230.1 224.7,227.3 224.1,224.7 223.4,222.1 222.7,219.6 222,217.2 221.3,214.8 220.5,212.5 219.8,210.3ZM240.4,240.4 240.9,244 228.7,249.6 228.2,245.9ZM240.9,244 241.4,247.9 241.9,252 242.3,256.4 242.7,261.2 243.1,266.4 243.5,272 243.9,278.2 244.3,285 244.6,292.5 244.9,300.8 245.3,309.3 245.5,317.1 245.6,321 233.8,326.9 233.7,323 233.4,315.2 233,306.6 232.6,298.3 232.2,290.8 231.8,283.9 231.4,277.7 231,272 230.6,266.8 230.1,262.1 229.7,257.6 229.2,253.5 228.7,249.6ZM233.8,326.9 233.7,323 233.6,315.3 233.4,306.8 233.3,298.7 233.2,291.3 233.2,284.7 233.3,278.7 233.4,273.3 233.5,268.5 233.7,264 233.9,259.9 234.1,256.2 234.4,252.7 246.6,247.1 246.3,250.5 246.1,254.3 245.9,258.4 245.7,262.8 245.5,267.7 245.4,273 245.3,279 245.3,285.6 245.3,292.9 245.3,301 245.4,309.4 245.6,317.1 245.6,321ZM234.4,252.7 234.7,249.4 235,246.4 235.4,243.6 235.8,241 236.2,238.5 236.7,236.1 237.2,233.9 237.7,231.8 238.3,229.9 238.8,228 239.4,226.2 240,224.6 240.7,223 253.1,217.5 252.5,219.1 251.8,220.7 251.2,222.5 250.7,224.4 250.1,226.3 249.6,228.4 249.1,230.6 248.6,232.9 248.1,235.4 247.7,238 247.3,240.8 247,243.8 246.6,247.1ZM240.7,223 241.3,221.4 242,220 242.8,218.6 243.5,217.3 244.3,216.1 245.1,214.9 245.9,213.8 246.7,212.7 247.6,211.6 248.5,210.7 249.4,209.7 250.4,208.9 251.3,208 263.9,202.5 262.9,203.4 262,204.3 261.1,205.2 260.2,206.2 259.3,207.2 258.4,208.3 257.6,209.4 256.8,210.6 256,211.8 255.3,213.1 254.5,214.5 253.8,215.9 253.1,217.5ZM251.3,208 252.3,207.2 264.9,201.7 263.9,202.5Z" fill="#00FFFF" stroke="#00FFFF" stroke-width="0.6" stroke-linejoin="round"/>
<path d="M210.4,192.3 211.3,194 212.2,195.8 213,197.6 213.9,199.4 214.7,201.3 215.6,203.2 216.4,205.1 217.2,207.1 217.9,209.1 218.7,211.1 219.4,213.2 220.2,215.3 220.9,217.5 208.2,223 207.5,220.8 206.8,218.6 206,216.5 205.3,214.5 204.5,212.4 203.7,210.5 202.9,208.5 202,206.6 201.2,204.8 200.3,202.9 199.4,201.1 198.5,199.3 197.6,197.6ZM220.9,217.5 221.5,219.7 222.2,222.1 222.9,224.4 223.5,226.9 224.1,229.4 224.7,232 225.3,234.7 225.9,237.5 213.4,243.1 212.8,240.3 212.2,237.5 211.6,234.9 210.9,232.4 210.3,229.9 209.6,227.5 208.9,225.2 208.2,223ZM225.9,237.5 226.5,240.4 227,243.4 227.5,246.6 228,250 228.5,253.5 229,257.2 229.4,261.1 229.9,265.3 230.3,269.8 230.7,274.6 231.1,279.8 231.5,285.5 231.9,291.7 219.7,297.6 219.3,291.3 218.8,285.6 218.4,280.4 218,275.6 217.5,271 217,266.8 216.6,262.9 216.1,259.1 215.6,255.6 215,252.3 214.5,249.1 213.9,246 213.4,243.1ZM231.9,291.7 232.3,298.5 232.7,305.9 233,313.9 233.4,322.1 233.6,329.3 233.8,332.9 221.8,338.9 221.6,335.4 221.3,328.1 220.9,319.9 220.5,311.9 220.1,304.4 219.7,297.6ZM221.8,338.9 221.7,335.4 221.5,328.2 221.3,320.1 221.1,312.2 221,304.9 220.9,298.3 220.9,292.3 220.9,286.8 221,281.9 221.1,277.3 221.3,273.2 221.4,269.3 221.6,265.7 234.1,260 233.9,263.5 233.6,267.4 233.5,271.5 233.3,276.1 233.2,281 233.2,286.4 233.2,292.4 233.2,299 233.3,306.3 233.4,314.2 233.5,322.2 233.7,329.3 233.8,332.9ZM221.6,265.7 221.9,262.4 222.2,259.3 222.5,256.3 222.8,253.6 223.1,251 223.5,248.6 223.9,246.3 224.4,244.1 224.8,242.1 225.3,240.1 225.8,238.2 226.4,236.5 226.9,234.8 239.6,229.2 239,230.8 238.5,232.6 237.9,234.5 237.4,236.4 237,238.5 236.5,240.6 236.1,242.9 235.7,245.3 235.3,247.9 235,250.6 234.6,253.6 234.3,256.7 234.1,260ZM226.9,234.8 227.5,233.2 228.1,231.7 228.7,230.2 229.4,228.8 230,227.5 230.7,226.2 231.4,225 232.2,223.8 232.9,222.7 233.7,221.7 234.5,220.6 235.4,219.7 236.2,218.7 249,213.2 248.1,214.1 247.3,215 246.5,216.1 245.7,217.1 244.9,218.2 244.2,219.4 243.5,220.6 242.8,221.9 242.1,223.2 241.4,224.6 240.8,226 240.2,227.6 239.6,229.2ZM236.2,218.7 237.1,217.9 249.9,212.3 249,213.2Z" fill="#0000FF" stroke="#0000FF" stroke-width="0.6" stroke-linejoin="round"/>
<path d="M201.3,210.8 202,212.5 202.7,214.2 203.4,215.9 204.1,217.7 204.7,219.5 205.4,221.3 206,223.1 206.6,225 207.3,227 207.9,228.9 208.4,231 209,233 209.6,235.2 196.8,240.8 196.2,238.7 195.6,236.6 195,234.5 194.4,232.5 193.8,230.6 193.2,228.7 192.5,226.8 191.9,225 191.2,223.2 190.5,221.4 189.8,219.7 189.1,218 188.4,216.3ZM209.6,235.2 210.1,237.3 210.7,239.6 211.2,241.9 198.4,247.6 197.9,245.2 197.3,243 196.8,240.8ZM211.2,241.9 211.7,244.3 212.2,246.7 212.7,249.3 213.2,251.9 213.7,254.7 214.1,257.5 214.6,260.5 215,263.6 215.4,266.9 215.9,270.4 216.3,274 216.7,277.9 217.1,282 204.5,287.9 204.1,283.8 203.7,279.9 203.2,276.2 202.8,272.7 202.4,269.4 201.9,266.3 201.4,263.3 201,260.4 200.5,257.7 200,255 199.5,252.4 199,250 198.4,247.6ZM217.1,282 217.4,286.4 217.8,291.1 218.2,296.2 218.6,301.7 218.9,307.7 219.3,314.2 219.7,321.1 220,328.5 220.4,335.9 220.6,342.1 220.7,345 208.6,351.2 208.4,348.2 208.1,342 207.7,334.6 207.3,327.2 206.9,320.2 206.5,313.7 206.1,307.7 205.7,302.2 205.3,297.1 204.9,292.3 204.5,287.9ZM208.6,351.2 208.5,348.3 208.2,342.1 208,334.8 207.8,327.5 207.6,320.6 207.5,314.3 207.4,308.4 207.3,303.1 207.3,298.2 207.3,293.7 207.4,289.6 207.4,285.7 207.5,282.1 220.1,276.2 220,279.8 219.9,283.6 219.8,287.8 219.8,292.3 219.8,297.1 219.8,302.4 219.9,308.2 220,314.6 220.1,321.4 220.3,328.7 220.5,335.9 220.7,342.1 220.7,345ZM207.5,282.1 207.7,278.8 207.8,275.6 208,272.7 208.2,269.9 208.4,267.3 208.7,264.8 209,262.4 209.3,260.2 209.6,258.1 209.9,256 210.3,254.1 210.6,252.3 211,250.5 223.8,244.7 223.4,246.5 223.1,248.3 222.7,250.3 222.3,252.3 222,254.4 221.7,256.6 221.4,259 221.1,261.4 220.9,264 220.7,266.8 220.5,269.8 220.3,272.9 220.1,276.2ZM211,250.5 211.4,248.8 211.9,247.2 212.3,245.7 212.8,244.2 213.3,242.8 213.8,241.4 214.3,240.1 214.8,238.9 215.4,237.7 215.9,236.5 216.5,235.4 217.1,234.3 217.7,233.3 230.7,227.6 230.1,228.6 229.5,229.7 228.9,230.8 228.3,231.9 227.7,233.1 227.2,234.4 226.6,235.7 226.1,237 225.6,238.5 225.2,239.9 224.7,241.5 224.3,243.1 223.8,244.7ZM217.7,233.3 218.4,232.3 231.3,226.6 230.7,227.6Z" fill="#00FF00" stroke="#00FF00" stroke-width="0.6" stroke-linejoin="round"/>
<path d="M188.8,224.8 189.5,226.8 190.1,228.8 190.8,230.8 191.4,232.9 192,235 192.7,237.2 193.3,239.4 193.9,241.7 194.5,244 195,246.4 195.6,248.8 196.2,251.3 183.2,257.1 182.6,254.6 182,252.1 181.4,249.7 180.8,247.4 180.2,245.1 179.6,242.9 179,240.7 178.3,238.6 177.7,236.5 177,234.4 176.4,232.4 175.7,230.4ZM196.2,251.3 196.7,253.8 197.2,256.5 197.8,259.2 198.3,261.9 198.8,264.8 199.3,267.8 199.8,270.9 200.3,274.1 200.7,277.4 201.2,280.8 201.7,284.4 202.1,288.2 202.5,292.1 189.8,298.1 189.3,294.2 188.9,290.4 188.4,286.8 187.9,283.3 187.4,280 186.9,276.8 186.4,273.7 185.9,270.7 185.4,267.8 184.8,265 184.3,262.3 183.7,259.6 183.2,257.1ZM202.5,292.1 203,296.2 203.4,300.6 203.8,305.2 204.3,310.1 204.7,315.3 205.1,320.8 205.5,326.7 205.9,333 206.4,339.8 206.8,346.9 207.2,354.5 207.6,362.1 208,369.4 195.7,375.7 195.3,368.5 194.8,360.8 194.4,353.2 193.9,346 193.4,339.2 193,332.9 192.5,326.9 192.1,321.4 191.6,316.2 191.2,311.3 190.7,306.6 190.3,302.3 189.8,298.1ZM208,369.4 208.3,375.2 208.4,377.9 196.2,384.3 196,381.6 195.7,375.7ZM196.2,384.3 196.1,381.6 195.8,375.8 195.5,368.6 195.2,361 195,353.6 194.7,346.5 194.6,339.9 194.4,333.8 194.3,328 194.2,322.7 194.2,317.7 194.2,313.1 194.2,308.7 206.9,302.6 206.8,307 206.8,311.6 206.8,316.6 206.9,321.9 207,327.6 207.1,333.7 207.2,340.3 207.4,347.3 207.6,354.7 207.9,362.3 208.1,369.4 208.3,375.2 208.4,377.9ZM194.2,308.7 194.2,304.6 194.3,300.8 194.4,297.2 194.5,293.7 194.7,290.5 194.8,287.4 195,284.4 195.2,281.6 195.4,278.9 195.7,276.3 196,273.9 196.3,271.5 196.6,269.3 209.5,263.4 209.2,265.6 208.9,267.9 208.6,270.4 208.4,272.9 208.1,275.6 207.9,278.4 207.7,281.4 207.5,284.4 207.3,287.7 207.2,291.1 207.1,294.7 207,298.6 206.9,302.6ZM196.6,269.3 196.9,267.1 197.2,265 197.6,263 198,261.1 198.4,259.3 198.8,257.5 199.2,255.7 199.6,254.1 200.1,252.5 200.6,250.9 201.1,249.4 201.6,248 202.1,246.6 215.3,240.7 214.7,242.1 214.2,243.6 213.7,245.1 213.2,246.6 212.7,248.2 212.3,249.9 211.8,251.6 211.4,253.4 211,255.2 210.6,257.1 210.2,259.1 209.9,261.2 209.5,263.4ZM202.1,246.6 202.6,245.2 215.8,239.4 215.3,240.7Z" fill="#FF0000" stroke="#FF0000" stroke-width="0.6" stroke-linejoin="round"/>
<path d="M179.5,257.5 180,262.1 180.6,266.8 181.1,271.5 181.7,276.2 168.6,282.2 168,277.4 167.4,272.7 166.8,268 166.3,263.4ZM181.7,276.2 182.2,281 182.8,285.8 183.3,290.7 183.8,295.6 184.3,300.5 184.8,305.5 185.3,310.5 185.8,315.6 186.3,320.6 186.8,325.7 187.3,330.8 187.8,335.9 188.2,341.1 175.5,347.4 175,342.2 174.5,337.1 174,331.9 173.5,326.8 173,321.7 172.5,316.7 171.9,311.6 171.4,306.6 170.8,301.7 170.3,296.8 169.7,291.9 169.1,287 168.6,282.2ZM188.2,341.1 188.7,346.2 189.2,351.3 189.6,356.5 190,361.6 190.5,366.7 190.9,371.7 191.3,376.7 191.7,381.6 192.1,386.4 192.4,391.1 192.8,395.7 193.1,400.2 193.4,404.4 181.1,411 180.8,406.7 180.4,402.3 180,397.7 179.6,392.9 179.2,388.1 178.8,383.1 178.4,378.1 177.9,373.1 177.5,368 177,362.8 176.5,357.7 176,352.5 175.5,347.4ZM193.4,404.4 193.7,408.5 194,412.3 194.3,415.9 194.5,419.2 194.7,422.1 194.9,424.6 195,426.8 195.2,428.4 195.2,429.5 195.3,429.9 183.1,436.6 183.1,436.2 183,435.1 182.9,433.4 182.7,431.3 182.5,428.7 182.3,425.8 182,422.5 181.7,419 181.4,415.1 181.1,411ZM183.1,436.6 183.1,436.2 183.1,435.1 183,433.5 182.9,431.5 182.8,429 182.7,426.1 182.6,423 182.5,419.5 182.4,415.8 182.3,411.8 182.1,407.7 182,403.4 181.9,398.9 194.3,392.4 194.4,396.8 194.5,401.1 194.6,405.2 194.7,409.2 194.8,412.9 194.9,416.3 195,419.5 195,422.3 195.1,424.8 195.2,426.8 195.2,428.4 195.3,429.5 195.3,429.9ZM181.9,398.9 181.7,394.3 181.6,389.7 181.5,384.9 181.4,380.1 181.3,375.3 181.2,370.4 181.1,365.5 181,360.6 180.9,355.7 180.8,350.7 180.7,345.8 180.7,340.9 180.6,336.1 193.4,329.8 193.5,334.6 193.5,339.5 193.5,344.4 193.6,349.3 193.6,354.2 193.7,359.1 193.7,364 193.8,368.8 193.9,373.7 194,378.4 194.1,383.2 194.2,387.8 194.3,392.4ZM180.6,336.1 180.6,331.2 180.5,326.4 180.5,321.7 180.5,316.9 180.5,312.2 180.5,307.6 180.5,303 180.6,298.4 180.6,293.9 180.7,289.4 180.7,284.9 180.8,280.6 180.9,276.2 194.1,270.2 194,274.5 193.9,278.9 193.8,283.3 193.7,287.8 193.6,292.3 193.6,296.8 193.5,301.4 193.5,306 193.5,310.7 193.4,315.4 193.4,320.2 193.4,325 193.4,329.8ZM180.9,276.2 181,271.9 194.2,265.9 194.1,270.2ZM166.2,263.4 179.5,257.5 194.2,265.9 195.3,429.9 183.1,436.6Z" fill="#000000" stroke="#000000" stroke-width="0.6" stroke-linejoin="round"/>
<path d="M97.3,385.6L73.3,135.8M97.3,385.6L285.5,520M285.5,520L487.4,391.7" stroke="#000" stroke-width="3.6" fill="none" stroke-linecap="square"/>
<path d="M97.3,385.6L105,381.7M96.3,375.6L100.3,373.7M95.7,369.8L99.8,367.8M95.3,365.6L99.4,363.7M95,362.4L99.1,360.4M94.8,359.7L98.8,357.8M94.6,357.5L98.6,355.5M94.4,355.5L98.4,353.6M94.2,353.8L98.3,351.8M94.1,352.2L101.9,348.5M93.1,342L97.2,340.1M92.5,335.9L96.6,334M92.1,331.6L96.2,329.7M91.8,328.3L95.9,326.4M91.5,325.5L95.6,323.6M91.3,323.2L95.4,321.3M91.1,321.2L95.2,319.3M90.9,319.4L95,317.5M90.8,317.8L98.8,314.1M89.7,307.2L93.9,305.4M89.1,301L93.3,299.1M88.7,296.5L92.9,294.7M88.4,293.1L92.6,291.2M88.1,290.2L92.3,288.4M87.9,287.8L92.1,286M87.7,285.8L91.9,283.9M87.5,283.9L91.7,282.1M87.3,282.3L95.5,278.7M86.3,271.3L90.5,269.5M85.7,264.9L89.9,263.1M85.2,260.3L89.5,258.5M84.9,256.7L89.2,254.9M84.6,253.8L88.9,252M84.4,251.3L88.6,249.5M84.2,249.1L88.4,247.4M84,247.2L88.3,245.5M83.8,245.5L92.1,242.1M82.7,234.2L87,232.5M82.1,227.6L86.4,225.8M81.6,222.8L86,221.1M81.3,219.1L85.6,217.4M81,216.1L85.3,214.4M80.7,213.5L85.1,211.8M80.5,211.3L84.9,209.6M80.3,209.3L84.7,207.6M80.2,207.6L88.7,204.2M79.1,195.9L83.4,194.2M78.4,189L82.8,187.3M77.9,184.1L82.3,182.4M77.6,180.2L82,178.6M77.2,177.1L81.7,175.4M77,174.4L81.4,172.8M76.8,172.1L81.2,170.5M76.6,170.1L81,168.4M76.4,168.3L85,165.1M75.2,156.2L79.7,154.5M74.6,149L79.1,147.4M74.1,144L78.6,142.3M73.7,140L78.2,138.4M73.4,136.7L77.9,135.1M97.3,385.6L105,381.7M105.5,391.4L109.9,389.2M113.8,397.3L121.5,393.4M122.2,403.4L126.7,401.1M130.7,409.5L138.5,405.4M139.4,415.6L143.9,413.3M148.2,421.9L156,417.7M157.1,428.3L161.6,425.8M166.1,434.7L174,430.4M175.3,441.3L179.8,438.8M184.6,447.9L192.5,443.5M194,454.6L198.5,452.1M203.6,461.5L211.5,456.9M213.3,468.4L217.8,465.8M223.1,475.4L231.1,470.8M233.1,482.6L237.7,479.9M243.3,489.8L251.3,485M253.6,497.2L258.2,494.4M264.1,504.7L272.1,499.7M274.7,512.2L279.3,509.4M285.5,520L293.5,514.9M285.5,520L279,515.3M290.7,516.6L287.2,514.2M295.9,513.3L289.4,508.8M301.1,510.1L297.6,507.6M306.2,506.8L299.7,502.3M311.3,503.6L307.8,501.2M316.3,500.4L309.8,495.9M321.3,497.2L317.9,494.8M326.3,494L319.8,489.6M331.3,490.9L327.8,488.5M336.2,487.7L329.7,483.4M341.1,484.6L337.6,482.3M346,481.5L339.5,477.2M350.8,478.4L347.4,476.2M355.7,475.4L349.1,471.2M360.4,472.4L356.9,470.1M365.2,469.3L358.7,465.1M369.9,466.3L366.4,464.1M374.6,463.4L368.1,459.2M379.3,460.4L375.8,458.2M383.9,457.4L377.4,453.4M388.5,454.5L385,452.3M393.1,451.6L386.6,447.6M397.7,448.7L394.2,446.6M402.2,445.8L395.6,441.9M406.7,443L403.2,440.9M411.2,440.1L404.6,436.2M415.6,437.3L412.1,435.2M420,434.5L413.5,430.6M424.4,431.7L420.9,429.6M428.8,428.9L422.3,425.1M433.1,426.2L429.7,424.1M437.5,423.4L430.9,419.6M441.8,420.7L438.3,418.7M446,418L439.5,414.2M450.3,415.3L446.8,413.3M454.5,412.6L448,408.9M458.7,410L455.2,408M462.9,407.3L456.3,403.6M467,404.7L463.5,402.7M471.1,402.1L464.6,398.4M475.2,399.4L471.8,397.5M479.3,396.9L472.8,393.3M483.4,394.3L479.9,392.4M487.4,391.7L480.9,388.2" stroke="#000" stroke-width="2" fill="none"/>
<text transform="matrix(0.937,-0.349,0.096,0.995,69.4,181.3)" font-size="17" font-weight="bold" text-anchor="end">10<tspan font-size="11.9" dy="-7.7">-3</tspan></text>
<text transform="matrix(0.930,-0.367,0.096,0.995,73.2,220.6)" font-size="17" font-weight="bold" text-anchor="end">10<tspan font-size="11.9" dy="-7.7">-4</tspan></text>
<text transform="matrix(0.923,-0.384,0.096,0.995,76.8,258.5)" font-size="17" font-weight="bold" text-anchor="end">10<tspan font-size="11.9" dy="-7.7">-5</tspan></text>
<text transform="matrix(0.916,-0.400,0.096,0.995,80.3,295.3)" font-size="17" font-weight="bold" text-anchor="end">10<tspan font-size="11.9" dy="-7.7">-6</tspan></text>
<text transform="matrix(0.910,-0.415,0.096,0.995,83.8,330.8)" font-size="17" font-weight="bold" text-anchor="end">10<tspan font-size="11.9" dy="-7.7">-7</tspan></text>
<text transform="matrix(0.903,-0.430,0.096,0.995,87.1,365.2)" font-size="17" font-weight="bold" text-anchor="end">10<tspan font-size="11.9" dy="-7.7">-8</tspan></text>
<text transform="matrix(0.896,-0.444,0.096,0.995,90.3,398.6)" font-size="17" font-weight="bold" text-anchor="end">10<tspan font-size="11.9" dy="-7.7">-9</tspan></text>
<text transform="matrix(0.896,-0.444,0.809,0.588,95.8,393.5)" font-size="15" font-weight="bold" text-anchor="end">25</text>
<text transform="matrix(0.892,-0.452,0.809,0.588,112.3,405.5)" font-size="15" font-weight="bold" text-anchor="end">20</text>
<text transform="matrix(0.888,-0.460,0.809,0.588,129.2,417.8)" font-size="15" font-weight="bold" text-anchor="end">15</text>
<text transform="matrix(0.883,-0.469,0.809,0.588,146.6,430.4)" font-size="15" font-weight="bold" text-anchor="end">10</text>
<text transform="matrix(0.879,-0.477,0.809,0.588,164.4,443.4)" font-size="15" font-weight="bold" text-anchor="end">5</text>
<text transform="matrix(0.874,-0.486,0.809,0.588,182.8,456.8)" font-size="15" font-weight="bold" text-anchor="end">0</text>
<text transform="matrix(0.869,-0.496,0.809,0.588,201.8,470.6)" font-size="15" font-weight="bold" text-anchor="end">-5</text>
<text transform="matrix(0.863,-0.505,0.809,0.588,221.3,484.8)" font-size="15" font-weight="bold" text-anchor="end">-10</text>
<text transform="matrix(0.857,-0.515,0.809,0.588,241.4,499.5)" font-size="15" font-weight="bold" text-anchor="end">-15</text>
<text transform="matrix(0.851,-0.525,0.809,0.588,262.2,514.5)" font-size="15" font-weight="bold" text-anchor="end">-20</text>
<text transform="matrix(0.844,-0.536,0.809,0.588,283.5,530.1)" font-size="15" font-weight="bold" text-anchor="end">-25</text>
<text transform="matrix(0.796,0.606,-0.882,0.471,140,478.4)" font-size="19" font-weight="bold" text-anchor="middle" textLength="133" lengthAdjust="spacingAndGlyphs">Voltage (Volts)</text>
<text transform="matrix(0.118,0.993,-0.924,0.382,28.9,292.4)" font-size="20" font-weight="bold" text-anchor="middle" textLength="105" lengthAdjust="spacingAndGlyphs">Current (A)</text>
<clipPath id="insA"><rect x="311.1" y="254" width="147.2" height="117.4"/></clipPath>
<g clip-path="url(#insA)"><path d="M385.8,347.7 385.8,348.1 385.7,348.5 385.7,348.9 385.7,349.3 385.6,349.7 385.6,350.1 385.6,350.5 385.5,350.9 385.5,351.3 385.5,351.8 385.4,352.2 385.4,352.7 385.4,353.2 385.3,353.6 385.3,354.1 385.3,354.6 385.3,355.2 385.2,355.7 385.2,356.2 385.2,356.8 385.2,357.3 385.1,357.9 385.1,358.5 385.1,359.2 385.1,359.8 385.1,360.4 385,361.1 385,361.8 385,362.5 385,363.3 385,364 384.9,364.8 384.9,365.6 384.9,366.5 384.9,367.4 384.9,367.9 384.9,367.9 384.8,367.9 384.8,367.9 384.8,367.9 384.8,367.9 384.8,367.9 384.8,367.9 384.8,367.9 384.8,367.9 384.8,367.9 384.8,367.9 384.7,367.9 384.7,367.9 384.7,367.9 384.7,367.9 384.7,367.9 384.7,367.9 384.7,367.9 384.7,367.9 384.7,367.9 384.7,367.9 384.7,367.9 384.7,367.9 384.7,367.9 384.7,367.9 384.7,367.9 384.7,367.9 384.7,367.9 384.7,367.9 384.7,367.9 384.7,367.9 384.7,367.9 384.7,367.9 384.7,367.9 384.7,367.9 384.7,367.9 384.6,367.9 384.6,367.9 384.6,367.9 384.6,367.9 384.6,367.9 384.6,367.9 384.6,367.9 384.6,367.9 384.6,367.9 384.6,367.9 384.5,367.9 384.5,367.9 384.5,367.4 384.5,366.5 384.5,365.6 384.5,364.8 384.4,364 384.4,363.3 384.4,362.5 384.4,361.8 384.4,361.1 384.3,360.4 384.3,359.8 384.3,359.2 384.3,358.5 384.3,357.9 384.2,357.3 384.2,356.8 384.2,356.2 384.2,355.7 384.1,355.2 384.1,354.6 384.1,354.1 384.1,353.6 384,353.2 384,352.7 384,352.2 383.9,351.8 383.9,351.3 383.9,350.9 383.8,350.5 383.8,350.1 383.8,349.7 383.7,349.3 383.7,348.9 383.7,348.5 383.6,348.1 383.6,347.7" stroke="#000000" stroke-width="1.7" fill="none"/><path d="M390.2,317.3 390,318.2 389.9,319.2 389.7,320.1 389.5,321.1 389.3,322.1 389.2,323.1 389,324.2 388.8,325.3 388.7,326.4 388.5,327.6 388.4,328.7 388.2,329.1 388.1,329.5 387.9,329.9 387.8,330.3 387.7,330.8 387.5,331.2 387.4,331.7 387.3,332.1 387.2,332.6 387,333.1 386.9,333.7 386.8,334.2 386.7,334.8 386.6,335.4 386.5,336 386.4,336.6 386.3,337.3 386.2,337.9 386.1,338.7 386,339.4 385.9,340.1 385.8,340.9 385.7,341.8 385.7,342.6 385.6,343.5 385.5,344.5 385.4,345.5 385.4,346.5 385.3,347.6 385.3,348.7 385.2,349.9 385.1,351.2 385.1,352.6 385,354 385,355.6 385,357.3 384.9,357.5 384.9,357.5 384.9,357.5 384.8,357.5 384.8,357.5 384.8,357.5 384.8,357.5 384.7,357.5 384.7,357.5 384.7,357.5 384.7,357.5 384.7,357.5 384.7,357.5 384.7,357.5 384.7,357.5 384.7,357.5 384.7,357.5 384.7,357.5 384.6,357.5 384.6,357.5 384.6,357.5 384.6,357.5 384.5,357.5 384.5,357.5 384.5,357.5 384.4,357.3 384.4,355.6 384.4,354 384.3,352.6 384.3,351.2 384.2,349.9 384.1,348.7 384.1,347.6 384,346.5 384,345.5 383.9,344.5 383.8,343.5 383.7,342.6 383.7,341.8 383.6,340.9 383.5,340.1 383.4,339.4 383.3,338.7 383.2,337.9 383.1,337.3 383,336.6 382.9,336 382.8,335.4 382.7,334.8 382.6,334.2 382.5,333.7 382.4,333.1 382.2,332.6 382.1,332.1 382,331.7 381.9,331.2 381.7,330.8 381.6,330.3 381.5,329.9 381.3,329.5 381.2,329.1 381,328.7 380.9,327.6 380.7,326.4 380.6,325.3 380.4,324.2 380.2,323.1 380.1,322.1 379.9,321.1 379.7,320.1 379.5,319.2 379.4,318.2 379.2,317.3" stroke="#FF0000" stroke-width="1.7" fill="none"/><path d="M392.4,304.7 392.2,305.5 391.9,306.3 391.7,307.1 391.4,307.9 391.2,308.8 391,309.7 390.7,310.7 390.5,311.6 390.3,312.6 390.1,313.6 389.9,314.7 389.6,315.8 389.4,317 389.2,318.1 389,319.4 388.9,320.6 388.7,321.9 388.5,323.3 388.3,324.3 388.1,324.7 388,325.1 387.8,325.6 387.6,326.1 387.5,326.6 387.3,327.2 387.2,327.7 387,328.3 386.9,328.9 386.8,329.6 386.6,330.2 386.5,330.9 386.4,331.7 386.3,332.4 386.2,333.2 386,334.1 385.9,334.9 385.8,335.8 385.7,336.8 385.6,337.8 385.6,338.9 385.5,340 385.4,341.2 385.3,342.5 385.2,343.8 385.2,345.3 385.1,346.8 385.1,347.1 385,347.1 385,347.1 384.9,347.1 384.9,347.1 384.8,347.1 384.8,347.1 384.8,347.1 384.8,347.1 384.7,347.1 384.7,347.1 384.7,347.1 384.7,347.1 384.7,347.1 384.7,347.1 384.7,347.1 384.7,347.1 384.7,347.1 384.6,347.1 384.6,347.1 384.6,347.1 384.6,347.1 384.5,347.1 384.5,347.1 384.4,347.1 384.4,347.1 384.3,347.1 384.3,346.8 384.2,345.3 384.2,343.8 384.1,342.5 384,341.2 383.9,340 383.8,338.9 383.8,337.8 383.7,336.8 383.6,335.8 383.5,334.9 383.4,334.1 383.2,333.2 383.1,332.4 383,331.7 382.9,330.9 382.8,330.2 382.6,329.6 382.5,328.9 382.4,328.3 382.2,327.7 382.1,327.2 381.9,326.6 381.8,326.1 381.6,325.6 381.4,325.1 381.3,324.7 381.1,324.3 380.9,323.3 380.7,321.9 380.5,320.6 380.4,319.4 380.2,318.1 380,317 379.8,315.8 379.5,314.7 379.3,313.6 379.1,312.6 378.9,311.6 378.7,310.7 378.4,309.7 378.2,308.8 378,307.9 377.7,307.1 377.5,306.3 377.2,305.5 377,304.7" stroke="#00FF00" stroke-width="1.7" fill="none"/><path d="M397.4,292.1 397,292.7 396.6,293.3 396.2,293.9 395.8,294.5 395.4,295.1 395,295.8 394.6,296.5 394.3,297.2 393.9,298 393.5,298.8 393.2,299.6 392.8,300.5 392.5,301.3 392.2,302.3 391.9,303.3 391.5,304.3 391.2,305.3 390.9,306.5 390.6,307.6 390.4,308.8 390.1,310.1 389.8,311.4 389.5,312.8 389.3,314.3 389,315.8 388.8,317.4 388.6,319.1 388.3,320.5 388.1,321 387.9,321.6 387.7,322.2 387.5,322.8 387.3,323.5 387.1,324.2 386.9,325 386.7,325.8 386.6,326.6 386.4,327.5 386.3,328.5 386.1,329.5 386,330.6 385.8,331.7 385.7,332.9 385.6,334.3 385.5,335.7 385.4,337.2 385.3,338.8 385.2,340.1 385.1,340.1 385.1,340.1 385,340.1 384.9,340.1 384.9,340.1 384.8,340.1 384.8,340.1 384.8,340.1 384.7,340.1 384.7,340.1 384.7,340.1 384.7,340.1 384.7,340.1 384.7,340.1 384.7,340.1 384.6,340.1 384.6,340.1 384.6,340.1 384.5,340.1 384.5,340.1 384.4,340.1 384.3,340.1 384.3,340.1 384.2,340.1 384.1,338.8 384,337.2 383.9,335.7 383.8,334.3 383.7,332.9 383.6,331.7 383.4,330.6 383.3,329.5 383.1,328.5 383,327.5 382.8,326.6 382.7,325.8 382.5,325 382.3,324.2 382.1,323.5 381.9,322.8 381.7,322.2 381.5,321.6 381.3,321 381.1,320.5 380.8,319.1 380.6,317.4 380.4,315.8 380.1,314.3 379.9,312.8 379.6,311.4 379.3,310.1 379,308.8 378.8,307.6 378.5,306.5 378.2,305.3 377.9,304.3 377.5,303.3 377.2,302.3 376.9,301.3 376.6,300.5 376.2,299.6 375.9,298.8 375.5,298 375.1,297.2 374.8,296.5 374.4,295.8 374,295.1 373.6,294.5 373.2,293.9 372.8,293.3 372.4,292.7 372,292.1" stroke="#0000FF" stroke-width="1.7" fill="none"/><path d="M401.3,285.3 400.8,285.8 400.2,286.3 399.7,286.8 399.2,287.4 398.7,287.9 398.2,288.5 397.7,289.1 397.2,289.7 396.7,290.4 396.3,291 395.8,291.7 395.3,292.4 394.9,293.2 394.5,294 394.1,294.8 393.6,295.6 393.2,296.5 392.9,297.5 392.5,298.4 392.1,299.5 391.7,300.6 391.4,301.7 391,302.9 390.7,304.2 390.4,305.5 390,306.9 389.7,308.4 389.4,310 389.1,311.6 388.9,313.4 388.6,315.3 388.3,316.8 388.1,317.4 387.8,318 387.6,318.7 387.4,319.4 387.1,320.1 386.9,321 386.7,321.8 386.5,322.8 386.4,323.8 386.2,324.9 386,326.1 385.9,327.4 385.7,328.7 385.6,330.2 385.5,331.8 385.4,333.6 385.3,334.9 385.2,334.9 385.1,334.9 385,334.9 384.9,334.9 384.9,334.9 384.8,334.9 384.8,334.9 384.7,334.9 384.7,334.9 384.7,334.9 384.7,334.9 384.7,334.9 384.7,334.9 384.7,334.9 384.6,334.9 384.6,334.9 384.5,334.9 384.5,334.9 384.4,334.9 384.3,334.9 384.2,334.9 384.1,334.9 384,333.6 383.9,331.8 383.8,330.2 383.7,328.7 383.5,327.4 383.4,326.1 383.2,324.9 383,323.8 382.9,322.8 382.7,321.8 382.5,321 382.3,320.1 382,319.4 381.8,318.7 381.6,318 381.3,317.4 381.1,316.8 380.8,315.3 380.5,313.4 380.3,311.6 380,310 379.7,308.4 379.4,306.9 379,305.5 378.7,304.2 378.4,302.9 378,301.7 377.7,300.6 377.3,299.5 376.9,298.4 376.5,297.5 376.2,296.5 375.8,295.6 375.3,294.8 374.9,294 374.5,293.2 374.1,292.4 373.6,291.7 373.1,291 372.7,290.4 372.2,289.7 371.7,289.1 371.2,288.5 370.7,287.9 370.2,287.4 369.7,286.8 369.2,286.3 368.6,285.8 368.1,285.3" stroke="#00FFFF" stroke-width="1.7" fill="none"/><path d="M406.3,279.1 405.6,279.5 404.9,280 404.2,280.5 403.5,280.9 402.9,281.5 402.2,282 401.6,282.5 400.9,283.1 400.3,283.6 399.7,284.2 399.1,284.9 398.5,285.5 398,286.1 397.4,286.8 396.9,287.5 396.3,288.3 395.8,289 395.3,289.8 394.8,290.7 394.3,291.5 393.8,292.5 393.4,293.4 392.9,294.4 392.5,295.5 392.1,296.6 391.6,297.8 391.2,299.1 390.8,300.5 390.5,301.9 390.1,303.4 389.7,305 389.4,306.8 389.1,308.6 388.8,310.6 388.5,312.7 388.2,313.6 387.9,314.2 387.6,314.9 387.3,315.7 387.1,316.5 386.9,317.4 386.6,318.4 386.4,319.5 386.2,320.7 386.1,322 385.9,323.4 385.7,325 385.6,326.7 385.4,328.6 385.3,329.7 385.2,329.7 385.1,329.7 385,329.7 384.9,329.7 384.9,329.7 384.8,329.7 384.8,329.7 384.7,329.7 384.7,329.7 384.7,329.7 384.7,329.7 384.7,329.7 384.6,329.7 384.6,329.7 384.5,329.7 384.5,329.7 384.4,329.7 384.3,329.7 384.2,329.7 384.1,329.7 384,328.6 383.8,326.7 383.7,325 383.5,323.4 383.3,322 383.2,320.7 383,319.5 382.8,318.4 382.5,317.4 382.3,316.5 382.1,315.7 381.8,314.9 381.5,314.2 381.2,313.6 380.9,312.7 380.6,310.6 380.3,308.6 380,306.8 379.7,305 379.3,303.4 378.9,301.9 378.6,300.5 378.2,299.1 377.8,297.8 377.3,296.6 376.9,295.5 376.5,294.4 376,293.4 375.6,292.5 375.1,291.5 374.6,290.7 374.1,289.8 373.6,289 373.1,288.3 372.5,287.5 372,286.8 371.4,286.1 370.9,285.5 370.3,284.9 369.7,284.2 369.1,283.6 368.5,283.1 367.8,282.5 367.2,282 366.5,281.5 365.9,280.9 365.2,280.5 364.5,280 363.8,279.5 363.1,279.1" stroke="#FF00FF" stroke-width="1.7" fill="none"/><path d="M410.9,274 410.1,274.4 409.2,274.8 408.4,275.3 407.6,275.7 406.7,276.2 406,276.7 405.2,277.2 404.4,277.7 403.7,278.2 402.9,278.8 402.2,279.4 401.5,280 400.8,280.6 400.1,281.2 399.5,281.9 398.8,282.6 398.2,283.3 397.6,284 397,284.8 396.4,285.6 395.8,286.4 395.2,287.3 394.7,288.2 394.1,289.1 393.6,290.1 393.1,291.2 392.6,292.3 392.2,293.5 391.7,294.7 391.3,296.1 390.8,297.5 390.4,299 390,300.7 389.6,302.4 389.3,304.3 388.9,306.3 388.6,308.5 388.2,310 387.9,310.6 387.6,311.3 387.3,312.1 387.1,312.9 386.8,313.9 386.6,315 386.3,316.2 386.1,317.5 385.9,319 385.7,320.6 385.6,322.4 385.4,324.4 385.3,324.4 385.2,324.4 385.1,324.4 385,324.4 384.9,324.4 384.8,324.4 384.8,324.4 384.7,324.4 384.7,324.4 384.7,324.4 384.7,324.4 384.7,324.4 384.6,324.4 384.6,324.4 384.5,324.4 384.4,324.4 384.3,324.4 384.2,324.4 384.1,324.4 384,324.4 383.8,322.4 383.7,320.6 383.5,319 383.3,317.5 383.1,316.2 382.8,315 382.6,313.9 382.3,312.9 382.1,312.1 381.8,311.3 381.5,310.6 381.2,310 380.8,308.5 380.5,306.3 380.1,304.3 379.8,302.4 379.4,300.7 379,299 378.6,297.5 378.1,296.1 377.7,294.7 377.2,293.5 376.8,292.3 376.3,291.2 375.8,290.1 375.3,289.1 374.7,288.2 374.2,287.3 373.6,286.4 373,285.6 372.4,284.8 371.8,284 371.2,283.3 370.6,282.6 369.9,281.9 369.3,281.2 368.6,280.6 367.9,280 367.2,279.4 366.5,278.8 365.7,278.2 365,277.7 364.2,277.2 363.4,276.7 362.7,276.2 361.8,275.7 361,275.3 360.2,274.8 359.3,274.4 358.5,274" stroke="#FFFF00" stroke-width="1.7" fill="none"/><path d="M415.4,269.5 414.4,269.9 413.4,270.3 412.4,270.7 411.5,271.1 410.5,271.6 409.6,272 408.7,272.5 407.8,273 406.9,273.5 406,274 405.2,274.6 404.4,275.1 403.6,275.7 402.8,276.3 402,276.9 401.2,277.6 400.5,278.3 399.8,279 399,279.7 398.4,280.5 397.7,281.2 397,282.1 396.4,282.9 395.8,283.8 395.2,284.8 394.6,285.7 394,286.8 393.4,287.9 392.9,289 392.4,290.2 391.9,291.5 391.4,292.9 390.9,294.3 390.5,295.9 390,297.6 389.6,299.4 389.2,301.4 388.8,303.5 388.5,305.8 388.1,306.8 387.8,307.4 387.5,308.1 387.2,308.9 386.9,309.9 386.6,310.9 386.4,312.2 386.1,313.5 385.9,315.1 385.7,316.8 385.6,318.8 385.4,319.2 385.2,319.2 385.1,319.2 385,319.2 384.9,319.2 384.8,319.2 384.8,319.2 384.7,319.2 384.7,319.2 384.7,319.2 384.7,319.2 384.7,319.2 384.6,319.2 384.6,319.2 384.5,319.2 384.4,319.2 384.3,319.2 384.2,319.2 384,319.2 383.8,318.8 383.7,316.8 383.5,315.1 383.3,313.5 383,312.2 382.8,310.9 382.5,309.9 382.2,308.9 381.9,308.1 381.6,307.4 381.3,306.8 380.9,305.8 380.6,303.5 380.2,301.4 379.8,299.4 379.4,297.6 378.9,295.9 378.5,294.3 378,292.9 377.5,291.5 377,290.2 376.5,289 376,287.9 375.4,286.8 374.8,285.7 374.2,284.8 373.6,283.8 373,282.9 372.4,282.1 371.7,281.2 371,280.5 370.4,279.7 369.6,279 368.9,278.3 368.2,277.6 367.4,276.9 366.6,276.3 365.8,275.7 365,275.1 364.2,274.6 363.4,274 362.5,273.5 361.6,273 360.7,272.5 359.8,272 358.9,271.6 357.9,271.1 357,270.7 356,270.3 355,269.9 354,269.5" stroke="#808000" stroke-width="1.7" fill="none"/><path d="M419.8,265.5 418.6,265.9 417.5,266.2 416.4,266.6 415.3,267 414.2,267.4 413.1,267.8 412.1,268.3 411.1,268.7 410.1,269.2 409.1,269.7 408.1,270.2 407.2,270.7 406.2,271.3 405.3,271.9 404.4,272.5 403.6,273.1 402.7,273.7 401.9,274.4 401.1,275.1 400.3,275.8 399.5,276.6 398.8,277.4 398.1,278.2 397.3,279.1 396.6,280 396,280.9 395.3,281.9 394.7,282.9 394.1,284 393.5,285.1 392.9,286.3 392.3,287.6 391.8,289 391.3,290.4 390.8,291.9 390.3,293.6 389.9,295.4 389.4,297.3 389,299.4 388.6,301.8 388.2,303.3 387.9,303.9 387.5,304.5 387.2,305.3 386.9,306.2 386.6,307.3 386.3,308.5 386.1,309.9 385.9,311.6 385.7,313.4 385.5,315.6 385.3,315.7 385.2,315.7 385.1,315.7 384.9,315.7 384.9,315.7 384.8,315.7 384.7,315.7 384.7,315.7 384.7,315.7 384.7,315.7 384.7,315.7 384.6,315.7 384.5,315.7 384.5,315.7 384.3,315.7 384.2,315.7 384.1,315.7 383.9,315.6 383.7,313.4 383.5,311.6 383.3,309.9 383.1,308.5 382.8,307.3 382.5,306.2 382.2,305.3 381.9,304.5 381.5,303.9 381.2,303.3 380.8,301.8 380.4,299.4 380,297.3 379.5,295.4 379.1,293.6 378.6,291.9 378.1,290.4 377.6,289 377.1,287.6 376.5,286.3 375.9,285.1 375.3,284 374.7,282.9 374.1,281.9 373.4,280.9 372.8,280 372.1,279.1 371.3,278.2 370.6,277.4 369.9,276.6 369.1,275.8 368.3,275.1 367.5,274.4 366.7,273.7 365.8,273.1 365,272.5 364.1,271.9 363.2,271.3 362.2,270.7 361.3,270.2 360.3,269.7 359.3,269.2 358.3,268.7 357.3,268.3 356.3,267.8 355.2,267.4 354.1,267 353,266.6 351.9,266.2 350.8,265.9 349.6,265.5" stroke="#000080" stroke-width="1.7" fill="none"/><path d="M424,263 422.7,263.3 421.4,263.7 420.1,264 418.9,264.4 417.7,264.8 416.5,265.2 415.3,265.6 414.2,266 413.1,266.5 412,266.9 410.9,267.4 409.8,267.9 408.8,268.4 407.8,269 406.8,269.6 405.8,270.2 404.9,270.8 403.9,271.4 403,272.1 402.2,272.8 401.3,273.5 400.4,274.3 399.6,275.1 398.8,275.9 398.1,276.8 397.3,277.7 396.6,278.7 395.9,279.7 395.2,280.7 394.5,281.8 393.9,283 393.3,284.2 392.7,285.5 392.1,286.9 391.5,288.3 391,289.9 390.5,291.5 390,293.3 389.5,295.3 389.1,297.4 388.6,299.7 388.2,301.4 387.9,301.9 387.5,302.4 387.2,303.2 386.8,304 386.5,305.1 386.3,306.4 386,307.9 385.8,309.7 385.6,311.7 385.4,312.3 385.2,312.3 385.1,312.3 385,312.3 384.9,312.3 384.8,312.3 384.7,312.3 384.7,312.3 384.7,312.3 384.7,312.3 384.7,312.3 384.6,312.3 384.5,312.3 384.4,312.3 384.3,312.3 384.2,312.3 384,312.3 383.8,311.7 383.6,309.7 383.4,307.9 383.1,306.4 382.9,305.1 382.6,304 382.2,303.2 381.9,302.4 381.5,301.9 381.2,301.4 380.8,299.7 380.3,297.4 379.9,295.3 379.4,293.3 378.9,291.5 378.4,289.9 377.9,288.3 377.3,286.9 376.7,285.5 376.1,284.2 375.5,283 374.9,281.8 374.2,280.7 373.5,279.7 372.8,278.7 372.1,277.7 371.3,276.8 370.6,275.9 369.8,275.1 369,274.3 368.1,273.5 367.2,272.8 366.4,272.1 365.5,271.4 364.5,270.8 363.6,270.2 362.6,269.6 361.6,269 360.6,268.4 359.6,267.9 358.5,267.4 357.4,266.9 356.3,266.5 355.2,266 354.1,265.6 352.9,265.2 351.7,264.8 350.5,264.4 349.3,264 348,263.7 346.7,263.3 345.4,263" stroke="#800080" stroke-width="1.7" fill="none"/><path d="M428,261.1 426.6,261.4 425.2,261.7 423.8,262 422.4,262.4 421.1,262.7 419.8,263.1 418.5,263.5 417.2,263.9 416,264.3 414.8,264.7 413.6,265.2 412.4,265.7 411.3,266.2 410.2,266.7 409.1,267.3 408,267.8 406.9,268.4 405.9,269 404.9,269.7 404,270.4 403,271.1 402.1,271.8 401.2,272.6 400.3,273.4 399.4,274.2 398.6,275.1 397.8,276.1 397,277 396.3,278.1 395.5,279.1 394.8,280.3 394.1,281.5 393.5,282.7 392.8,284 392.2,285.4 391.6,286.9 391.1,288.5 390.5,290.2 390,292.1 389.5,294 389,296.2 388.6,298.6 388.2,300 387.8,300.4 387.4,300.9 387.1,301.6 386.7,302.5 386.4,303.6 386.2,304.9 385.9,306.5 385.7,308.4 385.5,308.8 385.3,308.8 385.1,308.8 385,308.8 384.9,308.8 384.8,308.8 384.7,308.8 384.7,308.8 384.7,308.8 384.7,308.8 384.7,308.8 384.6,308.8 384.5,308.8 384.4,308.8 384.3,308.8 384.1,308.8 383.9,308.8 383.7,308.4 383.5,306.5 383.2,304.9 383,303.6 382.7,302.5 382.3,301.6 382,300.9 381.6,300.4 381.2,300 380.8,298.6 380.4,296.2 379.9,294 379.4,292.1 378.9,290.2 378.3,288.5 377.8,286.9 377.2,285.4 376.6,284 375.9,282.7 375.3,281.5 374.6,280.3 373.9,279.1 373.1,278.1 372.4,277 371.6,276.1 370.8,275.1 370,274.2 369.1,273.4 368.2,272.6 367.3,271.8 366.4,271.1 365.4,270.4 364.5,269.7 363.5,269 362.5,268.4 361.4,267.8 360.3,267.3 359.2,266.7 358.1,266.2 357,265.7 355.8,265.2 354.6,264.7 353.4,264.3 352.2,263.9 350.9,263.5 349.6,263.1 348.3,262.7 347,262.4 345.6,262 344.2,261.7 342.8,261.4 341.4,261.1" stroke="#800000" stroke-width="1.7" fill="none"/><path d="M432.8,259.7 431.2,260 429.6,260.2 428.1,260.5 426.6,260.8 425.1,261.2 423.7,261.5 422.2,261.9 420.8,262.3 419.5,262.7 418.1,263.1 416.8,263.5 415.5,264 414.2,264.4 413,264.9 411.8,265.5 410.6,266 409.4,266.6 408.3,267.2 407.2,267.8 406.1,268.4 405,269.1 404,269.8 403,270.6 402,271.3 401.1,272.2 400.1,273 399.2,273.9 398.4,274.9 397.5,275.9 396.7,276.9 395.9,278 395.2,279.2 394.4,280.4 393.7,281.7 393.1,283.1 392.4,284.5 391.8,286 391.2,287.7 390.6,289.4 390,291.3 389.5,293.4 389,295.6 388.6,298 388.1,299.2 387.7,299.5 387.3,300 387,300.6 386.6,301.5 386.3,302.6 386,304 385.8,305.3 385.6,305.3 385.4,305.3 385.2,305.3 385,305.3 384.9,305.3 384.8,305.3 384.8,305.3 384.7,305.3 384.7,305.3 384.7,305.3 384.6,305.3 384.6,305.3 384.5,305.3 384.4,305.3 384.2,305.3 384,305.3 383.8,305.3 383.6,305.3 383.4,304 383.1,302.6 382.8,301.5 382.4,300.6 382.1,300 381.7,299.5 381.3,299.2 380.8,298 380.4,295.6 379.9,293.4 379.4,291.3 378.8,289.4 378.2,287.7 377.6,286 377,284.5 376.3,283.1 375.7,281.7 375,280.4 374.2,279.2 373.5,278 372.7,276.9 371.9,275.9 371,274.9 370.2,273.9 369.3,273 368.3,272.2 367.4,271.3 366.4,270.6 365.4,269.8 364.4,269.1 363.3,268.4 362.2,267.8 361.1,267.2 360,266.6 358.8,266 357.6,265.5 356.4,264.9 355.2,264.4 353.9,264 352.6,263.5 351.3,263.1 349.9,262.7 348.6,262.3 347.2,261.9 345.7,261.5 344.3,261.2 342.8,260.8 341.3,260.5 339.8,260.2 338.2,260 336.6,259.7" stroke="#008000" stroke-width="1.7" fill="none"/><path d="M438.1,258.4 436.3,258.6 434.6,258.9 432.9,259.2 431.2,259.4 429.5,259.7 427.9,260 426.3,260.4 424.8,260.7 423.3,261.1 421.8,261.5 420.3,261.9 418.9,262.3 417.4,262.8 416.1,263.2 414.7,263.7 413.4,264.2 412.1,264.8 410.8,265.3 409.6,265.9 408.4,266.6 407.2,267.2 406.1,267.9 405,268.6 403.9,269.4 402.9,270.1 401.8,271 400.8,271.8 399.9,272.8 398.9,273.7 398,274.7 397.2,275.8 396.3,276.9 395.5,278.1 394.7,279.4 394,280.7 393.2,282.1 392.5,283.6 391.9,285.3 391.2,287 390.6,288.8 390.1,290.8 389.5,292.9 389,295.2 388.5,297.8 388,298.5 387.6,298.7 387.2,299.1 386.8,299.7 386.5,300.6 386.2,301.8 385.9,301.8 385.6,301.8 385.4,301.8 385.2,301.8 385.1,301.8 384.9,301.8 384.8,301.8 384.8,301.8 384.7,301.8 384.7,301.8 384.7,301.8 384.6,301.8 384.6,301.8 384.5,301.8 384.3,301.8 384.2,301.8 384,301.8 383.8,301.8 383.5,301.8 383.2,301.8 382.9,300.6 382.6,299.7 382.2,299.1 381.8,298.7 381.4,298.5 380.9,297.8 380.4,295.2 379.9,292.9 379.3,290.8 378.8,288.8 378.2,287 377.5,285.3 376.9,283.6 376.2,282.1 375.4,280.7 374.7,279.4 373.9,278.1 373.1,276.9 372.2,275.8 371.4,274.7 370.5,273.7 369.5,272.8 368.6,271.8 367.6,271 366.5,270.1 365.5,269.4 364.4,268.6 363.3,267.9 362.2,267.2 361,266.6 359.8,265.9 358.6,265.3 357.3,264.8 356,264.2 354.7,263.7 353.3,263.2 352,262.8 350.5,262.3 349.1,261.9 347.6,261.5 346.1,261.1 344.6,260.7 343.1,260.4 341.5,260 339.9,259.7 338.2,259.4 336.5,259.2 334.8,258.9 333.1,258.6 331.3,258.4" stroke="#008080" stroke-width="1.7" fill="none"/><path d="M443.6,257.8 441.6,258 439.7,258.2 437.8,258.4 436,258.7 434.2,259 432.4,259.2 430.6,259.5 428.9,259.9 427.2,260.2 425.6,260.5 424,260.9 422.4,261.3 420.8,261.7 419.3,262.2 417.8,262.6 416.4,263.1 414.9,263.6 413.6,264.2 412.2,264.7 410.9,265.3 409.6,266 408.3,266.6 407.1,267.3 405.9,268 404.7,268.8 403.6,269.6 402.5,270.4 401.4,271.3 400.4,272.2 399.4,273.2 398.5,274.3 397.5,275.4 396.6,276.5 395.8,277.7 394.9,279 394.1,280.4 393.4,281.9 392.6,283.5 391.9,285.2 391.2,286.9 390.6,288.9 390,291 389.4,293.2 388.9,295.6 388.4,298.3 387.9,298.4 387.5,298.6 387.1,298.9 386.7,299.5 386.3,300.1 386,300.1 385.7,300.1 385.5,300.1 385.3,300.1 385.1,300.1 385,300.1 384.8,300.1 384.8,300.1 384.7,300.1 384.7,300.1 384.7,300.1 384.6,300.1 384.6,300.1 384.4,300.1 384.3,300.1 384.1,300.1 383.9,300.1 383.7,300.1 383.4,300.1 383.1,300.1 382.7,299.5 382.3,298.9 381.9,298.6 381.5,298.4 381,298.3 380.5,295.6 380,293.2 379.4,291 378.8,288.9 378.2,286.9 377.5,285.2 376.8,283.5 376,281.9 375.3,280.4 374.5,279 373.6,277.7 372.8,276.5 371.9,275.4 370.9,274.3 370,273.2 369,272.2 368,271.3 366.9,270.4 365.8,269.6 364.7,268.8 363.5,268 362.3,267.3 361.1,266.6 359.8,266 358.5,265.3 357.2,264.7 355.8,264.2 354.5,263.6 353,263.1 351.6,262.6 350.1,262.2 348.6,261.7 347,261.3 345.4,260.9 343.8,260.5 342.2,260.2 340.5,259.9 338.8,259.5 337,259.2 335.2,259 333.4,258.7 331.6,258.4 329.7,258.2 327.8,258 325.8,257.8" stroke="#0000A8" stroke-width="1.7" fill="none"/><path d="M449.8,257.3 447.7,257.4 445.6,257.6 443.5,257.8 441.4,258 439.4,258.2 437.5,258.5 435.5,258.8 433.6,259 431.8,259.3 429.9,259.7 428.1,260 426.4,260.4 424.7,260.8 423,261.2 421.3,261.6 419.7,262.1 418.2,262.5 416.6,263 415.1,263.6 413.6,264.1 412.2,264.7 410.8,265.4 409.5,266 408.1,266.7 406.9,267.4 405.6,268.2 404.4,269 403.2,269.9 402.1,270.8 401,271.7 399.9,272.7 398.9,273.8 397.9,274.9 396.9,276.1 396,277.4 395.1,278.7 394.3,280.2 393.5,281.7 392.7,283.3 391.9,285.1 391.2,287 390.6,289 389.9,291.2 389.3,293.6 388.8,296.2 388.2,298.2 387.8,298.3 387.3,298.4 386.9,298.4 386.5,298.4 386.2,298.4 385.9,298.4 385.6,298.4 385.4,298.4 385.2,298.4 385,298.4 384.9,298.4 384.8,298.4 384.7,298.4 384.7,298.4 384.7,298.4 384.6,298.4 384.5,298.4 384.4,298.4 384.2,298.4 384,298.4 383.8,298.4 383.5,298.4 383.2,298.4 382.9,298.4 382.5,298.4 382.1,298.4 381.6,298.3 381.2,298.2 380.6,296.2 380.1,293.6 379.5,291.2 378.8,289 378.2,287 377.5,285.1 376.7,283.3 375.9,281.7 375.1,280.2 374.3,278.7 373.4,277.4 372.5,276.1 371.5,274.9 370.5,273.8 369.5,272.7 368.4,271.7 367.3,270.8 366.2,269.9 365,269 363.8,268.2 362.5,267.4 361.3,266.7 359.9,266 358.6,265.4 357.2,264.7 355.8,264.1 354.3,263.6 352.8,263 351.2,262.5 349.7,262.1 348.1,261.6 346.4,261.2 344.7,260.8 343,260.4 341.3,260 339.5,259.7 337.6,259.3 335.8,259 333.9,258.8 331.9,258.5 330,258.2 328,258 325.9,257.8 323.8,257.6 321.7,257.4 319.6,257.3" stroke="#FF8000" stroke-width="1.7" fill="none"/><path d="M456.5,257 454.1,257.1 451.8,257.2 449.5,257.3 447.2,257.5 445,257.7 442.8,257.9 440.7,258.1 438.6,258.3 436.5,258.6 434.5,258.9 432.6,259.2 430.6,259.5 428.7,259.9 426.9,260.3 425.1,260.7 423.3,261.1 421.6,261.5 419.9,262 418.2,262.5 416.6,263 415,263.6 413.5,264.2 412,264.8 410.5,265.5 409.1,266.2 407.7,266.9 406.4,267.7 405.1,268.5 403.9,269.4 402.6,270.3 401.5,271.3 400.3,272.3 399.2,273.4 398.2,274.6 397.2,275.8 396.2,277.1 395.2,278.5 394.3,280 393.5,281.6 392.7,283.3 391.9,285.2 391.2,287.2 390.5,289.3 389.8,291.7 389.2,294.2 388.6,296.6 388.1,296.6 387.6,296.6 387.1,296.6 386.7,296.6 386.3,296.6 386,296.6 385.7,296.6 385.4,296.6 385.2,296.6 385,296.6 384.9,296.6 384.8,296.6 384.7,296.6 384.7,296.6 384.7,296.6 384.6,296.6 384.5,296.6 384.4,296.6 384.2,296.6 384,296.6 383.7,296.6 383.4,296.6 383.1,296.6 382.7,296.6 382.3,296.6 381.8,296.6 381.3,296.6 380.8,296.6 380.2,294.2 379.6,291.7 378.9,289.3 378.2,287.2 377.5,285.2 376.7,283.3 375.9,281.6 375.1,280 374.2,278.5 373.2,277.1 372.2,275.8 371.2,274.6 370.2,273.4 369.1,272.3 367.9,271.3 366.8,270.3 365.5,269.4 364.3,268.5 363,267.7 361.7,266.9 360.3,266.2 358.9,265.5 357.4,264.8 355.9,264.2 354.4,263.6 352.8,263 351.2,262.5 349.5,262 347.8,261.5 346.1,261.1 344.3,260.7 342.5,260.3 340.7,259.9 338.8,259.5 336.8,259.2 334.9,258.9 332.9,258.6 330.8,258.3 328.7,258.1 326.6,257.9 324.4,257.7 322.2,257.5 319.9,257.3 317.6,257.2 315.3,257.1 312.9,257" stroke="#8000FF" stroke-width="1.7" fill="none"/><path d="M461.6,257 459.1,257 456.6,257 454.1,257.1 451.7,257.2 449.3,257.3 447,257.5 444.7,257.7 442.5,257.9 440.3,258.1 438.1,258.4 436,258.7 433.9,259 431.9,259.3 429.9,259.7 428,260 426.1,260.4 424.2,260.9 422.4,261.3 420.6,261.8 418.9,262.3 417.2,262.8 415.6,263.4 413.9,264 412.4,264.7 410.9,265.3 409.4,266 408,266.8 406.6,267.6 405.2,268.4 403.9,269.3 402.7,270.3 401.4,271.3 400.3,272.4 399.1,273.5 398.1,274.7 397,276 396,277.4 395,278.9 394.1,280.4 393.2,282.1 392.4,283.9 391.6,285.9 390.9,288 390.2,290.3 389.5,292.9 388.9,294.9 388.3,294.9 387.8,294.9 387.3,294.9 386.8,294.9 386.4,294.9 386.1,294.9 385.7,294.9 385.5,294.9 385.2,294.9 385,294.9 384.9,294.9 384.8,294.9 384.7,294.9 384.7,294.9 384.7,294.9 384.6,294.9 384.5,294.9 384.4,294.9 384.2,294.9 383.9,294.9 383.7,294.9 383.3,294.9 383,294.9 382.6,294.9 382.1,294.9 381.6,294.9 381.1,294.9 380.5,294.9 379.9,292.9 379.2,290.3 378.5,288 377.8,285.9 377,283.9 376.2,282.1 375.3,280.4 374.4,278.9 373.4,277.4 372.4,276 371.3,274.7 370.3,273.5 369.1,272.4 368,271.3 366.7,270.3 365.5,269.3 364.2,268.4 362.8,267.6 361.4,266.8 360,266 358.5,265.3 357,264.7 355.5,264 353.8,263.4 352.2,262.8 350.5,262.3 348.8,261.8 347,261.3 345.2,260.9 343.3,260.4 341.4,260 339.5,259.7 337.5,259.3 335.5,259 333.4,258.7 331.3,258.4 329.1,258.1 326.9,257.9 324.7,257.7 322.4,257.5 320.1,257.3 317.7,257.2 315.3,257.1 312.8,257 310.3,257 307.8,257" stroke="#FF0080" stroke-width="1.7" fill="none"/></g>
<rect x="311.1" y="254" width="147.2" height="117.4" fill="none" stroke="#000" stroke-width="1.8"/>
<text x="309.1" y="373.4" font-size="5.6" text-anchor="end" font-weight="bold" fill="#222">10<tspan font-size="3.9" dy="-2">-9</tspan></text>
<text x="309.1" y="356" font-size="5.6" text-anchor="end" font-weight="bold" fill="#222">10<tspan font-size="3.9" dy="-2">-8</tspan></text>
<text x="309.1" y="338.6" font-size="5.6" text-anchor="end" font-weight="bold" fill="#222">10<tspan font-size="3.9" dy="-2">-7</tspan></text>
<text x="309.1" y="321.2" font-size="5.6" text-anchor="end" font-weight="bold" fill="#222">10<tspan font-size="3.9" dy="-2">-6</tspan></text>
<text x="309.1" y="303.8" font-size="5.6" text-anchor="end" font-weight="bold" fill="#222">10<tspan font-size="3.9" dy="-2">-5</tspan></text>
<text x="309.1" y="286.4" font-size="5.6" text-anchor="end" font-weight="bold" fill="#222">10<tspan font-size="3.9" dy="-2">-4</tspan></text>
<text x="309.1" y="269" font-size="5.6" text-anchor="end" font-weight="bold" fill="#222">10<tspan font-size="3.9" dy="-2">-3</tspan></text>
<text x="311.1" y="380.5" font-size="5.6" text-anchor="middle" font-weight="bold" fill="#222">-20</text>
<text x="329.5" y="380.5" font-size="5.6" text-anchor="middle" font-weight="bold" fill="#222">-15</text>
<text x="347.9" y="380.5" font-size="5.6" text-anchor="middle" font-weight="bold" fill="#222">-10</text>
<text x="366.3" y="380.5" font-size="5.6" text-anchor="middle" font-weight="bold" fill="#222">-5</text>
<text x="384.7" y="380.5" font-size="5.6" text-anchor="middle" font-weight="bold" fill="#222">0</text>
<text x="403.1" y="380.5" font-size="5.6" text-anchor="middle" font-weight="bold" fill="#222">5</text>
<text x="421.5" y="380.5" font-size="5.6" text-anchor="middle" font-weight="bold" fill="#222">10</text>
<text x="439.9" y="380.5" font-size="5.6" text-anchor="middle" font-weight="bold" fill="#222">15</text>
<text x="458.3" y="380.5" font-size="5.6" text-anchor="middle" font-weight="bold" fill="#222">20</text>
<path d="M311.1,371.4h2M311.1,354h2M311.1,336.6h2M311.1,319.2h2M311.1,301.8h2M311.1,284.4h2M311.1,267h2M311.1,371.4v-2M329.5,371.4v-2M347.9,371.4v-2M366.3,371.4v-2M384.7,371.4v-2M403.1,371.4v-2M421.5,371.4v-2M439.9,371.4v-2M458.3,371.4v-2" stroke="#000" stroke-width="1" fill="none"/>
<text x="384.7" y="391.5" font-size="8.5" font-weight="bold" text-anchor="middle" textLength="62" lengthAdjust="spacingAndGlyphs" fill="#222">Voltage (Volts)</text>
<text transform="translate(289,313) rotate(-90)" font-size="7.5" font-weight="bold" text-anchor="middle" textLength="50" lengthAdjust="spacingAndGlyphs" fill="#222">Current (A)</text>
</g>
<g font-family='"Liberation Sans", Arial, sans-serif'>
<path d="M108.2,949.5L84.6,703.2M121.8,942.6L100.1,697.6M135.2,935.8L115.3,692M148.3,929.2L130.3,686.6M161.3,922.6L145,681.2M174.2,916.1L159.4,675.9M186.8,909.7L173.6,670.7M199.2,903.4L187.6,665.6M211.5,897.1L201.4,660.6M223.6,891L215,655.6M235.5,885L228.3,650.8M247.2,879L241.4,646M258.8,873.1L254.3,641.3M270.2,867.4L267.1,636.6M281.5,861.6L279.6,632M292.6,856L291.9,627.5M90.7,920.7L292.5,822.5M292.5,822.5L487.7,923.9M86.8,883.5L292.4,788M292.4,788L491.2,886.3M82.9,844.9L292.3,752.2M292.3,752.2L494.9,847.3M78.8,804.9L292.2,715.3M292.2,715.3L498.6,806.8M74.5,763.3L292.1,677.1M292.1,677.1L502.6,764.7M70.1,720.1L292,637.6M292,637.6L506.7,720.9M309.7,865.3L310.9,634.8M327.2,874.8L330.4,642.2M345.1,884.5L350.4,649.8M363.5,894.5L371,657.6M382.4,904.7L392.1,665.7M401.7,915.2L413.9,674M421.5,926L436.3,682.5M441.9,937.1L459.4,691.3M462.8,948.4L483.2,700.4M484.3,960.1L507.7,709.7M94.4,956.5L282.5,1091M108.2,949.5L296.7,1081.8M121.8,942.6L310.8,1072.7M135.2,935.8L324.6,1063.7M148.3,929.2L338.1,1054.9M161.3,922.6L351.4,1046.3M174.2,916.1L364.5,1037.8M186.8,909.7L377.4,1029.5M199.2,903.4L390.1,1021.2M211.5,897.1L402.5,1013.2M223.6,891L414.8,1005.2M235.5,885L426.9,997.4M247.2,879L438.7,989.7M258.8,873.1L450.4,982.1M270.2,867.4L461.9,974.7M281.5,861.6L473.2,967.3M292.6,856L484.3,960.1M110.9,968.3L309.7,865.3M127.8,980.5L327.2,874.8M145.2,992.9L345.1,884.5M163.2,1005.7L363.5,894.5M181.6,1018.9L382.4,904.7M200.6,1032.5L401.7,915.2M220.2,1046.5L421.5,926M240.3,1060.9L441.9,937.1M261.1,1075.7L462.8,948.4M282.5,1091L484.3,960.1" stroke="#D8D8D8" stroke-width="1" fill="none"/><path d="M68.9,709L291.9,627.5M291.9,627.5L507.7,709.7M507.7,709.7L484.3,960.1M292.6,856L291.9,627.5M94.4,956.5L292.6,856M292.6,856L484.3,960.1" stroke="#8A8A8A" stroke-width="1" fill="none"/>
<path d="M315.5,649.6 318.8,652 322,654.4 325.2,656.9 328.3,659.4 331.3,661.9 334.3,664.4 337.2,666.9 340.1,669.5 342.9,672 345.6,674.6 348.3,677.3 350.9,679.9 353.4,682.6 341.8,687.4 339.3,684.7 336.7,682 334,679.4 331.3,676.8 328.4,674.2 325.6,671.6 322.6,669 319.6,666.5 316.6,664 313.5,661.5 310.3,659 307.1,656.5 303.8,654ZM353.4,682.6 355.9,685.3 358.3,688.1 360.6,690.9 362.8,693.7 365,696.6 367,699.6 369,702.7 370.9,705.8 372.8,709 374.5,712.3 376.2,715.7 377.7,719.2 379.2,722.9 367.7,728 366.2,724.3 364.6,720.8 363,717.3 361.2,714 359.4,710.8 357.5,707.7 355.5,704.6 353.4,701.6 351.2,698.7 349,695.8 346.7,693 344.3,690.2 341.8,687.4ZM379.2,722.9 380.6,726.7 381.8,730.8 383,735 384.1,739.6 385,744.4 385.9,749.6 386.6,755.2 387.2,761.4 387.6,768.2 387.9,775.8 388.1,784.1 388.1,793 388,801.3 376.9,806.9 377,798.6 376.9,789.6 376.7,781.3 376.3,773.7 375.9,766.8 375.2,760.6 374.5,754.9 373.6,749.7 372.6,744.8 371.6,740.3 370.4,736 369.1,731.9 367.7,728ZM388,801.3 388,805.5 376.9,811.2 376.9,806.9ZM376.9,811.2 377.1,806.9 377.7,798.9 378.4,790.3 379.2,782.4 380.1,775.4 381,769.2 382.1,763.7 383.2,758.8 394.6,753.4 393.4,758.3 392.3,763.7 391.3,769.9 390.4,776.9 389.6,784.8 388.8,793.3 388.2,801.4 388,805.5ZM383.2,758.8 384.5,754.5 385.8,750.6 387.2,747.1 388.7,743.9 390.2,741 391.9,738.4 393.7,736.1 395.5,733.9 397.5,731.9 399.5,730.1 401.6,728.5 403.8,727 406.1,725.7 417.7,720.4 415.4,721.7 413.2,723.2 411,724.8 409,726.6 407,728.6 405.2,730.8 403.4,733.1 401.7,735.7 400.1,738.6 398.6,741.7 397.2,745.2 395.8,749.1 394.6,753.4ZM406.1,725.7 408.5,724.5 420.1,719.2 417.7,720.4ZM420.1,719.2 422.6,718.1 425.2,717.1 427.9,716.3 430.7,715.5 433.6,714.8 436.5,714.3 439.6,713.8 442.8,713.4 446,713.1 449.4,712.9 452.8,712.7 456.4,712.6 460,712.6 448.4,718.1 444.7,718.1 441.2,718.1 437.7,718.3 434.4,718.5 431.1,718.8 428,719.2 424.9,719.6 421.9,720.2 419.1,720.8 416.3,721.6 413.6,722.5 411,723.4 408.5,724.5ZM460,712.6 463.8,712.7 467.7,712.8 471.6,713 475.7,713.3 479.8,713.6 468.2,719.2 464,718.8 459.9,718.5 456,718.3 452.1,718.1 448.4,718.1Z" fill="#FF0080" stroke="#FF0080" stroke-width="0.6" stroke-linejoin="round"/>
<path d="M310.9,664.6 313.9,666.9 316.9,669.2 319.9,671.5 322.7,673.8 325.5,676.2 328.3,678.5 331,680.9 333.6,683.3 336.2,685.7 338.8,688.1 341.2,690.6 343.6,693.1 345.9,695.6 334.2,700.6 331.8,698 329.4,695.5 327,693 324.4,690.6 321.8,688.1 319.2,685.7 316.5,683.3 313.7,680.9 310.9,678.6 308,676.2 305.1,673.9 302.1,671.5 299.1,669.2ZM345.9,695.6 348.2,698.2 350.4,700.7 352.5,703.4 354.6,706 356.6,708.8 358.5,711.5 360.3,714.4 362.1,717.3 363.8,720.3 365.4,723.4 366.9,726.6 368.4,729.9 369.7,733.3 358.1,738.6 356.7,735.1 355.2,731.8 353.7,728.6 352.1,725.5 350.4,722.5 348.6,719.5 346.8,716.7 344.8,713.9 342.8,711.1 340.8,708.4 338.6,705.8 336.4,703.1 334.2,700.6ZM369.7,733.3 371,736.9 372.2,740.6 373.3,744.6 374.2,748.8 375.1,753.3 375.9,758.2 376.6,763.4 377.2,769.2 377.6,775.5 377.9,782.5 378.1,790.3 378.2,798.4 378.1,806 366.8,811.7 366.8,804.1 366.7,795.9 366.5,788.1 366.2,781.1 365.7,774.7 365.1,768.9 364.4,763.6 363.6,758.7 362.7,754.2 361.6,750 360.5,746 359.3,742.2 358.1,738.6ZM378.1,806 378.1,809.9 366.8,815.6 366.8,811.7ZM366.8,815.6 367,811.8 367.5,804.4 368.1,796.5 368.8,789.2 369.6,782.7 370.4,776.9 381.9,771.4 381,777.1 380.2,783.6 379.5,790.9 378.8,798.7 378.3,806.1 378.1,809.9ZM370.4,776.9 371.4,771.8 372.4,767.3 373.5,763.2 374.7,759.6 376,756.3 377.3,753.4 378.8,750.7 380.3,748.3 381.9,746.1 383.6,744.1 385.3,742.3 387.2,740.6 389.1,739.1 400.8,733.7 398.9,735.2 397,736.9 395.2,738.7 393.5,740.7 391.9,742.9 390.4,745.3 388.9,748 387.6,750.9 386.3,754.2 385.1,757.8 383.9,761.8 382.9,766.3 381.9,771.4ZM389.1,739.1 391.1,737.7 393.2,736.5 395.4,735.4 407.2,730 405,731.1 402.8,732.3 400.8,733.7ZM407.2,730 409.4,729 411.8,728.1 414.2,727.3 416.8,726.6 419.4,726 422.1,725.5 424.9,725 427.8,724.7 430.7,724.4 433.8,724.2 436.9,724 440.1,724 443.5,724 431.6,729.5 428.3,729.5 425.1,729.6 421.9,729.7 418.9,729.9 415.9,730.1 413.1,730.5 410.3,730.9 407.6,731.4 405,732 402.5,732.7 400,733.5 397.7,734.4 395.4,735.4ZM443.5,724 446.9,724.1 450.4,724.2 454,724.4 457.6,724.7 461.4,725 449.6,730.7 445.8,730.3 442.1,730 438.5,729.8 435,729.6 431.6,729.5Z" fill="#8000FF" stroke="#8000FF" stroke-width="0.6" stroke-linejoin="round"/>
<path d="M305.5,671 308.3,673.3 311,675.5 313.7,677.8 316.3,680.1 318.9,682.4 321.4,684.7 323.8,687 326.3,689.4 328.6,691.8 330.9,694.2 333.1,696.6 335.3,699 337.4,701.5 325.5,706.6 323.3,704.1 321.2,701.6 318.9,699.2 316.6,696.7 314.3,694.3 311.8,691.9 309.4,689.6 306.8,687.2 304.3,684.9 301.7,682.6 299,680.3 296.3,678 293.5,675.8ZM337.4,701.5 339.5,704.1 341.5,706.6 343.4,709.2 345.3,711.9 347.1,714.6 348.8,717.4 350.5,720.2 352.1,723.1 353.7,726.1 355.1,729.2 356.5,732.4 357.8,735.8 359,739.2 347.2,744.6 346,741.1 344.6,737.8 343.2,734.5 341.8,731.4 340.2,728.4 338.6,725.5 336.9,722.6 335.2,719.8 333.4,717.1 331.5,714.4 329.5,711.7 327.5,709.1 325.5,706.6ZM359,739.2 360.2,742.9 361.3,746.7 362.3,750.7 363.2,755 364,759.6 364.7,764.5 365.3,769.8 365.8,775.7 366.2,782.1 366.5,789.3 366.7,797.1 366.8,805.3 366.7,812.9 355.2,818.7 355.2,811.1 355.1,802.8 354.9,794.9 354.6,787.8 354.1,781.3 353.6,775.4 353,770 352.2,765.1 351.4,760.5 350.5,756.1 349.5,752.1 348.4,748.3 347.2,744.6ZM366.7,812.9 366.7,816.8 355.2,822.6 355.2,818.7ZM355.2,822.6 355.4,818.8 355.8,811.4 356.4,803.4 357,795.9 357.7,789.2 358.4,783.3 370.1,777.7 369.3,783.6 368.6,790.2 367.9,797.7 367.3,805.6 366.9,813 366.7,816.8ZM358.4,783.3 359.3,778 360.2,773.4 361.2,769.2 362.3,765.4 363.4,762 364.6,758.9 365.9,756.1 367.3,753.6 368.7,751.2 370.2,749.1 371.8,747.1 373.5,745.4 375.2,743.7 387.2,738.2 385.4,739.9 383.7,741.6 382.1,743.6 380.6,745.7 379.1,748.1 377.7,750.6 376.4,753.4 375.2,756.5 374,759.9 373,763.6 371.9,767.8 371,772.4 370.1,777.7ZM375.2,743.7 377.1,742.2 379,740.8 380.9,739.6 383,738.5 385.1,737.4 397.1,731.9 394.9,733 392.9,734.1 390.9,735.4 389,736.7 387.2,738.2ZM397.1,731.9 399.3,731 401.5,730.2 403.9,729.4 406.3,728.8 408.8,728.2 411.4,727.7 414.1,727.3 416.8,726.9 419.7,726.7 422.6,726.5 425.5,726.3 428.6,726.2 431.8,726.2 419.7,731.8 416.6,731.8 413.5,731.9 410.5,732 407.6,732.2 404.8,732.5 402.1,732.8 399.4,733.3 396.8,733.7 394.3,734.3 391.9,735 389.6,735.7 387.3,736.5 385.1,737.4ZM431.8,726.2 435,726.3 438.3,726.4 441.7,726.5 429.6,732.2 426.2,732 422.9,731.9 419.7,731.8Z" fill="#FF8000" stroke="#FF8000" stroke-width="0.6" stroke-linejoin="round"/>
<path d="M297.2,672.4 299.9,674.6 302.5,676.9 305,679.2 307.5,681.5 309.9,683.8 312.3,686.1 314.6,688.4 316.9,690.8 319.1,693.2 321.3,695.6 323.4,698.1 325.5,700.6 327.5,703.1 315.3,708.2 313.3,705.7 311.2,703.2 309.1,700.7 306.9,698.3 304.7,695.8 302.4,693.4 300.1,691.1 297.7,688.7 295.2,686.4 292.7,684.1 290.2,681.8 287.6,679.5 285,677.2ZM327.5,703.1 329.5,705.7 331.4,708.3 333.2,710.9 335,713.6 336.7,716.4 338.3,719.2 339.9,722.1 341.4,725.1 342.9,728.2 344.3,731.3 345.6,734.6 346.8,738 348,741.6 335.9,747 334.8,743.5 333.5,740 332.2,736.7 330.8,733.5 329.3,730.4 327.8,727.4 326.2,724.5 324.5,721.6 322.8,718.9 321,716.1 319.2,713.5 317.3,710.8 315.3,708.2ZM348,741.6 349.1,745.3 350.1,749.3 351,753.4 351.9,757.8 352.7,762.6 353.4,767.6 354,773.2 354.5,779.2 354.9,785.9 355.2,793.2 355.3,801.2 355.4,809.6 355.4,817.3 343.7,823.2 343.7,815.5 343.6,807 343.4,798.9 343,791.6 342.6,784.9 342.1,778.8 341.4,773.3 340.7,768.1 339.9,763.4 339.1,758.9 338.1,754.8 337.1,750.8 335.9,747ZM355.4,817.3 355.4,821.2 343.7,827.1 343.7,823.2ZM343.7,827.1 343.9,823.3 344.3,815.7 344.7,807.6 345.3,799.9 345.9,793 357.8,787.2 357.1,794.1 356.5,801.8 356,809.9 355.6,817.4 355.4,821.2ZM345.9,793 346.6,786.8 347.4,781.3 348.3,776.5 349.2,772.1 350.2,768.1 351.3,764.5 352.4,761.3 353.6,758.3 354.9,755.6 356.2,753.1 357.7,750.8 359.1,748.7 360.7,746.8 372.8,741.2 371.2,743.2 369.7,745.3 368.3,747.5 366.9,750 365.6,752.7 364.4,755.7 363.3,758.9 362.2,762.5 361.2,766.4 360.2,770.8 359.3,775.7 358.5,781.1 357.8,787.2ZM360.7,746.8 362.3,745 364,743.4 365.8,741.9 367.7,740.5 369.6,739.3 371.6,738.1 373.6,737.1 385.8,731.5 383.8,732.6 381.8,733.7 379.8,735 378,736.3 376.2,737.8 374.5,739.5 372.8,741.2ZM385.8,731.5 388,730.5 390.2,729.7 392.5,728.9 394.9,728.2 397.3,727.6 399.8,727 402.4,726.6 405,726.2 407.8,725.9 410.6,725.6 413.4,725.4 416.4,725.3 419.4,725.2 407.1,730.9 404.1,730.9 401.1,731.1 398.3,731.2 395.5,731.5 392.8,731.8 390.1,732.2 387.5,732.7 385,733.2 382.6,733.8 380.3,734.5 378,735.3 375.8,736.1 373.6,737.1ZM419.4,725.2 422.5,725.2 425.7,725.2 413.4,730.9 410.2,730.9 407.1,730.9Z" fill="#0000A8" stroke="#0000A8" stroke-width="0.6" stroke-linejoin="round"/>
<path d="M289.1,669.8 291.5,672 293.9,674.3 296.2,676.6 298.5,678.9 300.8,681.3 303,683.6 305.1,686 307.2,688.4 309.3,690.9 311.3,693.3 313.2,695.8 315.1,698.4 317,701 304.5,706.2 302.7,703.6 300.8,701 298.8,698.5 296.8,696 294.7,693.5 292.6,691.1 290.5,688.6 288.3,686.3 286,683.9 283.7,681.6 281.4,679.2 279,676.9 276.6,674.7ZM317,701 318.8,703.6 320.5,706.3 322.2,709 323.8,711.8 325.4,714.7 326.9,717.6 328.3,720.7 329.7,723.8 331.1,727 332.3,730.3 333.5,733.7 334.7,737.3 335.8,741.1 323.5,746.6 322.4,742.8 321.2,739.2 320,735.7 318.7,732.4 317.4,729.1 316,726 314.5,723 313,720 311.4,717.1 309.8,714.3 308.1,711.5 306.3,708.8 304.5,706.2ZM335.8,741.1 336.8,745 337.7,749.2 338.6,753.6 339.4,758.2 340.1,763.3 340.7,768.7 341.3,774.5 341.7,780.9 342.1,788 342.4,795.8 342.6,804.2 342.7,813.1 342.7,821.1 330.8,827.1 330.8,819 330.6,810.1 330.4,801.6 330.1,793.8 329.7,786.7 329.2,780.2 328.6,774.3 327.9,768.9 327.2,763.9 326.4,759.1 325.5,754.7 324.5,750.5 323.5,746.6ZM342.7,821.1 342.7,825.2 330.9,831.1 330.8,827.1ZM330.9,831.1 331,827.1 331.3,819.2 331.7,810.6 332.2,802.4 332.7,795.1 333.4,788.5 345.4,782.7 344.8,789.3 344.2,796.6 343.6,804.8 343.2,813.3 342.9,821.2 342.7,825.2ZM333.4,788.5 334.1,782.6 334.8,777.3 335.6,772.5 336.5,768.2 337.5,764.3 338.5,760.7 339.6,757.5 340.8,754.4 342,751.7 343.3,749.1 344.6,746.8 346,744.6 347.5,742.5 359.9,737 358.4,739 357,741.2 355.6,743.5 354.3,746.1 353,748.8 351.9,751.8 350.8,755.1 349.7,758.6 348.7,762.5 347.8,766.8 347,771.6 346.2,776.8 345.4,782.7ZM347.5,742.5 349.1,740.7 350.7,738.9 352.4,737.3 354.1,735.8 355.9,734.5 357.8,733.2 359.7,732 361.7,730.9 363.8,729.9 376.3,724.3 374.2,725.3 372.2,726.4 370.2,727.6 368.3,728.9 366.5,730.2 364.8,731.7 363.1,733.3 361.4,735.1 359.9,737ZM376.3,724.3 378.4,723.4 380.6,722.6 382.9,721.8 385.3,721.2 387.7,720.5 390.1,720 392.7,719.5 395.3,719.1 398,718.8 400.7,718.5 403.6,718.2 406.4,718.1 393.9,723.8 391,723.9 388.2,724.2 385.4,724.4 382.7,724.8 380.1,725.2 377.6,725.6 375.1,726.2 372.7,726.8 370.4,727.5 368.1,728.2 365.9,729 363.8,729.9Z" fill="#008080" stroke="#008080" stroke-width="0.6" stroke-linejoin="round"/>
<path d="M282.6,702.2 284.7,704.2 286.8,706.2 288.8,708.1 290.8,710.1 292.8,712.1 294.7,714.1 296.6,716.2 298.5,718.2 300.3,720.3 302,722.4 303.7,724.6 305.4,726.7 307,728.9 294.5,734.3 292.9,732.1 291.2,729.9 289.5,727.8 287.7,725.7 285.9,723.6 284.1,721.5 282.2,719.4 280.2,717.4 278.3,715.3 276.3,713.3 274.2,711.3 272.1,709.4 270,707.4ZM307,728.9 308.6,731.1 310.1,733.4 311.6,735.7 313,738 314.4,740.5 315.8,742.9 317,745.4 318.3,748 319.5,750.7 320.6,753.5 321.6,756.3 322.7,759.3 323.6,762.4 311.2,768.1 310.3,764.9 309.2,761.9 308.1,759.1 307,756.3 305.8,753.6 304.6,751 303.3,748.4 301.9,746 300.6,743.5 299.1,741.2 297.6,738.8 296.1,736.6 294.5,734.3ZM323.6,762.4 324.5,765.6 325.4,769.1 326.1,772.7 326.9,776.5 327.5,780.6 328.1,785.1 328.6,789.9 329.1,795.1 329.4,800.9 329.7,807.2 329.9,814.1 330.1,821.2 330.1,827.7 318.1,833.7 318,827.2 317.8,820.1 317.6,813.2 317.2,806.8 316.8,801 316.4,795.7 315.8,790.9 315.2,786.4 314.5,782.3 313.8,778.4 313,774.8 312.1,771.3 311.2,768.1ZM330.1,827.7 330.2,830.9 318.1,836.9 318.1,833.7ZM318.1,836.9 318.2,833.8 318.4,827.5 318.7,820.5 319.1,813.9 319.6,808 320.1,802.6 320.6,797.8 332.9,792 332.3,796.7 331.8,802 331.3,808 330.9,814.6 330.5,821.5 330.3,827.7 330.2,830.9ZM320.6,797.8 321.3,793.6 322,789.7 322.7,786.2 323.5,783.1 324.4,780.2 325.3,777.6 326.3,775.2 327.3,773 328.4,771 329.6,769.1 330.8,767.4 332.1,765.8 333.4,764.4 345.9,758.6 344.6,760.1 343.3,761.6 342,763.3 340.9,765.2 339.8,767.2 338.7,769.4 337.7,771.8 336.8,774.4 335.9,777.3 335,780.4 334.3,783.9 333.6,787.7 332.9,792ZM333.4,764.4 334.8,763 336.2,761.8 337.7,760.7 339.3,759.6 340.9,758.7 342.6,757.8 355.1,752 353.4,752.9 351.8,753.8 350.3,754.9 348.7,756 347.3,757.3 345.9,758.6ZM355.1,752 356.8,751.2 358.6,750.5 360.5,749.9 362.4,749.3 364.3,748.8 366.3,748.3 368.4,747.9 370.5,747.6 372.7,747.3 375,747.1 377.3,747 379.6,746.8 382,746.8 369.4,752.7 367,752.7 364.6,752.8 362.3,753 360.1,753.2 357.9,753.4 355.8,753.8 353.7,754.1 351.7,754.6 349.8,755.1 347.9,755.7 346.1,756.3 344.3,757 342.6,757.8ZM382,746.8 384.5,746.8 371.8,752.7 369.4,752.7Z" fill="#008000" stroke="#008000" stroke-width="0.6" stroke-linejoin="round"/>
<path d="M274.2,711 276.2,712.9 278.1,714.8 280,716.8 281.9,718.7 283.7,720.7 285.5,722.7 287.2,724.7 288.9,726.8 290.6,728.9 292.2,730.9 293.8,733.1 295.4,735.2 296.9,737.4 284.2,742.9 282.6,740.7 281.1,738.6 279.5,736.4 277.9,734.3 276.2,732.2 274.5,730.2 272.7,728.1 270.9,726.1 269.1,724.1 267.2,722.1 265.3,720.1 263.4,718.2 261.4,716.2ZM296.9,737.4 298.3,739.6 299.8,741.9 301.1,744.2 302.5,746.5 303.7,748.9 305,751.4 306.2,753.9 307.3,756.5 308.4,759.2 309.5,762 310.5,764.8 311.4,767.8 312.3,771 299.7,776.7 298.8,773.6 297.8,770.6 296.8,767.7 295.8,764.9 294.7,762.2 293.5,759.6 292.3,757 291.1,754.5 289.8,752.1 288.4,749.7 287.1,747.4 285.6,745.2 284.2,742.9ZM312.3,771 313.1,774.2 313.9,777.7 314.7,781.3 315.3,785.2 316,789.4 316.5,793.9 317,798.7 317.4,804 317.8,809.8 318.1,816.2 318.3,823.1 318.5,830.2 318.6,836.5 306.3,842.7 306.2,836.3 306,829.2 305.8,822.2 305.4,815.9 305,810 304.6,804.7 304,799.8 303.5,795.3 302.8,791.1 302.1,787.2 301.4,783.5 300.6,780.1 299.7,776.7ZM318.6,836.5 318.6,839.7 306.4,845.8 306.3,842.7ZM306.4,845.8 306.5,842.7 306.6,836.5 306.9,829.6 307.2,823 307.6,816.9 319.9,810.9 319.5,816.9 319.2,823.5 318.9,830.4 318.7,836.6 318.6,839.7ZM307.6,816.9 308,811.5 308.5,806.7 309.1,802.3 309.7,798.4 310.4,794.8 311.1,791.6 311.9,788.7 312.7,786 313.6,783.5 314.5,781.2 315.5,779.1 316.6,777.1 317.7,775.4 330.4,769.5 329.2,771.3 328.2,773.2 327.2,775.3 326.2,777.6 325.3,780 324.4,782.7 323.6,785.7 322.9,788.9 322.2,792.4 321.5,796.3 321,800.7 320.4,805.5 319.9,810.9ZM317.7,775.4 318.9,773.7 320.1,772.2 321.3,770.7 322.7,769.4 324,768.2 325.4,767.1 326.9,766.1 328.4,765.1 330,764.3 331.6,763.5 344.4,757.6 342.8,758.4 341.2,759.2 339.7,760.2 338.2,761.2 336.7,762.3 335.4,763.6 334,764.9 332.8,766.3 331.5,767.8 330.4,769.5ZM344.4,757.6 346.1,756.9 347.8,756.2 349.6,755.6 351.5,755.1 353.4,754.6 355.3,754.2 357.3,753.8 359.4,753.5 361.5,753.3 363.6,753.1 365.8,752.9 368.1,752.8 355.2,758.8 353,758.9 350.8,759 348.6,759.2 346.5,759.5 344.5,759.8 342.5,760.1 340.6,760.5 338.7,761 336.8,761.5 335.1,762.1 333.3,762.7 331.6,763.5Z" fill="#800000" stroke="#800000" stroke-width="0.6" stroke-linejoin="round"/>
<path d="M266,717.9 267.8,719.8 269.6,721.8 271.4,723.7 273.1,725.7 274.8,727.6 276.4,729.6 278,731.7 279.6,733.7 281.1,735.8 282.7,737.9 284.1,740 285.5,742.1 286.9,744.3 274,750 272.6,747.8 271.2,745.6 269.7,743.4 268.2,741.3 266.6,739.3 265.1,737.2 263.4,735.2 261.8,733.1 260.1,731.1 258.4,729.2 256.6,727.2 254.8,725.3 253,723.3ZM286.9,744.3 288.3,746.6 289.6,748.8 290.9,751.1 292.1,753.5 293.3,755.9 294.4,758.4 295.5,761 296.6,763.6 297.6,766.4 298.6,769.2 299.5,772.1 300.4,775.2 301.2,778.3 288.4,784.3 287.6,781 286.7,778 285.7,775 284.7,772.2 283.7,769.4 282.6,766.8 281.5,764.2 280.4,761.7 279.2,759.2 277.9,756.9 276.7,754.5 275.3,752.2 274,750ZM301.2,778.3 302,781.7 302.7,785.2 303.4,789 304,792.9 304.6,797.2 305.2,801.8 305.6,806.7 306,812.1 306.4,818 306.7,824.5 306.9,831.5 294.4,837.7 294.2,830.7 293.8,824.2 293.4,818.2 293,812.8 292.5,807.8 291.9,803.2 291.3,798.9 290.7,794.9 290,791.2 289.2,787.6 288.4,784.3ZM306.9,831.5 307.1,838.6 307.2,844.9 307.3,848 294.9,854.3 294.8,851.2 294.7,844.8 294.4,837.7ZM294.9,854.3 294.9,851.2 295,845 295.2,838.1 295.5,831.4 295.8,825.2 296.2,819.6 296.6,814.6 297.1,810.2 297.6,806.1 298.2,802.4 298.9,799 299.6,796 300.3,793.1 313.1,787.1 312.3,789.9 311.6,793 310.9,796.3 310.3,800 309.8,804.1 309.2,808.5 308.8,813.5 308.4,819 308,825.2 307.7,831.9 307.5,838.8 307.3,844.9 307.3,848ZM300.3,793.1 301.1,790.5 302,788.1 302.9,785.9 303.8,783.8 304.8,781.9 305.9,780.2 307,778.5 308.1,777 309.3,775.6 310.5,774.3 311.8,773 313.2,771.9 314.6,770.8 327.5,764.9 326.1,765.9 324.8,767.1 323.5,768.3 322.2,769.6 321,771 319.9,772.6 318.8,774.2 317.7,776 316.7,777.9 315.7,779.9 314.8,782.1 313.9,784.5 313.1,787.1ZM314.6,770.8 316,769.9 317.5,769 319,768.2 320.6,767.4 333.6,761.4 332,762.2 330.5,763 329,763.9 327.5,764.9ZM333.6,761.4 335.2,760.7 336.9,760.1 338.6,759.5 340.4,759 342.2,758.5 344.1,758.1 346,757.7 348,757.4 350,757.2 352,756.9 338.9,763 336.9,763.2 334.9,763.5 332.9,763.8 331,764.1 329.1,764.5 327.3,765 325.6,765.5 323.9,766.1 322.2,766.7 320.6,767.4Z" fill="#800080" stroke="#800080" stroke-width="0.6" stroke-linejoin="round"/>
<path d="M256,723.5 257.7,725.4 259.3,727.3 261,729.2 262.6,731.1 264.1,733.1 265.7,735 267.2,737 268.6,739 270.1,741.1 271.5,743.1 272.8,745.2 274.1,747.4 275.4,749.5 262.3,755.3 261,753.1 259.6,750.9 258.3,748.8 256.9,746.7 255.4,744.7 253.9,742.7 252.4,740.6 250.9,738.7 249.3,736.7 247.7,734.8 246.1,732.8 244.4,730.9 242.7,729ZM275.4,749.5 276.7,751.8 277.9,754 279.1,756.3 280.2,758.7 281.3,761.1 282.4,763.6 283.4,766.1 284.4,768.7 285.4,771.4 286.3,774.3 287.2,777.2 288,780.2 288.8,783.4 275.7,789.4 274.9,786.2 274.1,783.1 273.2,780.2 272.3,777.4 271.3,774.6 270.3,772 269.3,769.4 268.2,766.9 267.1,764.5 265.9,762.1 264.8,759.8 263.5,757.5 262.3,755.3ZM288.8,783.4 289.5,786.8 290.2,790.3 290.8,794 291.5,798 292,802.3 292.5,806.9 293,811.8 293.4,817.2 293.8,823.1 294.1,829.5 281.3,835.8 281,829.3 280.6,823.4 280.1,818 279.6,813 279.1,808.4 278.5,804.1 277.9,800.1 277.2,796.4 276.5,792.8 275.7,789.4ZM294.1,829.5 294.3,836.4 294.5,843.3 294.7,849.4 294.7,852.4 282.1,858.8 282,855.8 281.9,849.7 281.6,842.7 281.3,835.8ZM282.1,858.8 282.1,855.9 282.2,849.9 282.3,843.1 282.5,836.4 282.8,830.3 283.1,824.7 283.4,819.7 283.9,815.2 284.3,811.1 284.9,807.4 285.4,804 286.1,800.8 286.7,798 299.8,791.8 299.1,794.7 298.4,797.8 297.8,801.2 297.3,804.9 296.8,809 296.3,813.5 295.9,818.5 295.6,824 295.3,830.1 295.1,836.7 294.9,843.5 294.8,849.5 294.7,852.4ZM286.7,798 287.5,795.3 288.2,792.9 289,790.6 289.9,788.5 290.8,786.5 291.8,784.7 292.7,783 293.8,781.4 294.9,779.9 296,778.6 297.2,777.3 298.4,776.1 299.7,775 312.9,768.9 311.6,770 310.4,771.2 309.2,772.5 308,773.9 306.9,775.3 305.9,776.9 304.9,778.6 303.9,780.4 303,782.4 302.1,784.5 301.3,786.8 300.5,789.2 299.8,791.8ZM299.7,775 301,773.9 302.3,773 303.7,772.1 305.1,771.3 306.6,770.5 319.9,764.4 318.4,765.2 317,766 315.5,766.9 314.2,767.9 312.9,768.9ZM319.9,764.4 321.4,763.7 323,763.1 324.6,762.5 326.3,762 328,761.5 329.8,761.1 331.5,760.7 333.4,760.3 335.3,760 321.9,766.2 320.1,766.5 318.2,766.8 316.4,767.2 314.7,767.6 313,768.1 311.3,768.6 309.7,769.2 308.2,769.8 306.6,770.5Z" fill="#000080" stroke="#000080" stroke-width="0.6" stroke-linejoin="round"/>
<path d="M247.8,731.9 249.3,733.7 250.7,735.6 252.1,737.5 253.5,739.4 254.9,741.4 256.2,743.3 257.5,745.3 258.8,747.3 260,749.4 261.3,751.5 262.5,753.6 263.6,755.7 264.7,757.9 251.3,763.8 250.2,761.6 249,759.4 247.8,757.3 246.6,755.2 245.4,753.1 244.1,751.1 242.8,749.1 241.4,747.1 240.1,745.1 238.7,743.2 237.2,741.3 235.8,739.4 234.3,737.5ZM264.7,757.9 265.8,760.2 266.9,762.4 267.9,764.8 268.9,767.2 269.9,769.6 270.8,772.2 271.7,774.8 272.6,777.5 273.4,780.3 274.2,783.2 275,786.2 275.7,789.3 276.4,792.6 263.2,798.8 262.5,795.5 261.7,792.3 261,789.2 260.1,786.3 259.3,783.5 258.4,780.8 257.5,778.2 256.6,775.6 255.6,773.1 254.6,770.7 253.5,768.4 252.5,766 251.3,763.8ZM276.4,792.6 277.1,796.1 277.7,799.8 278.3,803.7 278.8,807.8 279.3,812.2 279.8,817 280.3,822.1 280.6,827.7 267.6,834.1 267.2,828.4 266.7,823.3 266.2,818.5 265.7,814 265.1,809.9 264.5,805.9 263.9,802.3 263.2,798.8ZM280.6,827.7 281,833.8 281.3,840.4 281.6,847.4 281.8,854.5 281.9,860.6 282,863.6 269.2,870.1 269.1,867.1 268.9,861 268.7,853.9 268.4,846.8 268,840.2 267.6,834.1ZM269.2,870.1 269.2,867.2 269.2,861.2 269.3,854.2 269.4,847.4 269.6,841 269.8,835.2 270,830 270.4,825.2 270.7,820.8 271.2,816.9 271.6,813.2 272.1,809.9 272.7,806.8 285.9,800.6 285.3,803.7 284.8,807 284.3,810.6 283.9,814.6 283.5,818.9 283.1,823.6 282.8,828.9 282.5,834.6 282.3,841 282.2,847.8 282.1,854.7 282,860.7 282,863.6ZM272.7,806.8 273.3,803.9 273.9,801.3 274.6,798.8 275.3,796.5 276.1,794.4 276.9,792.4 277.7,790.5 278.6,788.7 279.5,787 280.5,785.5 281.4,784 282.5,782.7 283.5,781.4 297,775.2 295.9,776.5 294.8,777.9 293.8,779.3 292.9,780.9 291.9,782.5 291.1,784.3 290.2,786.2 289.4,788.2 288.6,790.3 287.9,792.6 287.2,795.1 286.5,797.7 285.9,800.6ZM283.5,781.4 284.7,780.2 285.8,779 287,778 288.2,777 289.5,776 290.8,775.2 292.1,774.4 293.5,773.6 294.9,772.9 308.4,766.7 307,767.4 305.6,768.2 304.3,769 302.9,769.9 301.7,770.8 300.4,771.8 299.3,772.9 298.1,774 297,775.2ZM308.4,766.7 309.8,766.1 311.3,765.5 312.9,764.9 314.4,764.4 316,763.9 302.5,770.1 300.9,770.6 299.3,771.1 297.8,771.7 296.3,772.3 294.9,772.9Z" fill="#808000" stroke="#808000" stroke-width="0.6" stroke-linejoin="round"/>
<path d="M239.4,743 240.7,744.8 241.9,746.7 243.1,748.5 244.3,750.3 245.5,752.2 246.6,754.1 247.7,756.1 248.8,758 249.9,760 250.9,762.1 251.9,764.2 252.9,766.3 253.9,768.4 240.3,774.4 239.3,772.3 238.3,770.1 237.3,768.1 236.2,766 235.2,764 234.1,762 232.9,760 231.8,758.1 230.6,756.2 229.4,754.3 228.2,752.5 227,750.7 225.7,748.8ZM253.9,768.4 254.8,770.6 255.7,772.9 256.6,775.2 257.5,777.6 258.3,780 259.1,782.5 259.9,785.1 260.6,787.8 261.3,790.6 262,793.5 262.7,796.5 263.3,799.7 263.9,803 250.5,809.2 249.9,805.9 249.2,802.7 248.5,799.7 247.8,796.8 247.1,794 246.3,791.3 245.5,788.7 244.7,786.1 243.9,783.7 243,781.3 242.1,778.9 241.2,776.7 240.3,774.4ZM263.9,803 264.5,806.5 265,810.1 265.6,814 266,818.2 266.5,822.6 266.9,827.4 253.6,833.8 253.2,829 252.7,824.5 252.2,820.4 251.6,816.4 251.1,812.7 250.5,809.2ZM266.9,827.4 267.3,832.6 267.7,838.2 268,844.3 268.3,850.8 268.6,857.8 268.9,864.7 269,870.5 269.1,873.4 256.1,880 256,877.2 255.8,871.2 255.5,864.3 255.2,857.3 254.9,850.8 254.5,844.7 254.1,839 253.6,833.8ZM256.1,880 256.1,877.2 256,871.4 256,864.6 256.1,857.8 256.2,851.5 256.3,845.6 256.5,840.3 256.7,835.5 257,831.1 257.3,827 257.6,823.3 258,819.8 258.4,816.6 271.9,810.3 271.4,813.5 271,816.9 270.6,820.6 270.3,824.6 270,829 269.7,833.9 269.5,839.2 269.3,845 269.2,851.3 269.1,858 269.1,864.8 269.1,870.6 269.1,873.4ZM258.4,816.6 258.9,813.7 259.4,810.9 260,808.4 260.5,805.9 261.1,803.7 261.8,801.6 262.5,799.6 263.2,797.7 263.9,795.9 264.7,794.3 265.5,792.7 266.4,791.2 267.2,789.8 280.9,783.6 280,785 279.1,786.4 278.3,788 277.5,789.7 276.8,791.4 276,793.3 275.3,795.3 274.7,797.4 274,799.6 273.4,802 272.9,804.6 272.4,807.3 271.9,810.3ZM267.2,789.8 268.1,788.5 269.1,787.2 270.1,786.1 271.1,785 272.1,783.9 273.2,782.9 274.3,782 275.4,781.1 276.5,780.3 277.7,779.5 279,778.7 280.2,778.1 281.5,777.4 295.3,771.1 294,771.8 292.7,772.5 291.5,773.2 290.3,774 289.1,774.8 288,775.7 286.9,776.6 285.8,777.6 284.8,778.7 283.7,779.8 282.8,781 281.8,782.2 280.9,783.6ZM281.5,777.4 282.8,776.8 296.6,770.5 295.3,771.1Z" fill="#FFFF00" stroke="#FFFF00" stroke-width="0.6" stroke-linejoin="round"/>
<path d="M229.5,750 230.7,751.7 231.9,753.5 233,755.3 234.1,757.2 235.2,759 236.3,760.9 237.3,762.8 238.3,764.8 239.3,766.7 240.3,768.7 241.3,770.8 242.2,772.9 243.1,775 229.2,781.2 228.3,779 227.4,776.9 226.4,774.8 225.4,772.8 224.4,770.8 223.4,768.9 222.4,766.9 221.3,765 220.2,763.1 219.1,761.3 217.9,759.5 216.8,757.7 215.6,755.9ZM243.1,775 244,777.2 244.8,779.4 245.7,781.7 246.5,784.1 247.3,786.5 248,789 248.8,791.6 249.5,794.2 250.2,797 250.8,799.9 251.4,802.9 252.1,806 252.6,809.3 239,815.7 238.4,812.4 237.7,809.2 237.1,806.2 236.4,803.3 235.7,800.5 235,797.8 234.2,795.3 233.5,792.7 232.7,790.3 231.8,787.9 231,785.6 230.1,783.4 229.2,781.2ZM252.6,809.3 253.2,812.7 253.7,816.4 254.2,820.3 254.7,824.4 255.2,828.8 255.6,833.5 256,838.6 256.4,844.1 256.7,850 257,856.4 257.3,863 257.6,869.6 257.8,875.1 244.5,881.8 244.3,876.3 244,869.7 243.7,863 243.3,856.6 242.9,850.6 242.5,845.1 242.1,840 241.6,835.3 241.1,830.8 240.6,826.7 240.1,822.8 239.5,819.1 239,815.7ZM257.8,875.1 257.9,877.7 244.6,884.4 244.5,881.8ZM244.6,884.4 244.6,881.9 244.5,876.4 244.5,870 244.5,863.5 244.5,857.3 244.6,851.6 244.7,846.4 244.9,841.6 245.1,837.2 245.4,833.2 245.7,829.4 246,826 246.4,822.8 260.1,816.4 259.7,819.5 259.3,822.9 259,826.6 258.7,830.7 258.4,835 258.2,839.8 258,845 257.9,850.7 257.8,856.8 257.8,863.3 257.8,869.7 257.8,875.1 257.9,877.7ZM246.4,822.8 246.8,819.9 247.2,817.1 247.7,814.5 248.2,812.1 248.8,809.8 249.4,807.7 250,805.7 250.6,803.8 251.3,802 252,800.3 252.7,798.7 253.5,797.2 254.3,795.8 268.2,789.4 267.4,790.8 266.6,792.4 265.9,793.9 265.1,795.6 264.4,797.4 263.8,799.3 263.2,801.3 262.6,803.4 262,805.7 261.5,808.1 261,810.7 260.5,813.4 260.1,816.4ZM254.3,795.8 255.1,794.4 256,793.2 256.9,792 257.8,790.8 258.8,789.7 259.7,788.7 260.7,787.7 261.8,786.8 262.8,786 263.9,785.1 265.1,784.4 266.2,783.7 267.4,783 281.4,776.6 280.2,777.3 279.1,778 278,778.8 276.8,779.6 275.8,780.5 274.7,781.4 273.7,782.3 272.7,783.4 271.8,784.4 270.8,785.6 269.9,786.8 269.1,788.1 268.2,789.4ZM267.4,783 268.6,782.3 282.7,776 281.4,776.6Z" fill="#FF00FF" stroke="#FF00FF" stroke-width="0.6" stroke-linejoin="round"/>
<path d="M218.8,762.3 219.9,764.1 220.9,766 221.9,767.8 222.9,769.7 223.9,771.6 224.9,773.5 225.8,775.5 226.8,777.4 227.7,779.5 228.5,781.5 229.4,783.7 230.2,785.8 231.1,788 217,794.3 216.2,792.1 215.3,789.9 214.4,787.8 213.5,785.7 212.6,783.7 211.7,781.7 210.7,779.7 209.8,777.7 208.8,775.8 207.8,773.9 206.7,772.1 205.7,770.2 204.6,768.4ZM231.1,788 231.9,790.3 232.6,792.6 233.4,794.9 234.1,797.4 234.9,799.9 235.6,802.5 236.2,805.2 236.9,807.9 237.5,810.8 238.1,813.8 238.7,816.9 224.8,823.4 224.2,820.3 223.6,817.3 222.9,814.4 222.2,811.6 221.6,808.9 220.8,806.3 220.1,803.7 219.4,801.3 218.6,798.9 217.8,796.6 217,794.3ZM238.7,816.9 239.3,820.2 239.8,823.6 240.3,827.2 240.9,831 241.3,835 241.8,839.3 242.2,843.8 242.7,848.7 243.1,854 243.5,859.6 243.8,865.7 244.2,872.2 244.5,878.8 231,885.7 230.6,879 230.2,872.5 229.8,866.4 229.4,860.7 228.9,855.4 228.5,850.5 228,845.9 227.5,841.6 227,837.6 226.5,833.7 225.9,830.1 225.4,826.7 224.8,823.4ZM244.5,878.8 244.8,885.3 245,890.6 245.1,893.1 231.6,900 231.5,897.5 231.3,892.2 231,885.7ZM231.6,900 231.6,897.6 231.5,892.3 231.4,885.9 231.3,879.4 231.3,873.1 231.3,867.2 231.4,861.8 231.5,856.8 231.6,852.2 231.8,848 232,844.1 232.3,840.5 232.6,837.1 246.4,830.5 246.1,833.8 245.8,837.4 245.6,841.3 245.4,845.6 245.2,850.1 245,855.1 244.9,860.5 244.9,866.3 244.9,872.6 244.9,879.1 245,885.4 245,890.7 245.1,893.1ZM232.6,837.1 232.9,833.9 233.2,831 233.6,828.2 234.1,825.6 234.5,823.2 235,820.9 235.5,818.7 236.1,816.7 236.6,814.7 237.3,812.9 237.9,811.1 238.5,809.5 239.2,807.9 253.3,801.4 252.6,803 252,804.6 251.3,806.4 250.7,808.2 250.1,810.1 249.5,812.2 249,814.3 248.5,816.6 248,819.1 247.6,821.7 247.2,824.4 246.8,827.3 246.4,830.5ZM239.2,807.9 239.9,806.4 240.7,805 241.4,803.6 242.2,802.4 243.1,801.1 243.9,800 244.8,798.9 245.7,797.8 246.6,796.8 247.6,795.9 248.5,795 249.5,794.1 250.6,793.3 264.8,786.8 263.8,787.6 262.8,788.5 261.8,789.4 260.8,790.3 259.9,791.3 259,792.4 258.1,793.5 257.2,794.6 256.4,795.8 255.6,797.1 254.8,798.5 254.1,799.9 253.3,801.4ZM250.6,793.3 251.6,792.5 265.9,786 264.8,786.8Z" fill="#00FFFF" stroke="#00FFFF" stroke-width="0.6" stroke-linejoin="round"/>
<path d="M207.4,787.2 208.3,789 209.3,790.9 210.2,792.7 211.1,794.6 212,796.5 212.8,798.5 213.7,800.5 214.5,802.5 215.4,804.5 216.2,806.6 216.9,808.8 217.7,810.9 218.5,813.2 205.5,819.1 204.7,816.9 204,814.7 203.2,812.5 202.4,810.4 201.5,808.4 200.7,806.3 199.8,804.3 198.9,802.4 198,800.4 197.1,798.5 196.2,796.7 195.2,794.8 194.3,793ZM218.5,813.2 219.2,815.5 219.9,817.8 220.6,820.2 221.3,822.7 221.9,825.2 222.6,827.9 223.2,830.6 223.8,833.4 210.9,839.5 210.3,836.7 209.7,833.9 209,831.3 208.4,828.7 207.7,826.2 207,823.8 206.2,821.4 205.5,819.1ZM223.8,833.4 224.4,836.3 225,839.4 225.5,842.6 226,845.9 226.6,849.4 227.1,853 227.5,856.9 228,860.9 228.5,865.3 228.9,869.9 229.3,874.8 229.7,880.1 230.1,885.7 217.6,892 217.1,886.4 216.7,881.1 216.3,876.1 215.8,871.5 215.3,867.2 214.8,863.1 214.3,859.2 213.8,855.5 213.3,852 212.7,848.7 212.1,845.5 211.5,842.4 210.9,839.5ZM230.1,885.7 230.5,891.7 230.9,898 231.2,904.4 231.5,910.5 231.7,915.4 231.8,917.7 219.5,924.2 219.4,921.9 219.1,916.9 218.8,910.8 218.4,904.4 218,898 217.6,892ZM219.5,924.2 219.4,921.9 219.3,917.1 219.1,911 219,904.7 218.9,898.6 218.9,892.8 218.9,887.4 218.9,882.4 219,877.8 219.1,873.5 219.3,869.5 219.5,865.8 219.7,862.3 232.4,856.1 232.2,859.5 232,863.2 231.8,867.2 231.7,871.5 231.5,876.1 231.5,881.1 231.4,886.5 231.5,892.2 231.5,898.3 231.6,904.6 231.7,910.6 231.8,915.4 231.8,917.7ZM219.7,862.3 219.9,859.1 220.2,856 220.5,853.2 220.9,850.5 221.2,847.9 221.6,845.5 222.1,843.3 222.5,841.1 223,839.1 223.5,837.2 224.1,835.3 224.6,833.6 225.2,831.9 238.2,825.8 237.6,827.4 237,829.2 236.5,831 235.9,832.9 235.4,835 235,837.1 234.5,839.4 234.1,841.8 233.7,844.3 233.4,847 233,849.8 232.7,852.8 232.4,856.1ZM225.2,831.9 225.8,830.3 226.4,828.8 227.1,827.4 227.8,826 228.5,824.7 229.2,823.4 230,822.2 230.7,821.1 231.5,820 232.4,819 233.2,818 234.1,817 235,816.1 248.1,810 247.2,810.9 246.3,811.9 245.5,812.8 244.6,813.9 243.8,815 243,816.1 242.3,817.3 241.5,818.6 240.8,819.9 240.1,821.2 239.5,822.7 238.8,824.2 238.2,825.8ZM235,816.1 235.9,815.3 249,809.2 248.1,810Z" fill="#0000FF" stroke="#0000FF" stroke-width="0.6" stroke-linejoin="round"/>
<path d="M198.6,821.8 199.4,823.4 200.2,825.1 201,826.8 201.8,828.5 202.5,830.2 203.3,832 204,833.8 204.7,835.6 205.4,837.5 206.1,839.4 206.8,841.3 207.4,843.3 208,845.3 196.2,851 195.6,848.9 194.9,846.9 194.3,845 193.6,843.1 192.9,841.2 192.1,839.3 191.4,837.5 190.7,835.8 189.9,834 189.1,832.3 188.3,830.6 187.5,828.9 186.7,827.3ZM208,845.3 208.7,847.4 196.9,853 196.2,851ZM208.7,847.4 209.3,849.5 209.9,851.7 210.5,854 211,856.3 211.6,858.7 212.1,861.1 212.6,863.7 213.2,866.3 213.7,869.1 214.1,872 214.6,875 215.1,878.1 215.5,881.4 203.9,887.2 203.4,883.9 203,880.7 202.5,877.7 202,874.8 201.5,872.1 200.9,869.4 200.4,866.8 199.8,864.4 199.3,862 198.7,859.6 198.1,857.4 197.5,855.2 196.9,853ZM215.5,881.4 215.9,884.8 216.4,888.5 216.8,892.4 217.2,896.5 217.6,900.8 217.9,905.4 218.3,910.3 218.6,915.5 219,920.8 219.3,926.1 219.6,931 219.8,934.9 219.9,936.7 208.6,942.7 208.5,940.9 208.2,937 207.9,932.1 207.6,926.8 207.2,921.4 206.8,916.2 206.4,911.3 206,906.7 205.6,902.3 205.2,898.2 204.8,894.3 204.3,890.7 203.9,887.2ZM208.6,942.7 208.5,941 208.4,937.1 208.2,932.3 208.1,927.1 208,921.9 207.9,916.9 207.9,912.2 207.9,907.8 207.9,903.7 208,899.9 208.1,896.3 208.2,893 208.4,889.9 220,884 219.8,887.2 219.7,890.5 219.6,894 219.5,897.8 219.4,901.9 219.4,906.3 219.4,911 219.4,916 219.5,921.1 219.6,926.3 219.7,931.1 219.8,934.9 219.9,936.7ZM208.4,889.9 208.5,886.9 208.8,884.2 209,881.6 209.3,879.2 209.5,876.9 209.9,874.7 210.2,872.6 210.5,870.7 210.9,868.8 211.3,867 211.8,865.3 212.2,863.7 212.7,862.2 224.5,856.4 224,858 223.6,859.6 223.1,861.3 222.7,863 222.3,864.9 221.9,866.8 221.6,868.9 221.3,871.1 221,873.4 220.7,875.8 220.4,878.4 220.2,881.1 220,884ZM212.7,862.2 213.2,860.7 213.7,859.4 214.2,858 214.8,856.8 215.3,855.5 215.9,854.4 216.5,853.3 217.1,852.2 217.8,851.2 218.5,850.3 219.2,849.3 219.9,848.5 220.6,847.6 232.5,841.9 231.8,842.7 231.1,843.6 230.4,844.5 229.7,845.5 229.1,846.5 228.4,847.5 227.8,848.7 227.2,849.8 226.6,851 226.1,852.3 225.5,853.6 225,855 224.5,856.4ZM220.6,847.6 221.3,846.8 233.3,841.1 232.5,841.9Z" fill="#00FF00" stroke="#00FF00" stroke-width="0.6" stroke-linejoin="round"/>
<path d="M188.6,848.4 189.3,850.1 189.9,851.7 190.5,853.4 191.1,855.1 191.7,856.8 192.3,858.6 192.9,860.4 193.5,862.2 182.8,867.4 182.2,865.5 181.6,863.7 181,862 180.4,860.2 179.8,858.5 179.2,856.8 178.5,855.1 177.9,853.5ZM193.5,862.2 194,864.1 194.6,866 195.1,868 195.6,870 196.2,872 196.7,874.1 197.2,876.3 197.7,878.5 198.1,880.8 198.6,883.1 199.1,885.6 199.5,888.1 199.9,890.7 189.4,895.9 188.9,893.3 188.5,890.8 188,888.4 187.5,886 187,883.7 186.5,881.5 186,879.3 185.5,877.2 185,875.2 184.5,873.2 183.9,871.2 183.4,869.3 182.8,867.4ZM199.9,890.7 200.4,893.4 200.8,896.1 201.2,899.1 201.6,902.1 202,905.2 202.4,908.6 202.8,912 203.2,915.7 203.5,919.5 203.9,923.5 204.3,927.7 204.6,932.2 205,936.8 194.6,942.2 194.3,937.6 193.9,933.2 193.5,928.9 193.1,924.9 192.7,921 192.3,917.4 191.9,913.9 191.5,910.6 191.1,907.4 190.7,904.4 190.3,901.4 189.8,898.6 189.4,895.9ZM205,936.8 205.3,941.5 205.6,946.3 205.9,950.9 206.2,955 206.3,958.1 206.4,959.5 196.2,965 196.1,963.7 195.9,960.5 195.7,956.4 195.3,951.8 195,947 194.6,942.2ZM196.2,965 196.2,963.7 196,960.6 195.9,956.6 195.7,952.1 195.6,947.4 195.5,942.8 195.4,938.3 195.3,934.1 195.2,930 195.2,926.2 195.2,922.6 195.3,919.2 195.3,916 205.8,910.6 205.7,913.8 205.7,917.2 205.6,920.8 205.6,924.6 205.7,928.6 205.7,932.9 205.8,937.3 205.9,941.9 206,946.6 206.1,951.1 206.3,955.1 206.4,958.2 206.4,959.5ZM195.3,916 195.4,913 195.5,910.1 195.6,907.4 195.8,904.9 195.9,902.4 196.1,900.1 196.3,897.9 196.6,895.8 196.8,893.8 197.1,891.8 197.3,890 197.6,888.2 198,886.6 208.6,881.3 208.3,882.9 208,884.7 207.7,886.5 207.4,888.4 207.2,890.5 206.9,892.6 206.7,894.8 206.5,897.1 206.3,899.5 206.1,902.1 206,904.8 205.9,907.6 205.8,910.6ZM198,886.6 198.3,884.9 198.6,883.4 199,881.9 199.4,880.5 199.8,879.1 200.2,877.8 200.6,876.5 201.1,875.3 201.5,874.1 202,873 202.5,871.9 203,870.9 203.5,869.9 214.3,864.6 213.8,865.6 213.2,866.7 212.7,867.7 212.3,868.9 211.8,870 211.3,871.2 210.9,872.5 210.5,873.8 210.1,875.2 209.7,876.6 209.3,878.1 209,879.6 208.6,881.3ZM203.5,869.9 204,868.9 214.8,863.6 214.3,864.6Z" fill="#FF0000" stroke="#FF0000" stroke-width="0.6" stroke-linejoin="round"/>
<path d="M179.3,888.3 179.8,891.4 180.2,894.4 180.6,897.6 181,900.7 181.4,903.9 181.9,907.1 182.3,910.3 182.7,913.5 183.1,916.8 183.5,920.1 183.9,923.5 184.2,926.8 184.6,930.2 175.3,935 174.9,931.6 174.5,928.3 174.1,924.9 173.7,921.6 173.3,918.3 172.9,915 172.4,911.8 172,908.6 171.6,905.4 171.2,902.3 170.7,899.1 170.3,896 169.8,893ZM184.6,930.2 185,933.6 185.4,937 185.7,940.4 186.1,943.9 186.4,947.3 186.8,950.8 187.1,954.2 187.5,957.6 187.8,961.1 188.1,964.5 188.4,967.8 188.7,971.1 189,974.4 179.9,979.4 179.6,976.1 179.3,972.8 179,969.4 178.6,966 178.3,962.6 177.9,959.1 177.6,955.7 177.2,952.2 176.8,948.7 176.5,945.3 176.1,941.9 175.7,938.4 175.3,935ZM189,974.4 189.3,977.6 189.6,980.7 189.8,983.7 190.1,986.6 190.3,989.4 190.5,992 190.7,994.4 190.9,996.6 191.1,998.6 191.2,1000.4 191.3,1001.8 191.4,1002.9 191.5,1003.7 182.5,1008.7 182.5,1008 182.4,1006.8 182.2,1005.4 182.1,1003.7 181.9,1001.7 181.7,999.4 181.5,997 181.3,994.4 181,991.6 180.8,988.7 180.5,985.7 180.2,982.6 179.9,979.4ZM191.5,1003.7 191.5,1004 182.5,1009 182.5,1008.7ZM182.5,1009 182.5,1008.7 182.5,1008 182.5,1006.9 182.4,1005.5 182.4,1003.8 182.3,1001.9 182.2,999.8 182.2,997.4 182.1,994.9 182,992.3 181.9,989.5 181.8,986.6 181.8,983.6 190.8,978.6 190.9,981.6 191,984.5 191,987.3 191.1,989.9 191.2,992.4 191.2,994.8 191.3,996.9 191.3,998.8 191.4,1000.5 191.4,1001.9 191.5,1003 191.5,1003.7 191.5,1004ZM181.8,983.6 181.7,980.6 181.6,977.4 181.5,974.3 181.5,971.1 181.4,967.9 181.3,964.6 181.3,961.4 181.3,958.1 181.2,954.9 181.2,951.6 181.2,948.4 181.1,945.2 181.1,942 190.4,937.1 190.4,940.3 190.4,943.5 190.4,946.7 190.4,950 190.5,953.2 190.5,956.4 190.5,959.7 190.6,962.9 190.6,966.1 190.7,969.3 190.7,972.5 190.8,975.6 190.8,978.6ZM181.1,942 181.1,938.8 181.1,935.7 181.2,932.6 181.2,929.5 181.2,926.4 181.2,923.4 181.3,920.4 181.3,917.5 181.4,914.6 181.5,911.7 181.6,908.8 181.6,906 181.7,903.2 191.2,898.5 191.1,901.2 191,904 190.9,906.9 190.9,909.8 190.8,912.7 190.7,915.6 190.6,918.6 190.6,921.6 190.5,924.7 190.5,927.7 190.5,930.8 190.4,934 190.4,937.1ZM181.7,903.2 181.8,900.5 191.4,895.7 191.2,898.5Z" fill="#000000" stroke="#000000" stroke-width="0.6" stroke-linejoin="round"/>
<path d="M94.4,956.5L68.9,709M94.4,956.5L282.5,1091M282.5,1091L484.3,960.1" stroke="#000" stroke-width="3.6" fill="none" stroke-linecap="square"/>
<path d="M94.4,956.5L102.1,952.6M93.3,945.9L97.3,943.9M92.6,939.6L96.6,937.6M92.1,935.1L96.2,933.1M91.8,931.6L95.8,929.6M91.5,928.7L95.6,926.7M91.2,926.3L95.3,924.3M91,924.2L95.1,922.2M90.8,922.3L94.9,920.4M90.7,920.7L98.6,916.8M89.5,909.6L93.6,907.6M88.9,903.1L93,901.1M88.4,898.4L92.5,896.5M88,894.8L92.1,892.9M87.7,891.9L91.9,889.9M87.4,889.3L91.6,887.4M87.2,887.2L91.4,885.2M87,885.2L91.2,883.3M86.8,883.5L94.9,879.7M85.7,872L89.9,870.1M85,865.3L89.2,863.4M84.5,860.4L88.7,858.5M84.1,856.7L88.3,854.8M83.8,853.6L88,851.7M83.5,851L87.7,849.1M83.3,848.7L87.5,846.8M83.1,846.7L87.3,844.8M82.9,844.9L91.1,841.3M81.7,833L85.9,831.2M80.9,826L85.2,824.2M80.4,821L84.7,819.2M80,817.1L84.3,815.3M79.7,813.9L84,812.1M79.4,811.2L83.7,809.4M79.2,808.8L83.5,807M79,806.8L83.3,804.9M78.8,804.9L87.2,801.4M77.5,792.5L81.9,790.7M76.8,785.2L81.1,783.5M76.2,780L80.6,778.3M75.8,776L80.2,774.2M75.5,772.7L79.9,770.9M75.2,769.8L79.6,768.1M74.9,767.4L79.3,765.6M74.7,765.2L79.1,763.5M74.5,763.3L83.1,759.9M73.2,750.5L77.6,748.7M72.4,742.9L76.9,741.2M71.8,737.5L76.3,735.8M71.4,733.3L75.9,731.5M71.1,729.8L75.6,728.1M70.8,726.9L75.3,725.2M70.5,724.3L75,722.6M70.3,722.1L74.8,720.4M70.1,720.1L78.8,716.8M94.4,956.5L102.1,952.6M102.5,962.4L107,960.1M110.9,968.3L118.6,964.3M119.3,974.4L123.7,972M127.8,980.5L135.6,976.3M136.5,986.6L141,984.2M145.2,992.9L153.1,988.7M154.1,999.3L158.7,996.8M163.2,1005.7L171.1,1001.4M172.3,1012.3L176.9,1009.7M181.6,1018.9L189.5,1014.4M191,1025.7L195.6,1023.1M200.6,1032.5L208.5,1027.9M210.3,1039.5L214.9,1036.8M220.2,1046.5L228.1,1041.7M230.2,1053.6L234.7,1050.9M240.3,1060.9L248.3,1056M250.6,1068.3L255.2,1065.4M261.1,1075.7L269.1,1070.7M271.7,1083.3L276.3,1080.4M282.5,1091L290.5,1085.8" stroke="#000" stroke-width="2" fill="none"/>
<text transform="matrix(0.937,-0.348,0.102,0.995,63.1,734.1)" font-size="19" font-weight="bold" text-anchor="end">10<tspan font-size="13.3" dy="-8.6">-5</tspan></text>
<text transform="matrix(0.930,-0.368,0.102,0.995,67.5,777.3)" font-size="19" font-weight="bold" text-anchor="end">10<tspan font-size="13.3" dy="-8.6">-6</tspan></text>
<text transform="matrix(0.922,-0.387,0.102,0.995,71.8,818.9)" font-size="19" font-weight="bold" text-anchor="end">10<tspan font-size="13.3" dy="-8.6">-7</tspan></text>
<text transform="matrix(0.914,-0.405,0.102,0.995,75.9,858.9)" font-size="19" font-weight="bold" text-anchor="end">10<tspan font-size="13.3" dy="-8.6">-8</tspan></text>
<text transform="matrix(0.907,-0.421,0.102,0.995,79.8,897.5)" font-size="19" font-weight="bold" text-anchor="end">10<tspan font-size="13.3" dy="-8.6">-9</tspan></text>
<text transform="matrix(0.899,-0.437,0.102,0.995,83.7,934.7)" font-size="19" font-weight="bold" text-anchor="end">10<tspan font-size="13.3" dy="-8.6">-10</tspan></text>
<text transform="matrix(0.892,-0.452,0.808,0.589,89.9,967.4)" font-size="16" font-weight="bold" text-anchor="end">25</text>
<text transform="matrix(0.888,-0.460,0.808,0.589,106.3,979.3)" font-size="16" font-weight="bold" text-anchor="end">20</text>
<text transform="matrix(0.884,-0.468,0.808,0.589,123.2,991.7)" font-size="16" font-weight="bold" text-anchor="end">15</text>
<text transform="matrix(0.879,-0.477,0.808,0.589,140.6,1004.3)" font-size="16" font-weight="bold" text-anchor="end">10</text>
<text transform="matrix(0.874,-0.485,0.808,0.589,158.5,1017.3)" font-size="16" font-weight="bold" text-anchor="end">5</text>
<text transform="matrix(0.869,-0.494,0.808,0.589,176.9,1030.8)" font-size="16" font-weight="bold" text-anchor="end">0</text>
<text transform="matrix(0.864,-0.504,0.808,0.589,195.8,1044.6)" font-size="16" font-weight="bold" text-anchor="end">-5</text>
<text transform="matrix(0.858,-0.513,0.808,0.589,215.3,1058.8)" font-size="16" font-weight="bold" text-anchor="end">-10</text>
<text transform="matrix(0.852,-0.523,0.808,0.589,235.4,1073.4)" font-size="16" font-weight="bold" text-anchor="end">-15</text>
<text transform="matrix(0.846,-0.534,0.808,0.589,256.1,1088.5)" font-size="16" font-weight="bold" text-anchor="end">-20</text>
<text transform="matrix(0.839,-0.544,0.808,0.589,277.5,1104.1)" font-size="16" font-weight="bold" text-anchor="end">-25</text>
<text transform="matrix(0.795,0.607,-0.878,0.479,130.2,1055)" font-size="19" font-weight="bold" text-anchor="middle" textLength="133" lengthAdjust="spacingAndGlyphs">Voltage (Volts)</text>
<text transform="matrix(0.132,0.991,-0.915,0.403,9.1,870)" font-size="26" font-weight="bold" text-anchor="middle" textLength="140" lengthAdjust="spacingAndGlyphs">Current (A)</text>
<clipPath id="insB"><rect x="322.8" y="831.1" width="148.4" height="118.4"/></clipPath>
<g clip-path="url(#insB)"><path d="M396.3,912.1 396.3,912.4 396.3,912.7 396.3,913.1 396.4,913.4 396.4,913.8 396.4,914.1 396.4,914.5 396.4,914.8 396.5,915.2 396.5,915.6 396.5,916 396.5,916.4 396.5,916.8 396.6,917.2 396.6,917.6 396.6,918.1 396.6,918.5 396.6,918.9 396.7,919.4 396.7,919.9 396.7,920.4 396.7,920.9 396.7,921.4 396.7,921.9 396.7,922.5 396.8,923 396.8,923.6 396.8,924.2 396.8,924.8 396.8,925.5 396.8,926.1 396.8,926.8 396.8,927.1 396.9,927.1 396.9,927.1 396.9,927.1 396.9,927.1 396.9,927.1 396.9,927.1 396.9,927.1 396.9,927.1 396.9,927.1 396.9,927.1 396.9,927.1 397,927.1 397,927.1 397,927.1 397,927.1 397,927.1 397,927.1 397,927.1 397,927.1 397,927.1 397,927.1 397,927.1 397,927.1 397,927.1 397,927.1 397,927.1 397,927.1 397,927.1 397,927.1 397,927.1 397,927.1 397,927.1 397,927.1 397,927.1 397,927.1 397,927.1 397,927.1 397,927.1 397,927.1 397,927.1 397,927.1 397,927.1 397.1,927.1 397.1,927.1 397.1,927.1 397.1,927.1 397.1,927.1 397.1,927.1 397.1,927.1 397.1,927.1 397.1,927.1 397.1,927.1 397.1,927.1 397.2,927.1 397.2,926.8 397.2,926.1 397.2,925.5 397.2,924.8 397.2,924.2 397.2,923.6 397.2,923 397.3,922.5 397.3,921.9 397.3,921.4 397.3,920.9 397.3,920.4 397.3,919.9 397.3,919.4 397.4,918.9 397.4,918.5 397.4,918.1 397.4,917.6 397.4,917.2 397.5,916.8 397.5,916.4 397.5,916 397.5,915.6 397.5,915.2 397.6,914.8 397.6,914.5 397.6,914.1 397.6,913.8 397.6,913.4 397.7,913.1 397.7,912.7 397.7,912.4 397.7,912.1" stroke="#000000" stroke-width="3.0" fill="none"/><path d="M400.7,894.2 400.6,894.4 400.5,894.7 400.3,894.9 400.2,895.2 400.1,895.5 400,895.8 399.9,896.1 399.8,896.4 399.7,896.7 399.6,897.1 399.5,897.4 399.4,897.8 399.3,898.1 399.2,898.5 399.1,898.9 399,899.3 398.9,899.7 398.8,900.1 398.7,900.5 398.6,901 398.6,901.4 398.5,901.9 398.4,902.4 398.3,902.9 398.3,903.4 398.2,904 398.1,904.5 398.1,905.1 398,905.7 397.9,906.3 397.9,906.9 397.8,907.6 397.8,908.3 397.7,909 397.6,909.8 397.6,910.5 397.5,911.4 397.5,912.2 397.5,913.1 397.4,914 397.4,915 397.3,916.1 397.3,917.2 397.3,918.4 397.2,919.6 397.2,920.9 397.2,922.4 397.1,923.9 397.1,925.6 397.1,927.5 397.1,929.5 397.1,931.8 397.1,934.4 397,934.6 397,934.6 397,934.6 397,934.6 397,934.6 397,934.6 397,934.6 397,934.6 397,934.6 397,934.6 397,934.6 397,934.6 397,934.6 396.9,934.4 396.9,931.8 396.9,929.5 396.9,927.5 396.9,925.6 396.9,923.9 396.8,922.4 396.8,920.9 396.8,919.6 396.7,918.4 396.7,917.2 396.7,916.1 396.6,915 396.6,914 396.5,913.1 396.5,912.2 396.5,911.4 396.4,910.5 396.4,909.8 396.3,909 396.2,908.3 396.2,907.6 396.1,906.9 396.1,906.3 396,905.7 395.9,905.1 395.9,904.5 395.8,904 395.7,903.4 395.7,902.9 395.6,902.4 395.5,901.9 395.4,901.4 395.4,901 395.3,900.5 395.2,900.1 395.1,899.7 395,899.3 394.9,898.9 394.8,898.5 394.7,898.1 394.6,897.8 394.5,897.4 394.4,897.1 394.3,896.7 394.2,896.4 394.1,896.1 394,895.8 393.9,895.5 393.8,895.2 393.7,894.9 393.5,894.7 393.4,894.4 393.3,894.2" stroke="#FF0000" stroke-width="3.0" fill="none"/><path d="M405.2,878.3 404.9,878.8 404.6,879.4 404.4,879.9 404.1,880.5 403.9,881.1 403.6,881.7 403.4,882.3 403.1,882.9 402.9,883.6 402.7,884.3 402.4,885 402.2,885.7 402,886.4 401.8,887.2 401.6,888 401.4,888.8 401.2,889.7 401,890.6 400.8,891.5 400.6,892.1 400.4,892.5 400.3,892.9 400.1,893.3 399.9,893.7 399.8,894.2 399.6,894.6 399.5,895.1 399.3,895.6 399.2,896.2 399,896.7 398.9,897.3 398.8,897.9 398.7,898.6 398.5,899.3 398.4,900 398.3,900.7 398.2,901.5 398.1,902.3 398,903.2 397.9,904.1 397.8,905 397.7,906.1 397.7,907.2 397.6,908.3 397.5,909.5 397.4,910.9 397.4,912.3 397.3,913.8 397.3,915.5 397.2,917.4 397.2,919.4 397.1,921.7 397.1,924.3 397.1,927.3 397.1,930.8 397,935.2 397,940.8 397,946.5 397,946.5 397,946.5 397,946.5 397,946.5 397,940.8 397,935.2 396.9,930.8 396.9,927.3 396.9,924.3 396.9,921.7 396.8,919.4 396.8,917.4 396.7,915.5 396.7,913.8 396.6,912.3 396.6,910.9 396.5,909.5 396.4,908.3 396.3,907.2 396.3,906.1 396.2,905 396.1,904.1 396,903.2 395.9,902.3 395.8,901.5 395.7,900.7 395.6,900 395.5,899.3 395.3,898.6 395.2,897.9 395.1,897.3 395,896.7 394.8,896.2 394.7,895.6 394.5,895.1 394.4,894.6 394.2,894.2 394.1,893.7 393.9,893.3 393.7,892.9 393.6,892.5 393.4,892.1 393.2,891.5 393,890.6 392.8,889.7 392.6,888.8 392.4,888 392.2,887.2 392,886.4 391.8,885.7 391.6,885 391.3,884.3 391.1,883.6 390.9,882.9 390.6,882.3 390.4,881.7 390.1,881.1 389.9,880.5 389.6,879.9 389.4,879.4 389.1,878.8 388.8,878.3" stroke="#00FF00" stroke-width="3.0" fill="none"/><path d="M410.4,870.4 409.9,870.8 409.5,871.2 409.1,871.7 408.6,872.1 408.2,872.6 407.8,873.1 407.4,873.6 407,874.1 406.6,874.6 406.3,875.1 405.9,875.7 405.5,876.3 405.2,876.9 404.9,877.5 404.5,878.1 404.2,878.8 403.9,879.5 403.5,880.3 403.2,881 402.9,881.8 402.6,882.7 402.4,883.6 402.1,884.5 401.8,885.4 401.5,886.4 401.3,887.5 401,888.5 400.8,889.7 400.6,890.4 400.3,890.8 400.1,891.3 399.9,891.8 399.7,892.4 399.5,893 399.3,893.6 399.1,894.3 399,895 398.8,895.7 398.6,896.6 398.5,897.4 398.3,898.3 398.2,899.3 398.1,900.4 397.9,901.5 397.8,902.7 397.7,904 397.6,905.4 397.5,906.9 397.4,908.6 397.4,910.4 397.3,912.4 397.2,914.7 397.2,917.3 397.1,919.6 397.1,919.6 397.1,919.6 397,919.6 397,919.6 397,919.6 397,919.6 397,919.6 397,919.6 397,919.6 396.9,919.6 396.9,919.6 396.9,919.6 396.8,917.3 396.8,914.7 396.7,912.4 396.6,910.4 396.6,908.6 396.5,906.9 396.4,905.4 396.3,904 396.2,902.7 396.1,901.5 395.9,900.4 395.8,899.3 395.7,898.3 395.5,897.4 395.4,896.6 395.2,895.7 395,895 394.9,894.3 394.7,893.6 394.5,893 394.3,892.4 394.1,891.8 393.9,891.3 393.7,890.8 393.4,890.4 393.2,889.7 393,888.5 392.7,887.5 392.5,886.4 392.2,885.4 391.9,884.5 391.6,883.6 391.4,882.7 391.1,881.8 390.8,881 390.5,880.3 390.1,879.5 389.8,878.8 389.5,878.1 389.1,877.5 388.8,876.9 388.5,876.3 388.1,875.7 387.7,875.1 387.4,874.6 387,874.1 386.6,873.6 386.2,873.1 385.8,872.6 385.4,872.1 384.9,871.7 384.5,871.2 384.1,870.8 383.6,870.4" stroke="#0000FF" stroke-width="3.0" fill="none"/><path d="M413.3,867 412.8,867.4 412.3,867.8 411.7,868.2 411.2,868.7 410.7,869.1 410.2,869.6 409.7,870 409.3,870.5 408.8,871 408.3,871.5 407.9,872 407.4,872.5 407,873 406.6,873.6 406.2,874.2 405.8,874.8 405.4,875.4 405,876 404.6,876.7 404.3,877.4 403.9,878.2 403.5,878.9 403.2,879.7 402.9,880.6 402.6,881.5 402.2,882.4 401.9,883.4 401.6,884.5 401.4,885.6 401.1,886.7 400.8,887.9 400.6,888.7 400.3,889.1 400.1,889.7 399.8,890.2 399.6,890.8 399.4,891.5 399.2,892.2 399,892.9 398.8,893.7 398.6,894.6 398.5,895.5 398.3,896.5 398.2,897.6 398,898.8 397.9,900.1 397.8,901.4 397.7,903 397.5,904.6 397.5,906.4 397.4,908.4 397.3,910.7 397.2,912.2 397.2,912.2 397.1,912.2 397.1,912.2 397,912.2 397,912.2 397,912.2 397,912.2 397,912.2 397,912.2 397,912.2 396.9,912.2 396.9,912.2 396.8,912.2 396.8,912.2 396.7,910.7 396.6,908.4 396.5,906.4 396.5,904.6 396.3,903 396.2,901.4 396.1,900.1 396,898.8 395.8,897.6 395.7,896.5 395.5,895.5 395.4,894.6 395.2,893.7 395,892.9 394.8,892.2 394.6,891.5 394.4,890.8 394.2,890.2 393.9,889.7 393.7,889.1 393.4,888.7 393.2,887.9 392.9,886.7 392.6,885.6 392.4,884.5 392.1,883.4 391.8,882.4 391.4,881.5 391.1,880.6 390.8,879.7 390.5,878.9 390.1,878.2 389.7,877.4 389.4,876.7 389,876 388.6,875.4 388.2,874.8 387.8,874.2 387.4,873.6 387,873 386.6,872.5 386.1,872 385.7,871.5 385.2,871 384.7,870.5 384.3,870 383.8,869.6 383.3,869.1 382.8,868.7 382.3,868.2 381.7,867.8 381.2,867.4 380.7,867" stroke="#00FFFF" stroke-width="3.0" fill="none"/><path d="M416.7,863.9 416,864.3 415.4,864.7 414.7,865.2 414.1,865.6 413.5,866 412.9,866.5 412.3,866.9 411.8,867.4 411.2,867.8 410.7,868.3 410.1,868.8 409.6,869.3 409.1,869.8 408.6,870.3 408.1,870.9 407.6,871.4 407.1,872 406.6,872.6 406.2,873.2 405.7,873.8 405.3,874.5 404.9,875.2 404.5,875.9 404.1,876.7 403.7,877.5 403.3,878.3 402.9,879.2 402.6,880.1 402.2,881.1 401.9,882.1 401.6,883.2 401.3,884.4 401,885.7 400.7,886.9 400.4,887.3 400.1,887.9 399.9,888.4 399.6,889 399.4,889.7 399.2,890.4 399,891.2 398.8,892.1 398.6,893.1 398.4,894.1 398.2,895.2 398.1,896.5 397.9,897.8 397.8,899.3 397.7,900.9 397.5,902.7 397.4,904.7 397.3,904.7 397.3,904.7 397.2,904.7 397.1,904.7 397.1,904.7 397,904.7 397,904.7 397,904.7 397,904.7 397,904.7 397,904.7 397,904.7 396.9,904.7 396.9,904.7 396.8,904.7 396.7,904.7 396.7,904.7 396.6,904.7 396.5,902.7 396.3,900.9 396.2,899.3 396.1,897.8 395.9,896.5 395.8,895.2 395.6,894.1 395.4,893.1 395.2,892.1 395,891.2 394.8,890.4 394.6,889.7 394.4,889 394.1,888.4 393.9,887.9 393.6,887.3 393.3,886.9 393,885.7 392.7,884.4 392.4,883.2 392.1,882.1 391.8,881.1 391.4,880.1 391.1,879.2 390.7,878.3 390.3,877.5 389.9,876.7 389.5,875.9 389.1,875.2 388.7,874.5 388.3,873.8 387.8,873.2 387.4,872.6 386.9,872 386.4,871.4 385.9,870.9 385.4,870.3 384.9,869.8 384.4,869.3 383.9,868.8 383.3,868.3 382.8,867.8 382.2,867.4 381.7,866.9 381.1,866.5 380.5,866 379.9,865.6 379.3,865.2 378.6,864.7 378,864.3 377.3,863.9" stroke="#FF00FF" stroke-width="3.0" fill="none"/><path d="M420.7,860.9 420,861.3 419.2,861.7 418.4,862.1 417.7,862.6 417,863 416.2,863.4 415.5,863.9 414.8,864.3 414.2,864.8 413.5,865.3 412.8,865.8 412.2,866.3 411.6,866.8 411,867.3 410.4,867.8 409.8,868.3 409.2,868.9 408.6,869.5 408.1,870 407.6,870.6 407,871.3 406.5,871.9 406,872.6 405.5,873.3 405.1,874 404.6,874.7 404.2,875.5 403.8,876.3 403.3,877.2 402.9,878.1 402.5,879.1 402.2,880.1 401.8,881.3 401.5,882.4 401.1,883.7 400.8,885.1 400.5,885.8 400.2,886.3 399.9,886.8 399.6,887.5 399.4,888.2 399.1,888.9 398.9,889.8 398.7,890.8 398.5,891.8 398.3,893 398.1,894.3 397.9,895.7 397.8,897.3 397.7,899 397.5,901 397.4,901.7 397.3,901.7 397.2,901.7 397.2,901.7 397.1,901.7 397.1,901.7 397,901.7 397,901.7 397,901.7 397,901.7 397,901.7 396.9,901.7 396.9,901.7 396.8,901.7 396.8,901.7 396.7,901.7 396.6,901.7 396.5,901 396.3,899 396.2,897.3 396.1,895.7 395.9,894.3 395.7,893 395.5,891.8 395.3,890.8 395.1,889.8 394.9,888.9 394.6,888.2 394.4,887.5 394.1,886.8 393.8,886.3 393.5,885.8 393.2,885.1 392.9,883.7 392.5,882.4 392.2,881.3 391.8,880.1 391.5,879.1 391.1,878.1 390.7,877.2 390.2,876.3 389.8,875.5 389.4,874.7 388.9,874 388.5,873.3 388,872.6 387.5,871.9 387,871.3 386.4,870.6 385.9,870 385.4,869.5 384.8,868.9 384.2,868.3 383.6,867.8 383,867.3 382.4,866.8 381.8,866.3 381.2,865.8 380.5,865.3 379.8,864.8 379.2,864.3 378.5,863.9 377.8,863.4 377,863 376.3,862.6 375.6,862.1 374.8,861.7 374,861.3 373.3,860.9" stroke="#FFFF00" stroke-width="3.0" fill="none"/><path d="M425.9,857.8 425,858.2 424,858.6 423.1,859 422.2,859.5 421.3,859.9 420.4,860.3 419.6,860.8 418.7,861.2 417.9,861.7 417.1,862.2 416.3,862.7 415.5,863.2 414.8,863.7 414,864.2 413.3,864.7 412.6,865.2 411.9,865.8 411.2,866.4 410.5,866.9 409.9,867.5 409.2,868.1 408.6,868.8 408,869.4 407.4,870.1 406.8,870.7 406.3,871.5 405.8,872.2 405.2,872.9 404.7,873.7 404.2,874.6 403.8,875.4 403.3,876.4 402.9,877.3 402.4,878.4 402,879.5 401.6,880.7 401.3,882 400.9,883.4 400.5,884.4 400.2,884.9 399.9,885.4 399.6,886.1 399.3,886.8 399.1,887.6 398.8,888.6 398.6,889.6 398.4,890.8 398.2,892.2 398,893.7 397.8,895.4 397.7,897.3 397.5,898.7 397.4,898.7 397.3,898.7 397.2,898.7 397.1,898.7 397.1,898.7 397,898.7 397,898.7 397,898.7 397,898.7 397,898.7 396.9,898.7 396.9,898.7 396.8,898.7 396.7,898.7 396.6,898.7 396.5,898.7 396.3,897.3 396.2,895.4 396,893.7 395.8,892.2 395.6,890.8 395.4,889.6 395.2,888.6 394.9,887.6 394.7,886.8 394.4,886.1 394.1,885.4 393.8,884.9 393.5,884.4 393.1,883.4 392.7,882 392.4,880.7 392,879.5 391.6,878.4 391.1,877.3 390.7,876.4 390.2,875.4 389.8,874.6 389.3,873.7 388.8,872.9 388.2,872.2 387.7,871.5 387.2,870.7 386.6,870.1 386,869.4 385.4,868.8 384.8,868.1 384.1,867.5 383.5,866.9 382.8,866.4 382.1,865.8 381.4,865.2 380.7,864.7 380,864.2 379.2,863.7 378.5,863.2 377.7,862.7 376.9,862.2 376.1,861.7 375.3,861.2 374.4,860.8 373.6,860.3 372.7,859.9 371.8,859.5 370.9,859 370,858.6 369,858.2 368.1,857.8" stroke="#808000" stroke-width="3.0" fill="none"/><path d="M431.1,855.1 430,855.5 428.9,856 427.8,856.4 426.7,856.8 425.7,857.2 424.6,857.7 423.6,858.1 422.6,858.6 421.7,859 420.7,859.5 419.8,860 418.8,860.5 417.9,861 417.1,861.5 416.2,862 415.4,862.6 414.5,863.1 413.7,863.7 412.9,864.3 412.2,864.9 411.4,865.5 410.7,866.1 410,866.7 409.3,867.4 408.6,868.1 408,868.8 407.3,869.5 406.7,870.2 406.1,871 405.5,871.8 405,872.6 404.4,873.5 403.9,874.4 403.4,875.3 402.9,876.3 402.5,877.4 402,878.6 401.6,879.9 401.2,881.2 400.8,882.7 400.4,883.3 400.1,883.8 399.7,884.4 399.4,885.1 399.1,885.9 398.9,886.8 398.6,887.9 398.4,889.2 398.1,890.6 397.9,892.2 397.8,894.1 397.6,895.7 397.5,895.7 397.3,895.7 397.2,895.7 397.2,895.7 397.1,895.7 397,895.7 397,895.7 397,895.7 397,895.7 397,895.7 396.9,895.7 396.8,895.7 396.8,895.7 396.7,895.7 396.5,895.7 396.4,895.7 396.2,894.1 396.1,892.2 395.9,890.6 395.6,889.2 395.4,887.9 395.1,886.8 394.9,885.9 394.6,885.1 394.3,884.4 393.9,883.8 393.6,883.3 393.2,882.7 392.8,881.2 392.4,879.9 392,878.6 391.5,877.4 391.1,876.3 390.6,875.3 390.1,874.4 389.6,873.5 389,872.6 388.5,871.8 387.9,871 387.3,870.2 386.7,869.5 386,868.8 385.4,868.1 384.7,867.4 384,866.7 383.3,866.1 382.6,865.5 381.8,864.9 381.1,864.3 380.3,863.7 379.5,863.1 378.6,862.6 377.8,862 376.9,861.5 376.1,861 375.2,860.5 374.2,860 373.3,859.5 372.3,859 371.4,858.6 370.4,858.1 369.4,857.7 368.3,857.2 367.3,856.8 366.2,856.4 365.1,856 364,855.5 362.9,855.1" stroke="#000080" stroke-width="3.0" fill="none"/><path d="M434.5,853.4 433.2,853.8 432,854.2 430.8,854.6 429.6,855 428.5,855.5 427.4,855.9 426.2,856.3 425.1,856.8 424.1,857.3 423,857.7 422,858.2 421,858.7 420,859.2 419,859.7 418.1,860.3 417.2,860.8 416.2,861.4 415.4,861.9 414.5,862.5 413.7,863.1 412.8,863.7 412,864.3 411.2,865 410.5,865.6 409.8,866.3 409,867 408.3,867.7 407.7,868.5 407,869.2 406.4,870 405.8,870.8 405.2,871.7 404.6,872.5 404,873.5 403.5,874.4 403,875.5 402.5,876.5 402,877.7 401.6,879 401.2,880.3 400.8,881.8 400.4,882.3 400,882.7 399.7,883.3 399.3,883.9 399,884.8 398.8,885.7 398.5,886.9 398.3,888.2 398,889.7 397.8,891.5 397.7,892.8 397.5,892.8 397.4,892.8 397.3,892.8 397.2,892.8 397.1,892.8 397,892.8 397,892.8 397,892.8 397,892.8 397,892.8 396.9,892.8 396.8,892.8 396.7,892.8 396.6,892.8 396.5,892.8 396.3,892.8 396.2,891.5 396,889.7 395.7,888.2 395.5,886.9 395.2,885.7 395,884.8 394.7,883.9 394.3,883.3 394,882.7 393.6,882.3 393.2,881.8 392.8,880.3 392.4,879 392,877.7 391.5,876.5 391,875.5 390.5,874.4 390,873.5 389.4,872.5 388.8,871.7 388.2,870.8 387.6,870 387,869.2 386.3,868.5 385.7,867.7 385,867 384.2,866.3 383.5,865.6 382.8,865 382,864.3 381.2,863.7 380.3,863.1 379.5,862.5 378.6,861.9 377.8,861.4 376.8,860.8 375.9,860.3 375,859.7 374,859.2 373,858.7 372,858.2 371,857.7 369.9,857.3 368.9,856.8 367.8,856.3 366.6,855.9 365.5,855.5 364.4,855 363.2,854.6 362,854.2 360.8,853.8 359.5,853.4" stroke="#800080" stroke-width="3.0" fill="none"/><path d="M439.3,851.3 437.9,851.7 436.5,852.1 435.2,852.5 433.8,853 432.5,853.4 431.3,853.8 430,854.3 428.8,854.7 427.6,855.2 426.4,855.7 425.2,856.2 424.1,856.7 423,857.2 421.9,857.7 420.8,858.2 419.7,858.7 418.7,859.3 417.7,859.9 416.7,860.4 415.8,861 414.9,861.6 414,862.3 413.1,862.9 412.2,863.6 411.4,864.2 410.6,864.9 409.8,865.6 409,866.4 408.3,867.1 407.6,867.9 406.9,868.7 406.2,869.6 405.6,870.5 404.9,871.4 404.3,872.3 403.8,873.3 403.2,874.3 402.7,875.4 402.2,876.6 401.7,877.9 401.2,879.2 400.8,880.7 400.4,881.3 400,881.6 399.6,882.1 399.3,882.8 399,883.6 398.7,884.6 398.4,885.8 398.2,887.2 398,888.9 397.8,889.8 397.6,889.8 397.4,889.8 397.3,889.8 397.2,889.8 397.1,889.8 397,889.8 397,889.8 397,889.8 397,889.8 397,889.8 396.9,889.8 396.8,889.8 396.7,889.8 396.6,889.8 396.4,889.8 396.2,889.8 396,888.9 395.8,887.2 395.6,885.8 395.3,884.6 395,883.6 394.7,882.8 394.4,882.1 394,881.6 393.6,881.3 393.2,880.7 392.8,879.2 392.3,877.9 391.8,876.6 391.3,875.4 390.8,874.3 390.2,873.3 389.7,872.3 389.1,871.4 388.4,870.5 387.8,869.6 387.1,868.7 386.4,867.9 385.7,867.1 385,866.4 384.2,865.6 383.4,864.9 382.6,864.2 381.8,863.6 380.9,862.9 380,862.3 379.1,861.6 378.2,861 377.3,860.4 376.3,859.9 375.3,859.3 374.3,858.7 373.2,858.2 372.1,857.7 371,857.2 369.9,856.7 368.8,856.2 367.6,855.7 366.4,855.2 365.2,854.7 364,854.3 362.7,853.8 361.5,853.4 360.2,853 358.8,852.5 357.5,852.1 356.1,851.7 354.7,851.3" stroke="#800000" stroke-width="3.0" fill="none"/><path d="M443.7,849.5 442.2,849.9 440.7,850.3 439.2,850.7 437.7,851.2 436.3,851.6 434.9,852 433.5,852.5 432.1,852.9 430.8,853.4 429.5,853.9 428.2,854.4 426.9,854.9 425.7,855.4 424.5,855.9 423.3,856.4 422.1,856.9 421,857.5 419.9,858.1 418.8,858.6 417.8,859.2 416.8,859.8 415.8,860.5 414.8,861.1 413.8,861.8 412.9,862.4 412,863.1 411.1,863.8 410.3,864.6 409.5,865.3 408.7,866.1 407.9,866.9 407.2,867.8 406.5,868.7 405.8,869.6 405.1,870.5 404.5,871.5 403.9,872.5 403.3,873.6 402.7,874.7 402.2,875.9 401.7,877.2 401.2,878.6 400.8,880.1 400.3,880.4 399.9,880.8 399.5,881.2 399.2,881.9 398.9,882.7 398.6,883.7 398.3,885 398.1,886.5 397.8,888.3 397.6,888.3 397.5,888.3 397.3,888.3 397.2,888.3 397.1,888.3 397.1,888.3 397,888.3 397,888.3 397,888.3 396.9,888.3 396.9,888.3 396.8,888.3 396.7,888.3 396.5,888.3 396.4,888.3 396.2,888.3 395.9,886.5 395.7,885 395.4,883.7 395.1,882.7 394.8,881.9 394.5,881.2 394.1,880.8 393.7,880.4 393.2,880.1 392.8,878.6 392.3,877.2 391.8,875.9 391.3,874.7 390.7,873.6 390.1,872.5 389.5,871.5 388.9,870.5 388.2,869.6 387.5,868.7 386.8,867.8 386.1,866.9 385.3,866.1 384.5,865.3 383.7,864.6 382.9,863.8 382,863.1 381.1,862.4 380.2,861.8 379.2,861.1 378.2,860.5 377.2,859.8 376.2,859.2 375.2,858.6 374.1,858.1 373,857.5 371.9,856.9 370.7,856.4 369.5,855.9 368.3,855.4 367.1,854.9 365.8,854.4 364.5,853.9 363.2,853.4 361.9,852.9 360.5,852.5 359.1,852 357.7,851.6 356.3,851.2 354.8,850.7 353.3,850.3 351.8,849.9 350.3,849.5" stroke="#008000" stroke-width="3.0" fill="none"/><path d="M449.7,847.5 447.9,847.9 446.2,848.3 444.5,848.7 442.9,849.1 441.3,849.6 439.7,850 438.1,850.5 436.6,850.9 435.1,851.4 433.6,851.9 432.1,852.4 430.7,852.8 429.3,853.4 428,853.9 426.6,854.4 425.3,854.9 424.1,855.5 422.8,856 421.6,856.6 420.4,857.2 419.3,857.8 418.1,858.5 417,859.1 416,859.7 414.9,860.4 413.9,861.1 412.9,861.8 412,862.6 411.1,863.3 410.2,864.1 409.3,864.9 408.5,865.8 407.7,866.6 406.9,867.6 406.1,868.5 405.4,869.5 404.7,870.5 404.1,871.6 403.5,872.7 402.9,873.9 402.3,875.1 401.7,876.4 401.2,877.8 400.7,879.4 400.3,879.6 399.9,879.9 399.5,880.3 399.1,880.9 398.8,881.7 398.5,882.8 398.2,884.2 397.9,885.9 397.7,886.8 397.5,886.8 397.4,886.8 397.2,886.8 397.1,886.8 397.1,886.8 397,886.8 397,886.8 397,886.8 396.9,886.8 396.9,886.8 396.8,886.8 396.6,886.8 396.5,886.8 396.3,886.8 396.1,885.9 395.8,884.2 395.5,882.8 395.2,881.7 394.9,880.9 394.5,880.3 394.1,879.9 393.7,879.6 393.3,879.4 392.8,877.8 392.3,876.4 391.7,875.1 391.1,873.9 390.5,872.7 389.9,871.6 389.3,870.5 388.6,869.5 387.9,868.5 387.1,867.6 386.3,866.6 385.5,865.8 384.7,864.9 383.8,864.1 382.9,863.3 382,862.6 381.1,861.8 380.1,861.1 379.1,860.4 378,859.7 377,859.1 375.9,858.5 374.7,857.8 373.6,857.2 372.4,856.6 371.2,856 369.9,855.5 368.7,854.9 367.4,854.4 366,853.9 364.7,853.4 363.3,852.8 361.9,852.4 360.4,851.9 358.9,851.4 357.4,850.9 355.9,850.5 354.3,850 352.7,849.6 351.1,849.1 349.5,848.7 347.8,848.3 346.1,847.9 344.3,847.5" stroke="#008080" stroke-width="3.0" fill="none"/><path d="M454.1,846 452.2,846.4 450.4,846.8 448.6,847.2 446.8,847.6 445,848 443.3,848.5 441.6,848.9 439.9,849.4 438.3,849.9 436.7,850.3 435.1,850.8 433.6,851.3 432.1,851.8 430.6,852.3 429.1,852.9 427.7,853.4 426.3,854 425,854.5 423.7,855.1 422.4,855.7 421.1,856.3 419.9,856.9 418.7,857.6 417.6,858.2 416.4,858.9 415.3,859.6 414.3,860.3 413.3,861 412.3,861.8 411.3,862.6 410.3,863.4 409.4,864.2 408.6,865.1 407.7,866 406.9,867 406.1,867.9 405.4,869 404.7,870 404,871.1 403.3,872.3 402.7,873.6 402.1,874.9 401.6,876.2 401.1,877.7 400.6,878.9 400.1,879 399.7,879.3 399.3,879.7 398.9,880.3 398.6,881.1 398.3,882.3 398,883.9 397.8,885.3 397.6,885.3 397.4,885.3 397.3,885.3 397.1,885.3 397.1,885.3 397,885.3 397,885.3 397,885.3 396.9,885.3 396.9,885.3 396.7,885.3 396.6,885.3 396.4,885.3 396.2,885.3 396,883.9 395.7,882.3 395.4,881.1 395.1,880.3 394.7,879.7 394.3,879.3 393.9,879 393.4,878.9 392.9,877.7 392.4,876.2 391.9,874.9 391.3,873.6 390.7,872.3 390,871.1 389.3,870 388.6,869 387.9,867.9 387.1,867 386.3,866 385.4,865.1 384.6,864.2 383.7,863.4 382.7,862.6 381.7,861.8 380.7,861 379.7,860.3 378.7,859.6 377.6,858.9 376.4,858.2 375.3,857.6 374.1,856.9 372.9,856.3 371.6,855.7 370.3,855.1 369,854.5 367.7,854 366.3,853.4 364.9,852.9 363.4,852.3 361.9,851.8 360.4,851.3 358.9,850.8 357.3,850.3 355.7,849.9 354.1,849.4 352.4,848.9 350.7,848.5 349,848 347.2,847.6 345.4,847.2 343.6,846.8 341.8,846.4 339.9,846" stroke="#0000A8" stroke-width="3.0" fill="none"/><path d="M458.2,844.6 456.2,845 454.2,845.4 452.2,845.8 450.3,846.3 448.4,846.7 446.6,847.1 444.8,847.6 443,848 441.2,848.5 439.5,849 437.8,849.5 436.2,849.9 434.6,850.5 433,851 431.4,851.5 429.9,852 428.4,852.6 427,853.2 425.6,853.7 424.2,854.3 422.9,854.9 421.6,855.6 420.3,856.2 419,856.9 417.8,857.5 416.7,858.2 415.5,858.9 414.4,859.7 413.3,860.4 412.3,861.2 411.3,862 410.3,862.9 409.4,863.8 408.5,864.7 407.6,865.6 406.8,866.6 406,867.6 405.2,868.7 404.5,869.8 403.8,871 403.1,872.2 402.5,873.5 401.9,874.9 401.4,876.3 400.8,877.9 400.3,878.3 399.9,878.4 399.4,878.7 399.1,879.1 398.7,879.7 398.4,880.7 398.1,882.1 397.8,883.8 397.6,883.8 397.4,883.8 397.3,883.8 397.2,883.8 397.1,883.8 397,883.8 397,883.8 397,883.8 396.9,883.8 396.8,883.8 396.7,883.8 396.6,883.8 396.4,883.8 396.2,883.8 395.9,882.1 395.6,880.7 395.3,879.7 394.9,879.1 394.6,878.7 394.1,878.4 393.7,878.3 393.2,877.9 392.6,876.3 392.1,874.9 391.5,873.5 390.9,872.2 390.2,871 389.5,869.8 388.8,868.7 388,867.6 387.2,866.6 386.4,865.6 385.5,864.7 384.6,863.8 383.7,862.9 382.7,862 381.7,861.2 380.7,860.4 379.6,859.7 378.5,858.9 377.3,858.2 376.2,857.5 375,856.9 373.7,856.2 372.4,855.6 371.1,854.9 369.8,854.3 368.4,853.7 367,853.2 365.6,852.6 364.1,852 362.6,851.5 361,851 359.4,850.5 357.8,849.9 356.2,849.5 354.5,849 352.8,848.5 351,848 349.2,847.6 347.4,847.1 345.6,846.7 343.7,846.3 341.8,845.8 339.8,845.4 337.8,845 335.8,844.6" stroke="#FF8000" stroke-width="3.0" fill="none"/><path d="M464.9,842.8 462.6,843.2 460.4,843.6 458.3,844.1 456.1,844.5 454,844.9 452,845.4 450,845.8 448,846.3 446.1,846.7 444.1,847.2 442.3,847.7 440.5,848.2 438.7,848.7 436.9,849.2 435.2,849.7 433.5,850.3 431.9,850.8 430.3,851.4 428.7,852 427.2,852.6 425.7,853.2 424.2,853.8 422.8,854.4 421.4,855.1 420.1,855.8 418.8,856.5 417.5,857.2 416.3,857.9 415.1,858.7 414,859.5 412.9,860.3 411.8,861.1 410.7,862 409.7,862.9 408.8,863.8 407.9,864.8 407,865.8 406.1,866.9 405.3,868 404.5,869.2 403.8,870.4 403.1,871.7 402.5,873.1 401.8,874.5 401.2,876.1 400.7,877.7 400.2,877.7 399.7,877.8 399.3,878 398.9,878.5 398.5,879.2 398.2,880.3 397.9,881.9 397.7,882.3 397.5,882.3 397.3,882.3 397.2,882.3 397.1,882.3 397,882.3 397,882.3 397,882.3 396.9,882.3 396.8,882.3 396.7,882.3 396.5,882.3 396.3,882.3 396.1,881.9 395.8,880.3 395.5,879.2 395.1,878.5 394.7,878 394.3,877.8 393.8,877.7 393.3,877.7 392.8,876.1 392.2,874.5 391.5,873.1 390.9,871.7 390.2,870.4 389.5,869.2 388.7,868 387.9,866.9 387,865.8 386.1,864.8 385.2,863.8 384.3,862.9 383.3,862 382.2,861.1 381.1,860.3 380,859.5 378.9,858.7 377.7,857.9 376.5,857.2 375.2,856.5 373.9,855.8 372.6,855.1 371.2,854.4 369.8,853.8 368.3,853.2 366.8,852.6 365.3,852 363.7,851.4 362.1,850.8 360.5,850.3 358.8,849.7 357.1,849.2 355.3,848.7 353.5,848.2 351.7,847.7 349.9,847.2 347.9,846.7 346,846.3 344,845.8 342,845.4 340,844.9 337.9,844.5 335.7,844.1 333.6,843.6 331.4,843.2 329.1,842.8" stroke="#8000FF" stroke-width="3.0" fill="none"/><path d="M472.3,841.3 469.8,841.5 467.4,841.9 465,842.3 462.6,842.7 460.3,843.2 458,843.6 455.8,844.1 453.6,844.5 451.4,845 449.3,845.4 447.2,845.9 445.2,846.4 443.2,846.9 441.3,847.4 439.4,848 437.5,848.5 435.7,849.1 433.9,849.6 432.2,850.2 430.5,850.8 428.8,851.4 427.2,852 425.6,852.7 424.1,853.3 422.6,854 421.2,854.7 419.8,855.4 418.4,856.2 417.1,856.9 415.8,857.7 414.6,858.5 413.4,859.4 412.3,860.2 411.1,861.1 410.1,862.1 409.1,863.1 408.1,864.1 407.1,865.1 406.2,866.3 405.4,867.4 404.6,868.7 403.8,870 403,871.3 402.4,872.8 401.7,874.3 401.1,876 400.5,877.2 400,877.2 399.5,877.3 399.1,877.5 398.7,877.9 398.3,878.7 398,880 397.8,880.8 397.5,880.8 397.3,880.8 397.2,880.8 397.1,880.8 397,880.8 397,880.8 397,880.8 396.9,880.8 396.8,880.8 396.7,880.8 396.5,880.8 396.2,880.8 396,880 395.7,878.7 395.3,877.9 394.9,877.5 394.5,877.3 394,877.2 393.5,877.2 392.9,876 392.3,874.3 391.6,872.8 391,871.3 390.2,870 389.4,868.7 388.6,867.4 387.8,866.3 386.9,865.1 385.9,864.1 384.9,863.1 383.9,862.1 382.9,861.1 381.7,860.2 380.6,859.4 379.4,858.5 378.2,857.7 376.9,856.9 375.6,856.2 374.2,855.4 372.8,854.7 371.4,854 369.9,853.3 368.4,852.7 366.8,852 365.2,851.4 363.5,850.8 361.8,850.2 360.1,849.6 358.3,849.1 356.5,848.5 354.6,848 352.7,847.4 350.8,846.9 348.8,846.4 346.8,845.9 344.7,845.4 342.6,845 340.4,844.5 338.2,844.1 336,843.6 333.7,843.2 331.4,842.7 329,842.3 326.6,841.9 324.2,841.5 321.7,841.3" stroke="#FF0080" stroke-width="3.0" fill="none"/></g>
<rect x="322.8" y="831.1" width="148.4" height="118.4" fill="none" stroke="#000" stroke-width="1.8"/>
<text x="320.8" y="951.5" font-size="5.6" text-anchor="end" font-weight="bold" fill="#222">10<tspan font-size="3.9" dy="-2">-12</tspan></text>
<text x="320.8" y="936.5" font-size="5.6" text-anchor="end" font-weight="bold" fill="#222">10<tspan font-size="3.9" dy="-2">-11</tspan></text>
<text x="320.8" y="921.6" font-size="5.6" text-anchor="end" font-weight="bold" fill="#222">10<tspan font-size="3.9" dy="-2">-10</tspan></text>
<text x="320.8" y="906.7" font-size="5.6" text-anchor="end" font-weight="bold" fill="#222">10<tspan font-size="3.9" dy="-2">-9</tspan></text>
<text x="320.8" y="891.7" font-size="5.6" text-anchor="end" font-weight="bold" fill="#222">10<tspan font-size="3.9" dy="-2">-8</tspan></text>
<text x="320.8" y="876.8" font-size="5.6" text-anchor="end" font-weight="bold" fill="#222">10<tspan font-size="3.9" dy="-2">-7</tspan></text>
<text x="320.8" y="861.9" font-size="5.6" text-anchor="end" font-weight="bold" fill="#222">10<tspan font-size="3.9" dy="-2">-6</tspan></text>
<text x="320.8" y="846.9" font-size="5.6" text-anchor="end" font-weight="bold" fill="#222">10<tspan font-size="3.9" dy="-2">-5</tspan></text>
<text x="322.8" y="956.1" font-size="5.6" text-anchor="middle" font-weight="bold" fill="#222">-20</text>
<text x="341.4" y="956.1" font-size="5.6" text-anchor="middle" font-weight="bold" fill="#222">-15</text>
<text x="359.9" y="956.1" font-size="5.6" text-anchor="middle" font-weight="bold" fill="#222">-10</text>
<text x="378.4" y="956.1" font-size="5.6" text-anchor="middle" font-weight="bold" fill="#222">-5</text>
<text x="397" y="956.1" font-size="5.6" text-anchor="middle" font-weight="bold" fill="#222">0</text>
<text x="415.6" y="956.1" font-size="5.6" text-anchor="middle" font-weight="bold" fill="#222">5</text>
<text x="434.1" y="956.1" font-size="5.6" text-anchor="middle" font-weight="bold" fill="#222">10</text>
<text x="452.6" y="956.1" font-size="5.6" text-anchor="middle" font-weight="bold" fill="#222">15</text>
<text x="471.2" y="956.1" font-size="5.6" text-anchor="middle" font-weight="bold" fill="#222">20</text>
<path d="M322.8,949.5h2M322.8,934.6h2M322.8,919.6h2M322.8,904.7h2M322.8,889.8h2M322.8,874.8h2M322.8,859.9h2M322.8,845h2M322.8,949.5v-2M341.4,949.5v-2M359.9,949.5v-2M378.4,949.5v-2M397,949.5v-2M415.6,949.5v-2M434.1,949.5v-2M452.6,949.5v-2M471.2,949.5v-2" stroke="#000" stroke-width="1" fill="none"/>
<text x="397" y="973" font-size="9" font-weight="bold" text-anchor="middle" textLength="68" lengthAdjust="spacingAndGlyphs" fill="#222">Voltage (Volts)</text>
<text transform="translate(298,890) rotate(-90)" font-size="7.5" font-weight="bold" text-anchor="middle" textLength="52" lengthAdjust="spacingAndGlyphs" fill="#222">Current (A)</text>
</g>
<g font-family='"Liberation Sans", Arial, sans-serif' font-weight="bold">
<text x="32.6" y="29.5" font-size="51">a</text>
<text x="5.8" y="664.8" font-size="51">b</text>
<text x="35.5" y="380.8" font-size="62">e</text>
</g>
</g>
</svg></body></html>
